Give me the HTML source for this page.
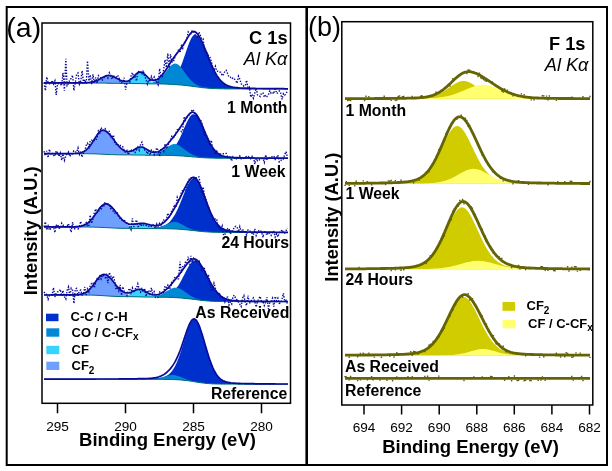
<!DOCTYPE html>
<html><head><meta charset="utf-8">
<style>
html,body{margin:0;padding:0;background:#fff;}
svg{display:block;will-change:transform;}
text{font-family:"Liberation Sans", sans-serif;fill:#000;}
.b{font-weight:bold;}
</style></head><body>
<svg width="612" height="471" viewBox="0 0 612 471">
<rect x="0" y="0" width="612" height="471" fill="#fff"/>
<!-- outer borders -->
<rect x="6.7" y="7" width="600.3" height="458" fill="none" stroke="#000" stroke-width="2"/>
<line x1="306.7" y1="6" x2="306.7" y2="466" stroke="#000" stroke-width="2.6"/>
<!-- plot frames -->
<polygon points="93,82.9 94,82.9 95,82.9 96,82.9 97,82.9 98,82.9 99,82.9 100,82.9 101,82.9 102,83 103,83 104,83 105,83 106,83 107,83 108,83 109,83.1 110,83.1 111,83.1 112,83.1 113,83.1 114,83.1 115,83.1 116,83.2 117,83.2 118,83.2 119,83.2 120,83.2 121,83.2 122,83.2 123,83.2 124,83.2 125,83.2 126,83.2 127,83.2 128,83.2 129,83.2 130,83.2 131,83.2 132,83.2 133,83.2 134,83.2 135,83.2 136,83.2 137,83.2 138,83.2 139,83.3 140,83.3 141,83.3 142,83.3 143,83.3 144,83.3 145,83.3 146,83.4 147,83.4 148,83.4 149,83.4 150,83.3 151,83.3 152,83.3 153,83.3 154,83.3 155,83.3 156,83.2 157,83.2 158,83.2 159,83.1 160,83.1 161,83 162,82.9 163,82.8 164,82.7 165,82.6 166,82.4 167,82.1 168,81.8 169,81.5 170,81 171,80.5 172,79.8 173,79 174,78 175,76.8 176,75.5 177,74 178,72.2 179,70.3 180,68.1 181,65.7 182,63.2 183,60.5 184,57.6 185,54.7 186,51.7 187,48.8 188,46 189,43.3 190,40.9 191,38.7 192,37 193,35.7 194,34.9 195,34.7 196,34.9 197,35.5 198,36.4 199,37.6 200,39.1 201,40.8 202,42.7 203,44.8 204,47.1 205,49.4 206,51.9 207,54.4 208,56.8 209,59.3 210,61.7 211,64 212,66.3 213,68.4 214,70.5 215,72.4 216,74.2 217,75.8 218,77.3 219,78.7 220,79.9 221,81 222,82 223,82.9 224,83.7 225,84.3 226,84.9 227,85.4 228,85.9 229,86.3 230,86.6 231,86.9 232,87.1 233,87.3 234,87.5 235,87.6 236,87.7 237,87.8 238,87.9 239,88 240,88.1 241,88.1 242,88.2 243,88.2 244,88.2 245,88.3 246,88.3 247,88.3 248,88.4 249,88.4 250,88.4 251,88.4 252,88.5 253,88.5 254,88.5 255,88.5 256,88.5 257,88.5 258,88.5 259,88.6 260,88.6 261,88.6 262,88.6 263,88.6 264,88.6 265,88.6 266,88.6 267,88.7 268,88.7 269,88.7 270,88.7 271,88.7 272,88.7 273,88.7 274,88.7 275,88.7 276,88.7 277,88.7 278,88.7 279,88.7 280,88.8 281,88.8 282,88.8 283,88.8 284,88.8 285,88.8 286,88.8 287,88.8 288,88.8 288,89 287,89 286,89 285,89 284,89 283,89 282,89 281,89 280,89 279,89 278,89 277,89 276,89 275,89 274,89 273,89 272,89 271,89 270,89 269,89 268,89 267,89 266,89 265,89 264,89 263,89 262,89 261,89 260,89 259,89 258,89 257,89 256,89 255,89 254,89 253,89 252,89 251,89 250,89 249,89 248,89 247,89 246,89 245,89 244,89 243,89 242,88.9 241,88.9 240,88.9 239,88.9 238,88.9 237,88.9 236,88.9 235,88.9 234,88.9 233,88.9 232,88.9 231,88.9 230,88.9 229,88.9 228,88.9 227,88.9 226,88.9 225,88.9 224,88.8 223,88.8 222,88.8 221,88.8 220,88.8 219,88.7 218,88.7 217,88.7 216,88.6 215,88.6 214,88.6 213,88.5 212,88.5 211,88.4 210,88.3 209,88.3 208,88.2 207,88.1 206,88 205,87.9 204,87.8 203,87.7 202,87.6 201,87.5 200,87.3 199,87.2 198,87.1 197,86.9 196,86.8 195,86.7 194,86.5 193,86.4 192,86.3 191,86.1 190,86 189,85.9 188,85.8 187,85.6 186,85.5 185,85.4 184,85.3 183,85.2 182,85.1 181,85 180,84.9 179,84.9 178,84.8 177,84.7 176,84.6 175,84.6 174,84.5 173,84.4 172,84.4 171,84.3 170,84.3 169,84.2 168,84.2 167,84.1 166,84.1 165,84.1 164,84 163,84 162,84 161,84 160,83.9 159,83.9 158,83.9 157,83.9 156,83.9 155,83.9 154,83.9 153,83.9 152,83.9 151,83.9 150,83.8 149,83.8 148,83.8 147,83.8 146,83.8 145,83.8 144,83.7 143,83.7 142,83.7 141,83.6 140,83.6 139,83.6 138,83.6 137,83.5 136,83.5 135,83.5 134,83.5 133,83.5 132,83.4 131,83.4 130,83.4 129,83.4 128,83.4 127,83.4 126,83.4 125,83.4 124,83.4 123,83.4 122,83.4 121,83.4 120,83.4 119,83.4 118,83.3 117,83.3 116,83.3 115,83.3 114,83.3 113,83.3 112,83.3 111,83.2 110,83.2 109,83.2 108,83.2 107,83.2 106,83.1 105,83.1 104,83.1 103,83.1 102,83.1 101,83.1 100,83.1 99,83.1 98,83 97,83 96,83 95,83 94,83 93,83" fill="#0030CC"/>
<polygon points="100,83 101,83 102,83 103,83 104,83 105,83 106,83.1 107,83.1 108,83.1 109,83.1 110,83.1 111,83.1 112,83.2 113,83.2 114,83.2 115,83.2 116,83.2 117,83.2 118,83.2 119,83.2 120,83.2 121,83.2 122,83.2 123,83.3 124,83.3 125,83.3 126,83.2 127,83.2 128,83.2 129,83.2 130,83.2 131,83.2 132,83.2 133,83.3 134,83.3 135,83.3 136,83.3 137,83.3 138,83.3 139,83.3 140,83.3 141,83.3 142,83.3 143,83.3 144,83.3 145,83.3 146,83.2 147,83.2 148,83.1 149,83 150,82.8 151,82.7 152,82.4 153,82.2 154,81.8 155,81.4 156,80.9 157,80.4 158,79.7 159,79 160,78.2 161,77.2 162,76.2 163,75.1 164,73.9 165,72.7 166,71.4 167,70.2 168,68.9 169,67.7 170,66.6 171,65.6 172,64.8 173,64.2 174,63.8 175,63.6 176,63.7 177,64 178,64.5 179,65.3 180,66.3 181,67.4 182,68.6 183,70 184,71.4 185,72.8 186,74.2 187,75.5 188,76.8 189,78.1 190,79.3 191,80.3 192,81.3 193,82.2 194,83 195,83.7 196,84.3 197,84.9 198,85.4 199,85.8 200,86.2 201,86.5 202,86.7 203,87 204,87.2 205,87.4 206,87.5 207,87.7 208,87.8 209,87.9 210,88 211,88.1 212,88.2 213,88.2 214,88.3 215,88.4 216,88.4 217,88.5 218,88.5 219,88.5 220,88.6 221,88.6 222,88.6 223,88.7 224,88.7 225,88.7 226,88.7 227,88.7 228,88.8 229,88.8 230,88.8 231,88.8 232,88.8 233,88.8 234,88.8 235,88.8 236,88.8 237,88.8 238,88.8 239,88.8 240,88.9 241,88.9 242,88.9 243,88.9 244,88.9 245,88.9 246,88.9 247,88.9 248,88.9 249,88.9 250,88.9 251,88.9 251,89 250,89 249,89 248,89 247,89 246,89 245,89 244,89 243,89 242,88.9 241,88.9 240,88.9 239,88.9 238,88.9 237,88.9 236,88.9 235,88.9 234,88.9 233,88.9 232,88.9 231,88.9 230,88.9 229,88.9 228,88.9 227,88.9 226,88.9 225,88.9 224,88.8 223,88.8 222,88.8 221,88.8 220,88.8 219,88.7 218,88.7 217,88.7 216,88.6 215,88.6 214,88.6 213,88.5 212,88.5 211,88.4 210,88.3 209,88.3 208,88.2 207,88.1 206,88 205,87.9 204,87.8 203,87.7 202,87.6 201,87.5 200,87.3 199,87.2 198,87.1 197,86.9 196,86.8 195,86.7 194,86.5 193,86.4 192,86.3 191,86.1 190,86 189,85.9 188,85.8 187,85.6 186,85.5 185,85.4 184,85.3 183,85.2 182,85.1 181,85 180,84.9 179,84.9 178,84.8 177,84.7 176,84.6 175,84.6 174,84.5 173,84.4 172,84.4 171,84.3 170,84.3 169,84.2 168,84.2 167,84.1 166,84.1 165,84.1 164,84 163,84 162,84 161,84 160,83.9 159,83.9 158,83.9 157,83.9 156,83.9 155,83.9 154,83.9 153,83.9 152,83.9 151,83.9 150,83.8 149,83.8 148,83.8 147,83.8 146,83.8 145,83.8 144,83.7 143,83.7 142,83.7 141,83.6 140,83.6 139,83.6 138,83.6 137,83.5 136,83.5 135,83.5 134,83.5 133,83.5 132,83.4 131,83.4 130,83.4 129,83.4 128,83.4 127,83.4 126,83.4 125,83.4 124,83.4 123,83.4 122,83.4 121,83.4 120,83.4 119,83.4 118,83.3 117,83.3 116,83.3 115,83.3 114,83.3 113,83.3 112,83.3 111,83.2 110,83.2 109,83.2 108,83.2 107,83.2 106,83.1 105,83.1 104,83.1 103,83.1 102,83.1 101,83.1 100,83.1" fill="#0088D4"/>
<polygon points="91,83 92,83 93,83 94,83 95,83 96,83 97,83 98,83 99,83.1 100,83.1 101,83.1 102,83.1 103,83.1 104,83.1 105,83.1 106,83.1 107,83.2 108,83.2 109,83.2 110,83.2 111,83.2 112,83.3 113,83.3 114,83.3 115,83.3 116,83.3 117,83.3 118,83.3 119,83.3 120,83.3 121,83.3 122,83.2 123,83.2 124,83 125,82.9 126,82.6 127,82.3 128,81.8 129,81.3 130,80.6 131,79.8 132,78.9 133,77.9 134,76.8 135,75.8 136,74.8 137,73.9 138,73.2 139,72.8 140,72.6 141,72.7 142,73.1 143,73.8 144,74.6 145,75.6 146,76.7 147,77.8 148,78.8 149,79.8 150,80.7 151,81.4 152,82.1 153,82.6 154,83 155,83.3 156,83.5 157,83.6 158,83.7 159,83.8 160,83.9 161,83.9 162,84 163,84 164,84 165,84.1 166,84.1 167,84.1 168,84.2 169,84.2 170,84.3 171,84.3 172,84.4 173,84.4 174,84.5 175,84.6 176,84.6 177,84.7 178,84.8 179,84.9 180,84.9 181,85 182,85.1 183,85.2 184,85.3 185,85.4 186,85.5 187,85.6 188,85.8 189,85.9 189,85.9 188,85.8 187,85.6 186,85.5 185,85.4 184,85.3 183,85.2 182,85.1 181,85 180,84.9 179,84.9 178,84.8 177,84.7 176,84.6 175,84.6 174,84.5 173,84.4 172,84.4 171,84.3 170,84.3 169,84.2 168,84.2 167,84.1 166,84.1 165,84.1 164,84 163,84 162,84 161,84 160,83.9 159,83.9 158,83.9 157,83.9 156,83.9 155,83.9 154,83.9 153,83.9 152,83.9 151,83.9 150,83.8 149,83.8 148,83.8 147,83.8 146,83.8 145,83.8 144,83.7 143,83.7 142,83.7 141,83.6 140,83.6 139,83.6 138,83.6 137,83.5 136,83.5 135,83.5 134,83.5 133,83.5 132,83.4 131,83.4 130,83.4 129,83.4 128,83.4 127,83.4 126,83.4 125,83.4 124,83.4 123,83.4 122,83.4 121,83.4 120,83.4 119,83.4 118,83.3 117,83.3 116,83.3 115,83.3 114,83.3 113,83.3 112,83.3 111,83.2 110,83.2 109,83.2 108,83.2 107,83.2 106,83.1 105,83.1 104,83.1 103,83.1 102,83.1 101,83.1 100,83.1 99,83.1 98,83 97,83 96,83 95,83 94,83 93,83 92,83 91,83" fill="#38D4FF"/>
<polygon points="46,83 47,83 48,83 49,83 50,83 51,83 52,83 53,83 54,83 55,83 56,83 57,83 58,83 59,83 60,83 61,83 62,83 63,83 64,83 65,83 66,83 67,83 68,83 69,83 70,83 71,83 72,83 73,83 74,83 75,83 76,83 77,83 78,83 79,83 80,83 81,83 82,83 83,83 84,83 85,82.9 86,82.9 87,82.8 88,82.8 89,82.7 90,82.6 91,82.4 92,82.2 93,82 94,81.7 95,81.4 96,81 97,80.6 98,80.1 99,79.6 100,79.1 101,78.5 102,78 103,77.4 104,76.9 105,76.5 106,76.2 107,75.9 108,75.7 109,75.7 110,75.8 111,76 112,76.3 113,76.7 114,77.1 115,77.6 116,78.2 117,78.8 118,79.4 119,79.9 120,80.5 121,80.9 122,81.4 123,81.8 124,82.1 125,82.4 126,82.6 127,82.8 128,83 129,83.1 130,83.2 131,83.3 132,83.3 133,83.4 134,83.4 135,83.5 136,83.5 137,83.5 138,83.5 139,83.6 140,83.6 141,83.6 142,83.7 143,83.7 144,83.7 145,83.8 146,83.8 147,83.8 148,83.8 149,83.8 150,83.8 151,83.9 152,83.9 153,83.9 154,83.9 155,83.9 156,83.9 157,83.9 158,83.9 159,83.9 160,83.9 161,84 162,84 163,84 164,84 165,84.1 166,84.1 167,84.1 168,84.2 169,84.2 170,84.3 171,84.3 172,84.4 172,84.4 171,84.3 170,84.3 169,84.2 168,84.2 167,84.1 166,84.1 165,84.1 164,84 163,84 162,84 161,84 160,83.9 159,83.9 158,83.9 157,83.9 156,83.9 155,83.9 154,83.9 153,83.9 152,83.9 151,83.9 150,83.8 149,83.8 148,83.8 147,83.8 146,83.8 145,83.8 144,83.7 143,83.7 142,83.7 141,83.6 140,83.6 139,83.6 138,83.6 137,83.5 136,83.5 135,83.5 134,83.5 133,83.5 132,83.4 131,83.4 130,83.4 129,83.4 128,83.4 127,83.4 126,83.4 125,83.4 124,83.4 123,83.4 122,83.4 121,83.4 120,83.4 119,83.4 118,83.3 117,83.3 116,83.3 115,83.3 114,83.3 113,83.3 112,83.3 111,83.2 110,83.2 109,83.2 108,83.2 107,83.2 106,83.1 105,83.1 104,83.1 103,83.1 102,83.1 101,83.1 100,83.1 99,83.1 98,83 97,83 96,83 95,83 94,83 93,83 92,83 91,83 90,83 89,83 88,83 87,83 86,83 85,83 84,83 83,83 82,83 81,83 80,83 79,83 78,83 77,83 76,83 75,83 74,83 73,83 72,83 71,83 70,83 69,83 68,83 67,83 66,83 65,83 64,83 63,83 62,83 61,83 60,83 59,83 58,83 57,83 56,83 55,83 54,83 53,83 52,83 51,83 50,83 49,83 48,83 47,83 46,83" fill="#70A0FF"/>
<polyline points="44,83 45,83 46,83 47,83 48,83 49,83 50,83 51,83 52,83 53,83 54,83 55,83 56,83 57,83 58,83 59,83 60,83 61,83 62,83 63,83 64,83 65,83 66,83 67,83 68,83 69,83 70,83 71,83 72,83 73,83 74,83 75,83 76,83 77,83 78,83 79,83 80,83 81,83 82,83 83,83 84,83 85,83 86,83 87,83 88,83 89,83 90,83 91,83 92,83 93,83 94,83 95,83 96,83 97,83 98,83 99,83.1 100,83.1 101,83.1 102,83.1 103,83.1 104,83.1 105,83.1 106,83.1 107,83.2 108,83.2 109,83.2 110,83.2 111,83.2 112,83.3 113,83.3 114,83.3 115,83.3 116,83.3 117,83.3 118,83.3 119,83.4 120,83.4 121,83.4 122,83.4 123,83.4 124,83.4 125,83.4 126,83.4 127,83.4 128,83.4 129,83.4 130,83.4 131,83.4 132,83.4 133,83.5 134,83.5 135,83.5 136,83.5 137,83.5 138,83.6 139,83.6 140,83.6 141,83.6 142,83.7 143,83.7 144,83.7 145,83.8 146,83.8 147,83.8 148,83.8 149,83.8 150,83.8 151,83.9 152,83.9 153,83.9 154,83.9 155,83.9 156,83.9 157,83.9 158,83.9 159,83.9 160,83.9 161,84 162,84 163,84 164,84 165,84.1 166,84.1 167,84.1 168,84.2 169,84.2 170,84.3 171,84.3 172,84.4 173,84.4 174,84.5 175,84.6 176,84.6 177,84.7 178,84.8 179,84.9 180,84.9 181,85 182,85.1 183,85.2 184,85.3 185,85.4 186,85.5 187,85.6 188,85.8 189,85.9 190,86 191,86.1 192,86.3 193,86.4 194,86.5 195,86.7 196,86.8 197,86.9 198,87.1 199,87.2 200,87.3 201,87.5 202,87.6 203,87.7 204,87.8 205,87.9 206,88 207,88.1 208,88.2 209,88.3 210,88.3 211,88.4 212,88.5 213,88.5 214,88.6 215,88.6 216,88.6 217,88.7 218,88.7 219,88.7 220,88.8 221,88.8 222,88.8 223,88.8 224,88.8 225,88.9 226,88.9 227,88.9 228,88.9 229,88.9 230,88.9 231,88.9 232,88.9 233,88.9 234,88.9 235,88.9 236,88.9 237,88.9 238,88.9 239,88.9 240,88.9 241,88.9 242,88.9 243,89 244,89 245,89 246,89 247,89 248,89 249,89 250,89 251,89 252,89 253,89 254,89 255,89 256,89 257,89 258,89 259,89 260,89 261,89 262,89 263,89 264,89 265,89 266,89 267,89 268,89 269,89 270,89 271,89 272,89 273,89 274,89 275,89 276,89 277,89 278,89 279,89 280,89 281,89 282,89 283,89 284,89 285,89 286,89 287,89 288,89" fill="none" stroke="#00707A" stroke-width="1.0"/>
<polyline points="44,82.4 45.4,90.6 46.7,77 48.1,82.5 49.4,83.8 50.8,83.3 52.2,80.4 53.5,84 54.9,81 56.2,94.9 57.6,83.6 59,83.8 60.3,84.1 61.7,85.5 63,72.8 64.4,90.7 65.8,58.8 67.1,85.6 68.5,83.8 69.8,79.6 71.2,78.5 72.6,75.2 73.9,90.5 75.3,82.8 76.6,74.3 78,73 79.4,84.2 80.7,81.5 82.1,70.7 83.4,81.7 84.8,79.6 86.2,83.3 87.5,60.9 88.9,81 90.2,74.9 91.6,84.2 93,74.4 94.3,82.9 95.7,77.4 97,83.2 98.4,75.6 99.8,77.5 101.1,77.9 102.5,80 103.8,78 105.2,76 106.6,75.9 107.9,78 109.3,72.8 110.6,75.8 112,79.2 113.4,75.4 114.7,77 116.1,77.3 117.4,75.3 118.8,76.8 120.2,82.6 121.5,82.8 122.9,81.5 124.2,77.8 125.6,89.7 127,82.5 128.3,81 129.7,82 131,76.2 132.4,72.6 133.8,77.1 135.1,75.7 136.5,81 137.8,71.5 139.2,71.7 140.6,71.9 141.9,74.6 143.3,70.4 144.6,76.6 146,79 147.4,84 148.7,79.9 150.1,81.6 151.4,76.6 152.8,80.7 154.2,77 155.5,79.7 156.9,82.8 158.2,84.8 159.6,68.7 161,76.5 162.3,76.7 163.7,69.2 165,59.9 166.4,67.5 167.8,53.4 169.1,68.2 170.5,54.3 171.8,61.9 173.2,62.2 174.6,58 175.9,54.1 177.3,53 178.6,49.4 180,52.7 181.4,45.9 182.7,48.4 184.1,43.3 185.4,42.3 186.8,39 188.2,32 189.5,33.3 190.9,33.7 192.2,30.7 193.6,31.6 195,34.7 196.3,35.7 197.7,38.2 199,32 200.4,35.5 201.8,39.2 203.1,38.9 204.5,50.4 205.8,51.3 207.2,53.2 208.6,55.7 209.9,57 211.3,61.4 212.6,66.8 214,70.2 215.4,66.3 216.7,71.1 218.1,71.2 219.4,72 220.8,72.4 222.2,75.8 223.5,74.3 224.9,71.2 226.2,70.3 227.6,73.6 229,77.1 230.3,77.1 231.7,78.9 233,77.9 234.4,79.1 235.8,80.9 237.1,83.3 238.5,76.2 239.8,79.1 241.2,83.8 242.6,84.5 243.9,86.2 245.3,85.7 246.6,80.3 248,88.4 249.4,87.2 250.7,97.2 252.1,94.2 253.4,98.2 254.8,93.2 256.2,88.2 257.5,94.8 258.9,95.4 260.2,96.5 261.6,93.2 263,93 264.3,97.2 265.7,94.9 267,96.4 268.4,94.8 269.8,90.7 271.1,93.2 272.5,92.5 273.8,93.8 275.2,87.5 276.6,93.5 277.9,92.8 279.3,90.9 280.6,92.5 282,99.3 283.4,93.7 284.7,95.1 286.1,93.7 287.4,90.6" fill="none" stroke="#0A0A9A" stroke-width="1.4" stroke-dasharray="1.4 1.5"/>
<polyline points="44,82.9 45,82.9 46,82.9 47,82.9 48,82.9 49,82.9 50,82.9 51,82.9 52,82.9 53,82.9 54,82.9 55,82.9 56,82.9 57,82.9 58,82.9 59,82.9 60,82.9 61,82.9 62,82.9 63,82.9 64,82.9 65,82.9 66,82.9 67,82.9 68,82.9 69,82.9 70,82.9 71,82.9 72,82.9 73,82.9 74,82.9 75,82.9 76,82.9 77,82.9 78,82.9 79,82.9 80,82.9 81,82.9 82,82.9 83,82.8 84,82.8 85,82.8 86,82.8 87,82.7 88,82.6 89,82.5 90,82.4 91,82.3 92,82.1 93,81.8 94,81.6 95,81.2 96,80.9 97,80.4 98,80 99,79.4 100,78.9 101,78.3 102,77.8 103,77.2 104,76.7 105,76.3 106,75.9 107,75.7 108,75.5 109,75.5 110,75.5 111,75.7 112,76 113,76.4 114,76.9 115,77.4 116,77.9 117,78.5 118,79.1 119,79.6 120,80.1 121,80.5 122,80.9 123,81.2 124,81.4 125,81.5 126,81.4 127,81.3 128,81 129,80.5 130,79.9 131,79.2 132,78.3 133,77.3 134,76.3 135,75.2 136,74.2 137,73.3 138,72.6 139,72.2 140,72 141,72.1 142,72.4 143,73 144,73.8 145,74.7 146,75.7 147,76.7 148,77.7 149,78.5 150,79.2 151,79.7 152,80.1 153,80.3 154,80.3 155,80.2 156,79.9 157,79.4 158,78.8 159,78.1 160,77.2 161,76.2 162,75.1 163,73.9 164,72.6 165,71.2 166,69.7 167,68.2 168,66.6 169,65 170,63.4 171,61.8 172,60.2 173,58.7 174,57.3 175,55.9 176,54.5 177,53.2 178,52 179,50.7 180,49.4 181,48.1 182,46.7 183,45.2 184,43.7 185,42 186,40.4 187,38.7 188,37.1 189,35.5 190,34.1 191,33 192,32.1 193,31.5 194,31.4 195,31.7 196,32.5 197,33.4 198,34.7 199,36.2 200,37.9 201,39.8 202,41.9 203,44.1 204,46.5 205,48.9 206,51.4 207,53.9 208,56.4 209,58.9 210,61.4 211,63.7 212,66 213,68.2 214,70.2 215,72.1 216,73.9 217,75.6 218,77.1 219,78.5 220,79.7 221,80.8 222,81.8 223,82.7 224,83.5 225,84.2 226,84.8 227,85.3 228,85.7 229,86.1 230,86.4 231,86.7 232,87 233,87.2 234,87.3 235,87.5 236,87.6 237,87.7 238,87.8 239,87.9 240,88 241,88 242,88.1 243,88.1 244,88.2 245,88.2 246,88.2 247,88.3 248,88.3 249,88.3 250,88.3 251,88.4 252,88.4 253,88.4 254,88.4 255,88.4 256,88.5 257,88.5 258,88.5 259,88.5 260,88.5 261,88.5 262,88.5 263,88.6 264,88.6 265,88.6 266,88.6 267,88.6 268,88.6 269,88.6 270,88.6 271,88.6 272,88.7 273,88.7 274,88.7 275,88.7 276,88.7 277,88.7 278,88.7 279,88.7 280,88.7 281,88.7 282,88.7 283,88.7 284,88.7 285,88.8 286,88.8 287,88.8 288,88.8" fill="none" stroke="#0A0A9A" stroke-width="1.7" stroke-linejoin="round"/>
<polygon points="106,154.2 107,154.3 108,154.3 109,154.4 110,154.4 111,154.5 112,154.5 113,154.5 114,154.6 115,154.6 116,154.6 117,154.6 118,154.6 119,154.7 120,154.7 121,154.7 122,154.7 123,154.7 124,154.7 125,154.7 126,154.7 127,154.7 128,154.7 129,154.7 130,154.7 131,154.7 132,154.7 133,154.7 134,154.7 135,154.7 136,154.7 137,154.7 138,154.7 139,154.7 140,154.7 141,154.7 142,154.7 143,154.7 144,154.8 145,154.8 146,154.7 147,154.7 148,154.7 149,154.7 150,154.7 151,154.7 152,154.7 153,154.7 154,154.6 155,154.6 156,154.6 157,154.5 158,154.5 159,154.4 160,154.3 161,154.2 162,154.1 163,153.9 164,153.7 165,153.5 166,153.2 167,152.8 168,152.4 169,151.9 170,151.3 171,150.6 172,149.7 173,148.7 174,147.6 175,146.3 176,144.9 177,143.3 178,141.6 179,139.7 180,137.7 181,135.5 182,133.3 183,131 184,128.6 185,126.3 186,124.1 187,121.9 188,119.9 189,118.2 190,116.6 191,115.5 192,114.6 193,114.2 194,114.2 195,114.5 196,115.2 197,116.3 198,117.7 199,119.3 200,121.2 201,123.3 202,125.5 203,127.8 204,130.1 205,132.5 206,134.8 207,137.1 208,139.2 209,141.3 210,143.2 211,145 212,146.7 213,148.2 214,149.5 215,150.7 216,151.8 217,152.7 218,153.5 219,154.2 220,154.8 221,155.3 222,155.8 223,156.1 224,156.4 225,156.6 226,156.9 227,157 228,157.2 229,157.3 230,157.4 231,157.4 232,157.5 233,157.6 234,157.6 235,157.7 236,157.7 237,157.7 238,157.8 239,157.8 240,157.8 241,157.8 242,157.8 243,157.9 244,157.9 245,157.9 246,157.9 247,157.9 248,157.9 249,157.9 250,158 251,158 252,158 253,158 254,158 255,158 256,158 257,158 258,158 259,158 260,158.1 261,158.1 262,158.1 263,158.1 264,158.1 265,158.1 266,158.1 267,158.1 268,158.1 269,158.1 270,158.1 271,158.1 272,158.1 273,158.1 274,158.1 275,158.1 276,158.1 277,158.1 278,158.1 279,158.2 280,158.2 281,158.2 281,158.3 280,158.3 279,158.3 278,158.3 277,158.3 276,158.3 275,158.3 274,158.3 273,158.3 272,158.3 271,158.3 270,158.3 269,158.3 268,158.3 267,158.3 266,158.3 265,158.3 264,158.3 263,158.3 262,158.3 261,158.3 260,158.3 259,158.3 258,158.3 257,158.3 256,158.3 255,158.3 254,158.3 253,158.3 252,158.3 251,158.3 250,158.3 249,158.3 248,158.3 247,158.3 246,158.3 245,158.3 244,158.3 243,158.3 242,158.3 241,158.3 240,158.3 239,158.3 238,158.3 237,158.3 236,158.3 235,158.3 234,158.3 233,158.3 232,158.3 231,158.3 230,158.3 229,158.3 228,158.3 227,158.3 226,158.2 225,158.2 224,158.2 223,158.2 222,158.2 221,158.2 220,158.2 219,158.2 218,158.2 217,158.2 216,158.2 215,158.2 214,158.1 213,158.1 212,158.1 211,158.1 210,158 209,158 208,158 207,157.9 206,157.9 205,157.8 204,157.8 203,157.7 202,157.6 201,157.6 200,157.5 199,157.4 198,157.3 197,157.2 196,157.1 195,157 194,157 193,156.9 192,156.8 191,156.7 190,156.6 189,156.5 188,156.4 187,156.3 186,156.3 185,156.2 184,156.1 183,156 182,156 181,155.9 180,155.9 179,155.8 178,155.7 177,155.7 176,155.7 175,155.6 174,155.6 173,155.5 172,155.5 171,155.5 170,155.4 169,155.4 168,155.4 167,155.4 166,155.3 165,155.3 164,155.3 163,155.3 162,155.3 161,155.3 160,155.3 159,155.3 158,155.2 157,155.2 156,155.2 155,155.2 154,155.2 153,155.2 152,155.2 151,155.2 150,155.2 149,155.2 148,155.2 147,155.2 146,155.2 145,155.1 144,155.1 143,155.1 142,155.1 141,155.1 140,155.1 139,155 138,155 137,155 136,155 135,155 134,155 133,155 132,155 131,154.9 130,154.9 129,154.9 128,154.9 127,154.9 126,154.9 125,154.9 124,154.9 123,154.9 122,154.9 121,154.9 120,154.8 119,154.8 118,154.8 117,154.8 116,154.8 115,154.7 114,154.7 113,154.7 112,154.6 111,154.6 110,154.6 109,154.5 108,154.5 107,154.4 106,154.4" fill="#0030CC"/>
<polygon points="99,154 100,154 101,154.1 102,154.1 103,154.2 104,154.2 105,154.3 106,154.3 107,154.4 108,154.4 109,154.5 110,154.5 111,154.5 112,154.6 113,154.6 114,154.6 115,154.7 116,154.7 117,154.7 118,154.7 119,154.8 120,154.8 121,154.8 122,154.8 123,154.8 124,154.8 125,154.8 126,154.8 127,154.8 128,154.8 129,154.8 130,154.8 131,154.8 132,154.8 133,154.8 134,154.9 135,154.9 136,154.9 137,154.9 138,154.9 139,154.9 140,154.9 141,154.9 142,154.9 143,154.9 144,154.9 145,154.9 146,154.8 147,154.8 148,154.7 149,154.7 150,154.6 151,154.5 152,154.3 153,154.2 154,153.9 155,153.7 156,153.4 157,153.1 158,152.7 159,152.2 160,151.7 161,151.2 162,150.6 163,150 164,149.3 165,148.6 166,147.9 167,147.2 168,146.6 169,145.9 170,145.4 171,144.9 172,144.5 173,144.3 174,144.1 175,144.1 176,144.3 177,144.5 178,144.9 179,145.4 180,146 181,146.7 182,147.4 183,148.2 184,149 185,149.7 186,150.5 187,151.3 188,152 189,152.6 190,153.3 191,153.8 192,154.4 193,154.8 194,155.3 195,155.6 196,156 197,156.2 198,156.5 199,156.7 200,156.9 201,157.1 202,157.2 203,157.3 204,157.5 205,157.5 206,157.6 207,157.7 208,157.8 209,157.8 210,157.9 211,157.9 212,157.9 213,158 214,158 215,158 216,158.1 217,158.1 218,158.1 219,158.1 220,158.1 221,158.1 222,158.1 223,158.1 224,158.2 225,158.2 226,158.2 227,158.2 228,158.2 229,158.2 230,158.2 231,158.2 232,158.2 233,158.2 234,158.2 235,158.2 236,158.2 237,158.2 238,158.2 239,158.2 240,158.2 241,158.2 242,158.2 243,158.2 244,158.2 245,158.2 246,158.2 247,158.2 248,158.2 249,158.2 250,158.2 250,158.3 249,158.3 248,158.3 247,158.3 246,158.3 245,158.3 244,158.3 243,158.3 242,158.3 241,158.3 240,158.3 239,158.3 238,158.3 237,158.3 236,158.3 235,158.3 234,158.3 233,158.3 232,158.3 231,158.3 230,158.3 229,158.3 228,158.3 227,158.3 226,158.2 225,158.2 224,158.2 223,158.2 222,158.2 221,158.2 220,158.2 219,158.2 218,158.2 217,158.2 216,158.2 215,158.2 214,158.1 213,158.1 212,158.1 211,158.1 210,158 209,158 208,158 207,157.9 206,157.9 205,157.8 204,157.8 203,157.7 202,157.6 201,157.6 200,157.5 199,157.4 198,157.3 197,157.2 196,157.1 195,157 194,157 193,156.9 192,156.8 191,156.7 190,156.6 189,156.5 188,156.4 187,156.3 186,156.3 185,156.2 184,156.1 183,156 182,156 181,155.9 180,155.9 179,155.8 178,155.7 177,155.7 176,155.7 175,155.6 174,155.6 173,155.5 172,155.5 171,155.5 170,155.4 169,155.4 168,155.4 167,155.4 166,155.3 165,155.3 164,155.3 163,155.3 162,155.3 161,155.3 160,155.3 159,155.3 158,155.2 157,155.2 156,155.2 155,155.2 154,155.2 153,155.2 152,155.2 151,155.2 150,155.2 149,155.2 148,155.2 147,155.2 146,155.2 145,155.1 144,155.1 143,155.1 142,155.1 141,155.1 140,155.1 139,155 138,155 137,155 136,155 135,155 134,155 133,155 132,155 131,154.9 130,154.9 129,154.9 128,154.9 127,154.9 126,154.9 125,154.9 124,154.9 123,154.9 122,154.9 121,154.9 120,154.8 119,154.8 118,154.8 117,154.8 116,154.8 115,154.7 114,154.7 113,154.7 112,154.6 111,154.6 110,154.6 109,154.5 108,154.5 107,154.4 106,154.4 105,154.3 104,154.3 103,154.2 102,154.2 101,154.1 100,154.1 99,154" fill="#0088D4"/>
<polygon points="89,153.8 90,153.8 91,153.8 92,153.8 93,153.8 94,153.9 95,153.9 96,153.9 97,154 98,154 99,154 100,154.1 101,154.1 102,154.2 103,154.2 104,154.3 105,154.3 106,154.4 107,154.4 108,154.5 109,154.5 110,154.6 111,154.6 112,154.6 113,154.7 114,154.7 115,154.7 116,154.8 117,154.8 118,154.8 119,154.8 120,154.8 121,154.8 122,154.8 123,154.7 124,154.6 125,154.5 126,154.4 127,154.1 128,153.9 129,153.5 130,153.1 131,152.5 132,152 133,151.3 134,150.6 135,149.9 136,149.3 137,148.7 138,148.2 139,147.8 140,147.6 141,147.6 142,147.7 143,148 144,148.5 145,149.1 146,149.7 147,150.4 148,151.1 149,151.8 150,152.4 151,153 152,153.5 153,153.9 154,154.3 155,154.5 156,154.7 157,154.9 158,155 159,155.1 160,155.2 161,155.2 162,155.2 163,155.3 164,155.3 165,155.3 166,155.3 167,155.4 168,155.4 169,155.4 170,155.4 171,155.5 172,155.5 173,155.5 174,155.6 175,155.6 176,155.7 177,155.7 178,155.7 179,155.8 180,155.9 181,155.9 182,156 183,156 184,156.1 185,156.2 186,156.3 187,156.3 188,156.4 189,156.5 190,156.6 191,156.7 192,156.8 192,156.8 191,156.7 190,156.6 189,156.5 188,156.4 187,156.3 186,156.3 185,156.2 184,156.1 183,156 182,156 181,155.9 180,155.9 179,155.8 178,155.7 177,155.7 176,155.7 175,155.6 174,155.6 173,155.5 172,155.5 171,155.5 170,155.4 169,155.4 168,155.4 167,155.4 166,155.3 165,155.3 164,155.3 163,155.3 162,155.3 161,155.3 160,155.3 159,155.3 158,155.2 157,155.2 156,155.2 155,155.2 154,155.2 153,155.2 152,155.2 151,155.2 150,155.2 149,155.2 148,155.2 147,155.2 146,155.2 145,155.1 144,155.1 143,155.1 142,155.1 141,155.1 140,155.1 139,155 138,155 137,155 136,155 135,155 134,155 133,155 132,155 131,154.9 130,154.9 129,154.9 128,154.9 127,154.9 126,154.9 125,154.9 124,154.9 123,154.9 122,154.9 121,154.9 120,154.8 119,154.8 118,154.8 117,154.8 116,154.8 115,154.7 114,154.7 113,154.7 112,154.6 111,154.6 110,154.6 109,154.5 108,154.5 107,154.4 106,154.4 105,154.3 104,154.3 103,154.2 102,154.2 101,154.1 100,154.1 99,154 98,154 97,154 96,153.9 95,153.9 94,153.9 93,153.8 92,153.8 91,153.8 90,153.8 89,153.8" fill="#38D4FF"/>
<polygon points="44,153.7 45,153.7 46,153.7 47,153.7 48,153.7 49,153.7 50,153.7 51,153.7 52,153.7 53,153.7 54,153.7 55,153.7 56,153.7 57,153.7 58,153.7 59,153.7 60,153.7 61,153.7 62,153.7 63,153.7 64,153.7 65,153.7 66,153.7 67,153.7 68,153.7 69,153.7 70,153.7 71,153.7 72,153.7 73,153.6 74,153.6 75,153.6 76,153.5 77,153.4 78,153.3 79,153.2 80,153 81,152.7 82,152.4 83,152 84,151.5 85,150.9 86,150.2 87,149.4 88,148.4 89,147.2 90,146 91,144.6 92,143.1 93,141.5 94,139.9 95,138.3 96,136.7 97,135.2 98,133.8 99,132.6 100,131.7 101,130.9 102,130.5 103,130.4 104,130.6 105,130.9 106,131.4 107,132.1 108,133 109,134 110,135.1 111,136.3 112,137.6 113,138.9 114,140.3 115,141.6 116,142.9 117,144.2 118,145.4 119,146.6 120,147.6 121,148.6 122,149.5 123,150.3 124,151.1 125,151.7 126,152.2 127,152.7 128,153.1 129,153.5 130,153.8 131,154 132,154.2 133,154.4 134,154.5 135,154.6 136,154.7 137,154.8 138,154.9 139,154.9 140,155 141,155 142,155 143,155.1 144,155.1 145,155.1 146,155.1 147,155.2 148,155.2 149,155.2 150,155.2 151,155.2 152,155.2 153,155.2 154,155.2 155,155.2 156,155.2 157,155.2 158,155.2 159,155.3 160,155.3 161,155.3 162,155.3 163,155.3 164,155.3 165,155.3 166,155.3 167,155.4 168,155.4 169,155.4 170,155.4 171,155.5 172,155.5 173,155.5 174,155.6 175,155.6 176,155.7 177,155.7 178,155.7 179,155.8 180,155.9 181,155.9 182,156 183,156 184,156.1 185,156.2 186,156.3 187,156.3 188,156.4 189,156.5 190,156.6 190,156.6 189,156.5 188,156.4 187,156.3 186,156.3 185,156.2 184,156.1 183,156 182,156 181,155.9 180,155.9 179,155.8 178,155.7 177,155.7 176,155.7 175,155.6 174,155.6 173,155.5 172,155.5 171,155.5 170,155.4 169,155.4 168,155.4 167,155.4 166,155.3 165,155.3 164,155.3 163,155.3 162,155.3 161,155.3 160,155.3 159,155.3 158,155.2 157,155.2 156,155.2 155,155.2 154,155.2 153,155.2 152,155.2 151,155.2 150,155.2 149,155.2 148,155.2 147,155.2 146,155.2 145,155.1 144,155.1 143,155.1 142,155.1 141,155.1 140,155.1 139,155 138,155 137,155 136,155 135,155 134,155 133,155 132,155 131,154.9 130,154.9 129,154.9 128,154.9 127,154.9 126,154.9 125,154.9 124,154.9 123,154.9 122,154.9 121,154.9 120,154.8 119,154.8 118,154.8 117,154.8 116,154.8 115,154.7 114,154.7 113,154.7 112,154.6 111,154.6 110,154.6 109,154.5 108,154.5 107,154.4 106,154.4 105,154.3 104,154.3 103,154.2 102,154.2 101,154.1 100,154.1 99,154 98,154 97,154 96,153.9 95,153.9 94,153.9 93,153.8 92,153.8 91,153.8 90,153.8 89,153.8 88,153.7 87,153.7 86,153.7 85,153.7 84,153.7 83,153.7 82,153.7 81,153.7 80,153.7 79,153.7 78,153.7 77,153.7 76,153.7 75,153.7 74,153.7 73,153.7 72,153.7 71,153.7 70,153.7 69,153.7 68,153.7 67,153.7 66,153.7 65,153.7 64,153.7 63,153.7 62,153.7 61,153.7 60,153.7 59,153.7 58,153.7 57,153.7 56,153.7 55,153.7 54,153.7 53,153.7 52,153.7 51,153.7 50,153.7 49,153.7 48,153.7 47,153.7 46,153.7 45,153.7 44,153.7" fill="#70A0FF"/>
<polyline points="44,153.7 45,153.7 46,153.7 47,153.7 48,153.7 49,153.7 50,153.7 51,153.7 52,153.7 53,153.7 54,153.7 55,153.7 56,153.7 57,153.7 58,153.7 59,153.7 60,153.7 61,153.7 62,153.7 63,153.7 64,153.7 65,153.7 66,153.7 67,153.7 68,153.7 69,153.7 70,153.7 71,153.7 72,153.7 73,153.7 74,153.7 75,153.7 76,153.7 77,153.7 78,153.7 79,153.7 80,153.7 81,153.7 82,153.7 83,153.7 84,153.7 85,153.7 86,153.7 87,153.7 88,153.7 89,153.8 90,153.8 91,153.8 92,153.8 93,153.8 94,153.9 95,153.9 96,153.9 97,154 98,154 99,154 100,154.1 101,154.1 102,154.2 103,154.2 104,154.3 105,154.3 106,154.4 107,154.4 108,154.5 109,154.5 110,154.6 111,154.6 112,154.6 113,154.7 114,154.7 115,154.7 116,154.8 117,154.8 118,154.8 119,154.8 120,154.8 121,154.9 122,154.9 123,154.9 124,154.9 125,154.9 126,154.9 127,154.9 128,154.9 129,154.9 130,154.9 131,154.9 132,155 133,155 134,155 135,155 136,155 137,155 138,155 139,155 140,155.1 141,155.1 142,155.1 143,155.1 144,155.1 145,155.1 146,155.2 147,155.2 148,155.2 149,155.2 150,155.2 151,155.2 152,155.2 153,155.2 154,155.2 155,155.2 156,155.2 157,155.2 158,155.2 159,155.3 160,155.3 161,155.3 162,155.3 163,155.3 164,155.3 165,155.3 166,155.3 167,155.4 168,155.4 169,155.4 170,155.4 171,155.5 172,155.5 173,155.5 174,155.6 175,155.6 176,155.7 177,155.7 178,155.7 179,155.8 180,155.9 181,155.9 182,156 183,156 184,156.1 185,156.2 186,156.3 187,156.3 188,156.4 189,156.5 190,156.6 191,156.7 192,156.8 193,156.9 194,157 195,157 196,157.1 197,157.2 198,157.3 199,157.4 200,157.5 201,157.6 202,157.6 203,157.7 204,157.8 205,157.8 206,157.9 207,157.9 208,158 209,158 210,158 211,158.1 212,158.1 213,158.1 214,158.1 215,158.2 216,158.2 217,158.2 218,158.2 219,158.2 220,158.2 221,158.2 222,158.2 223,158.2 224,158.2 225,158.2 226,158.2 227,158.3 228,158.3 229,158.3 230,158.3 231,158.3 232,158.3 233,158.3 234,158.3 235,158.3 236,158.3 237,158.3 238,158.3 239,158.3 240,158.3 241,158.3 242,158.3 243,158.3 244,158.3 245,158.3 246,158.3 247,158.3 248,158.3 249,158.3 250,158.3 251,158.3 252,158.3 253,158.3 254,158.3 255,158.3 256,158.3 257,158.3 258,158.3 259,158.3 260,158.3 261,158.3 262,158.3 263,158.3 264,158.3 265,158.3 266,158.3 267,158.3 268,158.3 269,158.3 270,158.3 271,158.3 272,158.3 273,158.3 274,158.3 275,158.3 276,158.3 277,158.3 278,158.3 279,158.3 280,158.3 281,158.3 282,158.3 283,158.3 284,158.3 285,158.3 286,158.3 287,158.3 288,158.3" fill="none" stroke="#00707A" stroke-width="1.0"/>
<polyline points="44,151.2 45.4,155.6 46.7,150.9 48.1,157.7 49.4,149.2 50.8,155 52.2,153.6 53.5,155.2 54.9,156.3 56.2,150.8 57.6,152.9 59,156.4 60.3,153.1 61.7,160.2 63,153.9 64.4,160.4 65.8,156.2 67.1,153.6 68.5,152 69.8,156.5 71.2,154.1 72.6,153.7 73.9,150.8 75.3,151.8 76.6,152.2 78,148 79.4,154.6 80.7,152.5 82.1,157.1 83.4,153.3 84.8,150.3 86.2,145.4 87.5,143.3 88.9,147 90.2,141.1 91.6,140.2 93,141.5 94.3,140.4 95.7,140.5 97,138.1 98.4,130.9 99.8,132.9 101.1,127.6 102.5,130.3 103.8,130.2 105.2,128.8 106.6,131.7 107.9,131.1 109.3,131.3 110.6,136.2 112,137.8 113.4,135.1 114.7,142.6 116.1,144.3 117.4,143.6 118.8,146.1 120.2,145.5 121.5,145.6 122.9,147 124.2,150.2 125.6,152.7 127,150.6 128.3,154.6 129.7,151.9 131,149.3 132.4,151.5 133.8,150.6 135.1,152.5 136.5,149.9 137.8,147.2 139.2,150.3 140.6,144.4 141.9,142.2 143.3,147.5 144.6,149.9 146,150.8 147.4,153.9 148.7,150.9 150.1,155 151.4,149.9 152.8,150.5 154.2,154.3 155.5,150.5 156.9,147.9 158.2,150.3 159.6,156.6 161,148.4 162.3,149.2 163.7,151.2 165,143.6 166.4,148.8 167.8,145.8 169.1,142.5 170.5,139.9 171.8,136.4 173.2,137.9 174.6,136.8 175.9,133.2 177.3,129.7 178.6,128.4 180,129.3 181.4,131.7 182.7,130.4 184.1,116.6 185.4,120.3 186.8,117.9 188.2,115.6 189.5,115.3 190.9,112.6 192.2,109.5 193.6,110.8 195,114.7 196.3,115.4 197.7,116.6 199,119.8 200.4,119.3 201.8,122.8 203.1,129.1 204.5,134.8 205.8,134.2 207.2,136.8 208.6,141.1 209.9,145.4 211.3,140.3 212.6,149.2 214,150.4 215.4,154.5 216.7,151.1 218.1,153 219.4,155 220.8,153.9 222.2,153.9 223.5,153.7 224.9,153.5 226.2,153.4 227.6,156.6 229,156.9 230.3,157.1 231.7,161.1 233,156.6 234.4,157.7 235.8,159.6 237.1,157.5 238.5,158.2 239.8,156 241.2,158.7 242.6,157.9 243.9,158.5 245.3,157.1 246.6,156.3 248,156.1 249.4,157.9 250.7,158.7 252.1,156.2 253.4,156.2 254.8,164.1 256.2,158.4 257.5,160.7 258.9,159.6 260.2,160.1 261.6,158.6 263,158.7 264.3,162.4 265.7,154.8 267,160.2 268.4,157.1 269.8,158.1 271.1,157.4 272.5,156.5 273.8,156 275.2,159.4 276.6,157.8 277.9,155.1 279.3,161.9 280.6,160.9 282,159 283.4,159 284.7,154.4 286.1,151.6 287.4,157.4" fill="none" stroke="#0A0A9A" stroke-width="1.4" stroke-dasharray="1.4 1.5"/>
<polyline points="44,153.6 45,153.6 46,153.6 47,153.6 48,153.6 49,153.6 50,153.6 51,153.6 52,153.6 53,153.6 54,153.6 55,153.6 56,153.6 57,153.6 58,153.6 59,153.6 60,153.6 61,153.6 62,153.6 63,153.6 64,153.6 65,153.6 66,153.6 67,153.6 68,153.6 69,153.6 70,153.6 71,153.6 72,153.6 73,153.6 74,153.5 75,153.5 76,153.4 77,153.3 78,153.2 79,153.1 80,152.9 81,152.6 82,152.3 83,151.9 84,151.4 85,150.8 86,150.1 87,149.2 88,148.2 89,147.1 90,145.9 91,144.5 92,143 93,141.4 94,139.8 95,138.2 96,136.6 97,135.1 98,133.7 99,132.5 100,131.5 101,130.8 102,130.4 103,130.3 104,130.4 105,130.7 106,131.3 107,132 108,132.8 109,133.8 110,134.9 111,136.1 112,137.4 113,138.7 114,140.1 115,141.4 116,142.7 117,144 118,145.2 119,146.3 120,147.3 121,148.3 122,149.1 123,149.9 124,150.5 125,151 126,151.4 127,151.6 128,151.7 129,151.7 130,151.6 131,151.3 132,150.9 133,150.4 134,149.8 135,149.2 136,148.6 137,148.1 138,147.6 139,147.2 140,147 141,147 142,147.1 143,147.4 144,147.8 145,148.4 146,149 147,149.6 148,150.2 149,150.8 150,151.3 151,151.8 152,152.1 153,152.3 154,152.4 155,152.4 156,152.2 157,152 158,151.7 159,151.2 160,150.7 161,150.1 162,149.3 163,148.6 164,147.7 165,146.8 166,145.8 167,144.7 168,143.6 169,142.4 170,141.2 171,140 172,138.7 173,137.5 174,136.2 175,134.9 176,133.5 177,132.2 178,130.8 179,129.3 180,127.8 181,126.3 182,124.7 183,123.1 184,121.5 185,119.9 186,118.3 187,116.8 188,115.5 189,114.3 190,113.3 191,112.6 192,112.2 193,112.2 194,112.5 195,113.1 196,114.1 197,115.3 198,116.9 199,118.7 200,120.6 201,122.8 202,125.1 203,127.4 204,129.8 205,132.2 206,134.6 207,136.8 208,139 209,141.1 210,143.1 211,144.9 212,146.5 213,148 214,149.4 215,150.6 216,151.7 217,152.6 218,153.4 219,154.1 220,154.7 221,155.2 222,155.7 223,156 224,156.3 225,156.6 226,156.8 227,156.9 228,157.1 229,157.2 230,157.3 231,157.4 232,157.4 233,157.5 234,157.6 235,157.6 236,157.6 237,157.7 238,157.7 239,157.7 240,157.8 241,157.8 242,157.8 243,157.8 244,157.8 245,157.8 246,157.9 247,157.9 248,157.9 249,157.9 250,157.9 251,157.9 252,157.9 253,158 254,158 255,158 256,158 257,158 258,158 259,158 260,158 261,158 262,158 263,158 264,158.1 265,158.1 266,158.1 267,158.1 268,158.1 269,158.1 270,158.1 271,158.1 272,158.1 273,158.1 274,158.1 275,158.1 276,158.1 277,158.1 278,158.1 279,158.1 280,158.1 281,158.1 282,158.1 283,158.1 284,158.2 285,158.2 286,158.2 287,158.2 288,158.2" fill="none" stroke="#0A0A9A" stroke-width="1.7" stroke-linejoin="round"/>
<polygon points="100,227.2 101,227.2 102,227.2 103,227.3 104,227.3 105,227.4 106,227.4 107,227.5 108,227.5 109,227.6 110,227.6 111,227.7 112,227.7 113,227.7 114,227.8 115,227.8 116,227.8 117,227.9 118,227.9 119,227.9 120,227.9 121,228 122,228 123,228 124,228 125,228 126,228 127,228 128,228 129,228 130,228 131,228 132,228 133,228 134,228 135,228 136,228 137,228 138,228 139,228 140,228 141,228 142,228 143,228 144,227.9 145,227.9 146,227.9 147,227.9 148,227.9 149,227.9 150,227.8 151,227.8 152,227.7 153,227.7 154,227.6 155,227.6 156,227.5 157,227.3 158,227.2 159,227.1 160,226.9 161,226.6 162,226.3 163,226 164,225.6 165,225.2 166,224.6 167,224 168,223.2 169,222.4 170,221.4 171,220.3 172,219 173,217.6 174,216.1 175,214.4 176,212.5 177,210.5 178,208.4 179,206.1 180,203.8 181,201.3 182,198.8 183,196.3 184,193.7 185,191.3 186,188.9 187,186.6 188,184.5 189,182.7 190,181.1 191,179.8 192,178.9 193,178.3 194,178.1 195,178.4 196,179 197,180.1 198,181.5 199,183.2 200,185.3 201,187.5 202,190 203,192.6 204,195.3 205,198 206,200.7 207,203.4 208,206.1 209,208.6 210,211.1 211,213.4 212,215.5 213,217.5 214,219.3 215,221 216,222.4 217,223.8 218,224.9 219,226 220,226.9 221,227.7 222,228.3 223,228.9 224,229.4 225,229.8 226,230.2 227,230.4 228,230.7 229,230.9 230,231.1 231,231.2 232,231.3 233,231.4 234,231.5 235,231.6 236,231.6 237,231.7 238,231.7 239,231.8 240,231.8 241,231.8 242,231.9 243,231.9 244,231.9 245,231.9 246,232 247,232 248,232 249,232 250,232 251,232 252,232.1 253,232.1 254,232.1 255,232.1 256,232.1 257,232.1 258,232.1 259,232.1 260,232.2 261,232.2 262,232.2 263,232.2 264,232.2 265,232.2 266,232.2 267,232.2 268,232.2 269,232.2 270,232.2 271,232.3 272,232.3 273,232.3 274,232.3 275,232.3 276,232.3 277,232.3 278,232.3 279,232.3 280,232.3 281,232.3 282,232.3 283,232.3 284,232.3 285,232.3 286,232.3 287,232.3 288,232.3 288,232.5 287,232.5 286,232.5 285,232.5 284,232.5 283,232.5 282,232.5 281,232.5 280,232.5 279,232.5 278,232.5 277,232.5 276,232.5 275,232.5 274,232.5 273,232.5 272,232.5 271,232.5 270,232.5 269,232.5 268,232.5 267,232.5 266,232.5 265,232.5 264,232.5 263,232.5 262,232.5 261,232.5 260,232.5 259,232.5 258,232.5 257,232.5 256,232.5 255,232.5 254,232.5 253,232.5 252,232.5 251,232.5 250,232.5 249,232.5 248,232.5 247,232.5 246,232.5 245,232.5 244,232.5 243,232.5 242,232.5 241,232.5 240,232.5 239,232.5 238,232.5 237,232.5 236,232.5 235,232.5 234,232.5 233,232.4 232,232.4 231,232.4 230,232.4 229,232.4 228,232.4 227,232.4 226,232.4 225,232.4 224,232.4 223,232.4 222,232.4 221,232.4 220,232.4 219,232.4 218,232.3 217,232.3 216,232.3 215,232.3 214,232.2 213,232.2 212,232.2 211,232.1 210,232.1 209,232 208,232 207,231.9 206,231.8 205,231.8 204,231.7 203,231.6 202,231.5 201,231.4 200,231.3 199,231.2 198,231.1 197,231 196,230.9 195,230.7 194,230.6 193,230.5 192,230.4 191,230.3 190,230.2 189,230.1 188,230 187,229.8 186,229.8 185,229.7 184,229.6 183,229.5 182,229.4 181,229.3 180,229.3 179,229.2 178,229.1 177,229.1 176,229 175,229 174,228.9 173,228.9 172,228.9 171,228.8 170,228.8 169,228.8 168,228.8 167,228.7 166,228.7 165,228.7 164,228.7 163,228.7 162,228.7 161,228.7 160,228.6 159,228.6 158,228.6 157,228.6 156,228.6 155,228.6 154,228.6 153,228.6 152,228.6 151,228.6 150,228.6 149,228.6 148,228.6 147,228.5 146,228.5 145,228.5 144,228.5 143,228.5 142,228.5 141,228.5 140,228.5 139,228.5 138,228.4 137,228.4 136,228.4 135,228.4 134,228.4 133,228.4 132,228.4 131,228.4 130,228.4 129,228.4 128,228.4 127,228.3 126,228.3 125,228.3 124,228.3 123,228.3 122,228.3 121,228.2 120,228.2 119,228.2 118,228.2 117,228.1 116,228.1 115,228.1 114,228 113,228 112,227.9 111,227.9 110,227.8 109,227.8 108,227.7 107,227.7 106,227.6 105,227.6 104,227.5 103,227.5 102,227.4 101,227.4 100,227.3" fill="#0030CC"/>
<polygon points="108,227.7 109,227.8 110,227.8 111,227.9 112,227.9 113,227.9 114,228 115,228 116,228.1 117,228.1 118,228.1 119,228.2 120,228.2 121,228.2 122,228.2 123,228.2 124,228.3 125,228.3 126,228.3 127,228.3 128,228.3 129,228.3 130,228.3 131,228.3 132,228.3 133,228.3 134,228.3 135,228.4 136,228.4 137,228.4 138,228.4 139,228.4 140,228.4 141,228.4 142,228.4 143,228.4 144,228.4 145,228.4 146,228.4 147,228.4 148,228.4 149,228.4 150,228.3 151,228.3 152,228.3 153,228.2 154,228.1 155,228 156,227.9 157,227.7 158,227.6 159,227.3 160,227.1 161,226.8 162,226.4 163,226 164,225.6 165,225.2 166,224.7 167,224.3 168,223.8 169,223.4 170,223 171,222.6 172,222.3 173,222.1 174,222 175,222 176,222.1 177,222.3 178,222.6 179,223 180,223.4 181,223.9 182,224.5 183,225 184,225.6 185,226.2 186,226.7 187,227.2 188,227.7 189,228.2 190,228.6 191,229 192,229.3 193,229.6 194,229.9 195,230.2 196,230.4 197,230.6 198,230.8 199,230.9 200,231.1 201,231.2 202,231.3 203,231.5 204,231.6 205,231.7 206,231.7 207,231.8 208,231.9 209,231.9 210,232 211,232.1 212,232.1 213,232.1 214,232.2 215,232.2 216,232.2 217,232.3 218,232.3 219,232.3 220,232.3 221,232.3 222,232.3 223,232.4 224,232.4 225,232.4 226,232.4 227,232.4 228,232.4 229,232.4 230,232.4 231,232.4 232,232.4 233,232.4 234,232.4 235,232.4 236,232.4 237,232.4 238,232.4 239,232.4 240,232.4 241,232.4 242,232.4 242,232.5 241,232.5 240,232.5 239,232.5 238,232.5 237,232.5 236,232.5 235,232.5 234,232.5 233,232.4 232,232.4 231,232.4 230,232.4 229,232.4 228,232.4 227,232.4 226,232.4 225,232.4 224,232.4 223,232.4 222,232.4 221,232.4 220,232.4 219,232.4 218,232.3 217,232.3 216,232.3 215,232.3 214,232.2 213,232.2 212,232.2 211,232.1 210,232.1 209,232 208,232 207,231.9 206,231.8 205,231.8 204,231.7 203,231.6 202,231.5 201,231.4 200,231.3 199,231.2 198,231.1 197,231 196,230.9 195,230.7 194,230.6 193,230.5 192,230.4 191,230.3 190,230.2 189,230.1 188,230 187,229.8 186,229.8 185,229.7 184,229.6 183,229.5 182,229.4 181,229.3 180,229.3 179,229.2 178,229.1 177,229.1 176,229 175,229 174,228.9 173,228.9 172,228.9 171,228.8 170,228.8 169,228.8 168,228.8 167,228.7 166,228.7 165,228.7 164,228.7 163,228.7 162,228.7 161,228.7 160,228.6 159,228.6 158,228.6 157,228.6 156,228.6 155,228.6 154,228.6 153,228.6 152,228.6 151,228.6 150,228.6 149,228.6 148,228.6 147,228.5 146,228.5 145,228.5 144,228.5 143,228.5 142,228.5 141,228.5 140,228.5 139,228.5 138,228.4 137,228.4 136,228.4 135,228.4 134,228.4 133,228.4 132,228.4 131,228.4 130,228.4 129,228.4 128,228.4 127,228.3 126,228.3 125,228.3 124,228.3 123,228.3 122,228.3 121,228.2 120,228.2 119,228.2 118,228.2 117,228.1 116,228.1 115,228.1 114,228 113,228 112,227.9 111,227.9 110,227.8 109,227.8 108,227.7" fill="#0088D4"/>
<polygon points="79,227 80,227 81,227 82,227 83,227 84,227 85,227 86,227 87,227 88,227 89,227 90,227 91,227.1 92,227.1 93,227.1 94,227.1 95,227.1 96,227.2 97,227.2 98,227.2 99,227.3 100,227.3 101,227.3 102,227.4 103,227.4 104,227.5 105,227.5 106,227.6 107,227.6 108,227.7 109,227.7 110,227.8 111,227.8 112,227.9 113,227.9 114,227.9 115,228 116,228 117,228 118,228 119,228 120,228 121,228 122,228 123,227.9 124,227.8 125,227.8 126,227.6 127,227.5 128,227.3 129,227.1 130,226.9 131,226.6 132,226.3 133,226 134,225.7 135,225.4 136,225.1 137,224.8 138,224.5 139,224.3 140,224.1 141,224 142,224 143,224 144,224.2 145,224.3 146,224.6 147,224.9 148,225.2 149,225.5 150,225.9 151,226.2 152,226.5 153,226.8 154,227.1 155,227.4 156,227.6 157,227.8 158,227.9 159,228.1 160,228.2 161,228.3 162,228.4 163,228.4 164,228.5 165,228.5 166,228.6 167,228.6 168,228.7 169,228.7 170,228.7 171,228.8 172,228.8 173,228.8 174,228.9 175,228.9 176,229 177,229 178,229.1 179,229.2 180,229.2 181,229.3 182,229.4 183,229.5 184,229.5 185,229.6 186,229.7 187,229.8 188,229.9 189,230 190,230.1 191,230.3 192,230.4 193,230.5 194,230.6 195,230.7 196,230.8 197,231 198,231.1 199,231.2 200,231.3 201,231.4 202,231.5 203,231.6 204,231.7 205,231.8 205,231.8 204,231.7 203,231.6 202,231.5 201,231.4 200,231.3 199,231.2 198,231.1 197,231 196,230.9 195,230.7 194,230.6 193,230.5 192,230.4 191,230.3 190,230.2 189,230.1 188,230 187,229.8 186,229.8 185,229.7 184,229.6 183,229.5 182,229.4 181,229.3 180,229.3 179,229.2 178,229.1 177,229.1 176,229 175,229 174,228.9 173,228.9 172,228.9 171,228.8 170,228.8 169,228.8 168,228.8 167,228.7 166,228.7 165,228.7 164,228.7 163,228.7 162,228.7 161,228.7 160,228.6 159,228.6 158,228.6 157,228.6 156,228.6 155,228.6 154,228.6 153,228.6 152,228.6 151,228.6 150,228.6 149,228.6 148,228.6 147,228.5 146,228.5 145,228.5 144,228.5 143,228.5 142,228.5 141,228.5 140,228.5 139,228.5 138,228.4 137,228.4 136,228.4 135,228.4 134,228.4 133,228.4 132,228.4 131,228.4 130,228.4 129,228.4 128,228.4 127,228.3 126,228.3 125,228.3 124,228.3 123,228.3 122,228.3 121,228.2 120,228.2 119,228.2 118,228.2 117,228.1 116,228.1 115,228.1 114,228 113,228 112,227.9 111,227.9 110,227.8 109,227.8 108,227.7 107,227.7 106,227.6 105,227.6 104,227.5 103,227.5 102,227.4 101,227.4 100,227.3 99,227.3 98,227.3 97,227.2 96,227.2 95,227.2 94,227.1 93,227.1 92,227.1 91,227.1 90,227.1 89,227.1 88,227 87,227 86,227 85,227 84,227 83,227 82,227 81,227 80,227 79,227" fill="#38D4FF"/>
<polygon points="44,227 45,227 46,227 47,227 48,227 49,227 50,227 51,227 52,227 53,227 54,227 55,227 56,227 57,227 58,227 59,227 60,227 61,227 62,227 63,227 64,227 65,227 66,227 67,227 68,227 69,227 70,227 71,227 72,227 73,226.9 74,226.9 75,226.9 76,226.8 77,226.8 78,226.7 79,226.6 80,226.4 81,226.2 82,226 83,225.7 84,225.3 85,224.9 86,224.3 87,223.7 88,223 89,222.2 90,221.2 91,220.1 92,219 93,217.7 94,216.4 95,215 96,213.5 97,212.1 98,210.6 99,209.3 100,208 101,206.9 102,205.9 103,205.1 104,204.5 105,204.2 106,204.1 107,204.3 108,204.6 109,205.1 110,205.8 111,206.7 112,207.7 113,208.8 114,210 115,211.2 116,212.5 117,213.9 118,215.2 119,216.5 120,217.8 121,219 122,220.1 123,221.2 124,222.1 125,223 126,223.8 127,224.5 128,225.2 129,225.7 130,226.2 131,226.6 132,226.9 133,227.2 134,227.5 135,227.7 136,227.9 137,228 138,228.1 139,228.2 140,228.3 141,228.3 142,228.4 143,228.4 144,228.5 145,228.5 146,228.5 147,228.5 148,228.5 149,228.6 150,228.6 151,228.6 152,228.6 153,228.6 154,228.6 155,228.6 156,228.6 157,228.6 158,228.6 159,228.6 160,228.6 161,228.7 162,228.7 163,228.7 164,228.7 165,228.7 166,228.7 167,228.7 168,228.8 169,228.8 170,228.8 171,228.8 172,228.9 173,228.9 174,228.9 175,229 176,229 177,229.1 178,229.1 179,229.2 180,229.3 181,229.3 182,229.4 183,229.5 184,229.6 185,229.7 186,229.8 187,229.8 188,230 189,230.1 190,230.2 191,230.3 192,230.4 193,230.5 193,230.5 192,230.4 191,230.3 190,230.2 189,230.1 188,230 187,229.8 186,229.8 185,229.7 184,229.6 183,229.5 182,229.4 181,229.3 180,229.3 179,229.2 178,229.1 177,229.1 176,229 175,229 174,228.9 173,228.9 172,228.9 171,228.8 170,228.8 169,228.8 168,228.8 167,228.7 166,228.7 165,228.7 164,228.7 163,228.7 162,228.7 161,228.7 160,228.6 159,228.6 158,228.6 157,228.6 156,228.6 155,228.6 154,228.6 153,228.6 152,228.6 151,228.6 150,228.6 149,228.6 148,228.6 147,228.5 146,228.5 145,228.5 144,228.5 143,228.5 142,228.5 141,228.5 140,228.5 139,228.5 138,228.4 137,228.4 136,228.4 135,228.4 134,228.4 133,228.4 132,228.4 131,228.4 130,228.4 129,228.4 128,228.4 127,228.3 126,228.3 125,228.3 124,228.3 123,228.3 122,228.3 121,228.2 120,228.2 119,228.2 118,228.2 117,228.1 116,228.1 115,228.1 114,228 113,228 112,227.9 111,227.9 110,227.8 109,227.8 108,227.7 107,227.7 106,227.6 105,227.6 104,227.5 103,227.5 102,227.4 101,227.4 100,227.3 99,227.3 98,227.3 97,227.2 96,227.2 95,227.2 94,227.1 93,227.1 92,227.1 91,227.1 90,227.1 89,227.1 88,227 87,227 86,227 85,227 84,227 83,227 82,227 81,227 80,227 79,227 78,227 77,227 76,227 75,227 74,227 73,227 72,227 71,227 70,227 69,227 68,227 67,227 66,227 65,227 64,227 63,227 62,227 61,227 60,227 59,227 58,227 57,227 56,227 55,227 54,227 53,227 52,227 51,227 50,227 49,227 48,227 47,227 46,227 45,227 44,227" fill="#70A0FF"/>
<polyline points="44,227 45,227 46,227 47,227 48,227 49,227 50,227 51,227 52,227 53,227 54,227 55,227 56,227 57,227 58,227 59,227 60,227 61,227 62,227 63,227 64,227 65,227 66,227 67,227 68,227 69,227 70,227 71,227 72,227 73,227 74,227 75,227 76,227 77,227 78,227 79,227 80,227 81,227 82,227 83,227 84,227 85,227 86,227 87,227 88,227 89,227.1 90,227.1 91,227.1 92,227.1 93,227.1 94,227.1 95,227.2 96,227.2 97,227.2 98,227.3 99,227.3 100,227.3 101,227.4 102,227.4 103,227.5 104,227.5 105,227.6 106,227.6 107,227.7 108,227.7 109,227.8 110,227.8 111,227.9 112,227.9 113,228 114,228 115,228.1 116,228.1 117,228.1 118,228.2 119,228.2 120,228.2 121,228.2 122,228.3 123,228.3 124,228.3 125,228.3 126,228.3 127,228.3 128,228.4 129,228.4 130,228.4 131,228.4 132,228.4 133,228.4 134,228.4 135,228.4 136,228.4 137,228.4 138,228.4 139,228.5 140,228.5 141,228.5 142,228.5 143,228.5 144,228.5 145,228.5 146,228.5 147,228.5 148,228.6 149,228.6 150,228.6 151,228.6 152,228.6 153,228.6 154,228.6 155,228.6 156,228.6 157,228.6 158,228.6 159,228.6 160,228.6 161,228.7 162,228.7 163,228.7 164,228.7 165,228.7 166,228.7 167,228.7 168,228.8 169,228.8 170,228.8 171,228.8 172,228.9 173,228.9 174,228.9 175,229 176,229 177,229.1 178,229.1 179,229.2 180,229.3 181,229.3 182,229.4 183,229.5 184,229.6 185,229.7 186,229.8 187,229.8 188,230 189,230.1 190,230.2 191,230.3 192,230.4 193,230.5 194,230.6 195,230.7 196,230.9 197,231 198,231.1 199,231.2 200,231.3 201,231.4 202,231.5 203,231.6 204,231.7 205,231.8 206,231.8 207,231.9 208,232 209,232 210,232.1 211,232.1 212,232.2 213,232.2 214,232.2 215,232.3 216,232.3 217,232.3 218,232.3 219,232.4 220,232.4 221,232.4 222,232.4 223,232.4 224,232.4 225,232.4 226,232.4 227,232.4 228,232.4 229,232.4 230,232.4 231,232.4 232,232.4 233,232.4 234,232.5 235,232.5 236,232.5 237,232.5 238,232.5 239,232.5 240,232.5 241,232.5 242,232.5 243,232.5 244,232.5 245,232.5 246,232.5 247,232.5 248,232.5 249,232.5 250,232.5 251,232.5 252,232.5 253,232.5 254,232.5 255,232.5 256,232.5 257,232.5 258,232.5 259,232.5 260,232.5 261,232.5 262,232.5 263,232.5 264,232.5 265,232.5 266,232.5 267,232.5 268,232.5 269,232.5 270,232.5 271,232.5 272,232.5 273,232.5 274,232.5 275,232.5 276,232.5 277,232.5 278,232.5 279,232.5 280,232.5 281,232.5 282,232.5 283,232.5 284,232.5 285,232.5 286,232.5 287,232.5 288,232.5" fill="none" stroke="#00707A" stroke-width="1.0"/>
<polyline points="44,226.8 45.4,221.8 46.7,230.1 48.1,226 49.4,230.1 50.8,228.7 52.2,227.4 53.5,226.7 54.9,232.6 56.2,225.3 57.6,224.4 59,228.1 60.3,228.2 61.7,223.2 63,225.2 64.4,225.6 65.8,227.1 67.1,225.9 68.5,223.7 69.8,227.7 71.2,232.2 72.6,222.1 73.9,229.1 75.3,228.4 76.6,226.9 78,229 79.4,226.4 80.7,221.4 82.1,226.9 83.4,223.9 84.8,224.6 86.2,222.6 87.5,225.7 88.9,226.1 90.2,215.1 91.6,223.4 93,218.8 94.3,212.9 95.7,208.9 97,212.6 98.4,212.4 99.8,208.3 101.1,209.8 102.5,205.1 103.8,206 105.2,202 106.6,205.1 107.9,204 109.3,205.3 110.6,208.6 112,207.3 113.4,211.7 114.7,213 116.1,212.3 117.4,212.9 118.8,217.5 120.2,218.3 121.5,219.9 122.9,219.8 124.2,220.5 125.6,221.1 127,224.4 128.3,222.6 129.7,227.2 131,229.7 132.4,218.4 133.8,226.9 135.1,222.6 136.5,219.9 137.8,226.4 139.2,226.5 140.6,223.6 141.9,226.1 143.3,225.1 144.6,224.8 146,225.4 147.4,226.2 148.7,226.4 150.1,225.3 151.4,226.3 152.8,224.7 154.2,225.7 155.5,228.5 156.9,223.7 158.2,225.8 159.6,223.2 161,225.1 162.3,222.5 163.7,220 165,221.2 166.4,219.7 167.8,213.1 169.1,216.9 170.5,214.8 171.8,210 173.2,209 174.6,204.6 175.9,207.1 177.3,197.4 178.6,200.7 180,198.3 181.4,191.7 182.7,190.7 184.1,189.9 185.4,189.9 186.8,185.4 188.2,181.6 189.5,178.7 190.9,177.7 192.2,177.7 193.6,178.6 195,177.4 196.3,178 197.7,176.8 199,176.9 200.4,185.3 201.8,191.1 203.1,187 204.5,195.2 205.8,199.2 207.2,203.9 208.6,207.3 209.9,211.5 211.3,215.1 212.6,218.9 214,219.6 215.4,218.7 216.7,219.1 218.1,227.1 219.4,227.9 220.8,229.7 222.2,226.1 223.5,235.3 224.9,234.4 226.2,230.7 227.6,228.8 229,228.2 230.3,234.2 231.7,231.2 233,230.6 234.4,227 235.8,226.3 237.1,227.2 238.5,231.8 239.8,226.7 241.2,231.4 242.6,229.3 243.9,231.5 245.3,232.4 246.6,235.1 248,230 249.4,230.1 250.7,232.1 252.1,233.4 253.4,234.9 254.8,229 256.2,235.5 257.5,232.4 258.9,230.5 260.2,230.1 261.6,232.2 263,237.4 264.3,230.7 265.7,233.2 267,235.2 268.4,232.4 269.8,233.3 271.1,235.4 272.5,232.8 273.8,230.9 275.2,237.1 276.6,233.8 277.9,236.9 279.3,232.5 280.6,232.2 282,229.7 283.4,232.4 284.7,233 286.1,230.7 287.4,228" fill="none" stroke="#0A0A9A" stroke-width="1.4" stroke-dasharray="1.4 1.5"/>
<polyline points="44,226.9 45,226.9 46,226.9 47,226.9 48,226.9 49,226.9 50,226.9 51,226.9 52,226.9 53,226.9 54,226.9 55,226.9 56,226.9 57,226.9 58,226.9 59,226.9 60,226.9 61,226.9 62,226.9 63,226.9 64,226.9 65,226.9 66,226.9 67,226.9 68,226.9 69,226.9 70,226.9 71,226.9 72,226.8 73,226.8 74,226.8 75,226.8 76,226.7 77,226.6 78,226.5 79,226.4 80,226.3 81,226.1 82,225.8 83,225.5 84,225.2 85,224.7 86,224.2 87,223.6 88,222.8 89,222 90,221 91,220 92,218.8 93,217.5 94,216.2 95,214.8 96,213.3 97,211.9 98,210.4 99,209.1 100,207.8 101,206.6 102,205.6 103,204.8 104,204.3 105,203.9 106,203.9 107,204 108,204.3 109,204.9 110,205.5 111,206.4 112,207.4 113,208.5 114,209.6 115,210.9 116,212.2 117,213.5 118,214.8 119,216 120,217.3 121,218.4 122,219.5 123,220.5 124,221.4 125,222.1 126,222.8 127,223.3 128,223.8 129,224.1 130,224.3 131,224.4 132,224.5 133,224.4 134,224.3 135,224.2 136,224 137,223.8 138,223.6 139,223.5 140,223.3 141,223.3 142,223.3 143,223.3 144,223.4 145,223.6 146,223.8 147,224.1 148,224.3 149,224.6 150,224.9 151,225.1 152,225.4 153,225.5 154,225.7 155,225.7 156,225.7 157,225.6 158,225.4 159,225.2 160,224.8 161,224.4 162,223.8 163,223.2 164,222.4 165,221.5 166,220.5 167,219.4 168,218.2 169,216.9 170,215.5 171,214 172,212.4 173,210.8 174,209.1 175,207.3 176,205.6 177,203.7 178,201.8 179,199.9 180,197.9 181,195.9 182,193.8 183,191.8 184,189.7 185,187.7 186,185.8 187,183.9 188,182.2 189,180.7 190,179.5 191,178.5 192,177.8 193,177.4 194,177.4 195,177.8 196,178.5 197,179.7 198,181.2 199,182.9 200,185 201,187.3 202,189.8 203,192.4 204,195.1 205,197.9 206,200.6 207,203.3 208,206 209,208.5 210,211 211,213.3 212,215.4 213,217.4 214,219.2 215,220.9 216,222.4 217,223.7 218,224.9 219,225.9 220,226.8 221,227.6 222,228.3 223,228.9 224,229.3 225,229.8 226,230.1 227,230.4 228,230.6 229,230.8 230,231 231,231.2 232,231.3 233,231.4 234,231.5 235,231.5 236,231.6 237,231.6 238,231.7 239,231.7 240,231.8 241,231.8 242,231.8 243,231.9 244,231.9 245,231.9 246,231.9 247,232 248,232 249,232 250,232 251,232 252,232 253,232.1 254,232.1 255,232.1 256,232.1 257,232.1 258,232.1 259,232.1 260,232.1 261,232.2 262,232.2 263,232.2 264,232.2 265,232.2 266,232.2 267,232.2 268,232.2 269,232.2 270,232.2 271,232.2 272,232.2 273,232.2 274,232.3 275,232.3 276,232.3 277,232.3 278,232.3 279,232.3 280,232.3 281,232.3 282,232.3 283,232.3 284,232.3 285,232.3 286,232.3 287,232.3 288,232.3" fill="none" stroke="#0A0A9A" stroke-width="1.7" stroke-linejoin="round"/>
<polygon points="96,295.2 97,295.2 98,295.3 99,295.3 100,295.4 101,295.4 102,295.5 103,295.6 104,295.6 105,295.7 106,295.7 107,295.8 108,295.9 109,295.9 110,296 111,296 112,296.1 113,296.1 114,296.2 115,296.2 116,296.3 117,296.3 118,296.3 119,296.4 120,296.4 121,296.4 122,296.4 123,296.4 124,296.4 125,296.4 126,296.5 127,296.5 128,296.5 129,296.5 130,296.5 131,296.5 132,296.5 133,296.5 134,296.5 135,296.5 136,296.5 137,296.5 138,296.6 139,296.6 140,296.6 141,296.6 142,296.6 143,296.6 144,296.6 145,296.6 146,296.6 147,296.6 148,296.6 149,296.6 150,296.6 151,296.6 152,296.6 153,296.6 154,296.6 155,296.5 156,296.5 157,296.5 158,296.4 159,296.3 160,296.3 161,296.2 162,296.1 163,295.9 164,295.8 165,295.6 166,295.3 167,295 168,294.7 169,294.2 170,293.7 171,293.2 172,292.5 173,291.7 174,290.8 175,289.7 176,288.6 177,287.3 178,285.9 179,284.4 180,282.7 181,280.9 182,279.1 183,277.1 184,275.2 185,273.2 186,271.2 187,269.3 188,267.4 189,265.7 190,264.2 191,262.9 192,261.9 193,261.1 194,260.7 195,260.5 196,260.8 197,261.2 198,261.9 199,262.9 200,264.1 201,265.5 202,267 203,268.7 204,270.4 205,272.3 206,274.2 207,276.1 208,278 209,279.9 210,281.7 211,283.5 212,285.2 213,286.9 214,288.4 215,289.8 216,291.1 217,292.4 218,293.5 219,294.5 220,295.3 221,296.1 222,296.9 223,297.5 224,298 225,298.5 226,298.9 227,299.3 228,299.6 229,299.8 230,300 231,300.2 232,300.4 233,300.5 234,300.6 235,300.7 236,300.8 237,300.9 238,300.9 239,301 240,301 241,301.1 242,301.1 243,301.1 244,301.2 245,301.2 246,301.2 247,301.2 248,301.2 249,301.3 250,301.3 251,301.3 252,301.3 253,301.3 254,301.3 255,301.3 256,301.4 257,301.4 258,301.4 259,301.4 260,301.4 261,301.4 262,301.4 263,301.4 264,301.4 265,301.4 266,301.4 267,301.5 268,301.5 269,301.5 270,301.5 271,301.5 272,301.5 273,301.5 274,301.5 275,301.5 276,301.5 277,301.5 278,301.5 279,301.5 280,301.5 281,301.5 282,301.5 283,301.5 284,301.5 285,301.5 286,301.5 287,301.6 288,301.6 288,301.7 287,301.7 286,301.7 285,301.7 284,301.7 283,301.7 282,301.7 281,301.7 280,301.7 279,301.7 278,301.7 277,301.7 276,301.7 275,301.7 274,301.7 273,301.7 272,301.7 271,301.7 270,301.7 269,301.7 268,301.7 267,301.7 266,301.7 265,301.7 264,301.7 263,301.7 262,301.7 261,301.7 260,301.7 259,301.7 258,301.7 257,301.7 256,301.7 255,301.7 254,301.7 253,301.7 252,301.7 251,301.7 250,301.7 249,301.7 248,301.7 247,301.7 246,301.7 245,301.7 244,301.7 243,301.7 242,301.7 241,301.7 240,301.7 239,301.7 238,301.6 237,301.6 236,301.6 235,301.6 234,301.6 233,301.6 232,301.6 231,301.6 230,301.6 229,301.6 228,301.6 227,301.6 226,301.6 225,301.6 224,301.6 223,301.6 222,301.5 221,301.5 220,301.5 219,301.5 218,301.5 217,301.4 216,301.4 215,301.4 214,301.3 213,301.3 212,301.2 211,301.2 210,301.1 209,301 208,301 207,300.9 206,300.8 205,300.7 204,300.6 203,300.5 202,300.4 201,300.3 200,300.2 199,300 198,299.9 197,299.8 196,299.7 195,299.5 194,299.4 193,299.3 192,299.2 191,299 190,298.9 189,298.8 188,298.7 187,298.6 186,298.5 185,298.4 184,298.3 183,298.2 182,298.1 181,298 180,297.9 179,297.8 178,297.8 177,297.7 176,297.7 175,297.6 174,297.5 173,297.5 172,297.4 171,297.4 170,297.4 169,297.3 168,297.3 167,297.3 166,297.3 165,297.2 164,297.2 163,297.2 162,297.2 161,297.2 160,297.2 159,297.2 158,297.1 157,297.1 156,297.1 155,297.1 154,297.1 153,297.1 152,297.1 151,297.1 150,297.1 149,297.1 148,297.1 147,297 146,297 145,297 144,297 143,297 142,296.9 141,296.9 140,296.9 139,296.9 138,296.8 137,296.8 136,296.8 135,296.8 134,296.8 133,296.7 132,296.7 131,296.7 130,296.7 129,296.7 128,296.7 127,296.7 126,296.7 125,296.6 124,296.6 123,296.6 122,296.6 121,296.6 120,296.5 119,296.5 118,296.5 117,296.5 116,296.4 115,296.4 114,296.3 113,296.3 112,296.2 111,296.2 110,296.1 109,296.1 108,296 107,295.9 106,295.9 105,295.8 104,295.7 103,295.7 102,295.6 101,295.5 100,295.5 99,295.4 98,295.4 97,295.3 96,295.3" fill="#0030CC"/>
<polygon points="101,295.5 102,295.6 103,295.7 104,295.7 105,295.8 106,295.9 107,295.9 108,296 109,296.1 110,296.1 111,296.2 112,296.2 113,296.3 114,296.3 115,296.4 116,296.4 117,296.4 118,296.5 119,296.5 120,296.5 121,296.6 122,296.6 123,296.6 124,296.6 125,296.6 126,296.6 127,296.6 128,296.7 129,296.7 130,296.7 131,296.7 132,296.7 133,296.7 134,296.7 135,296.7 136,296.8 137,296.8 138,296.8 139,296.8 140,296.8 141,296.9 142,296.9 143,296.9 144,296.9 145,296.9 146,296.9 147,296.9 148,296.9 149,296.8 150,296.8 151,296.7 152,296.6 153,296.5 154,296.4 155,296.2 156,296 157,295.8 158,295.5 159,295.2 160,294.8 161,294.4 162,293.9 163,293.4 164,292.8 165,292.2 166,291.6 167,291 168,290.4 169,289.9 170,289.3 171,288.8 172,288.4 173,288.1 174,287.8 175,287.7 176,287.7 177,287.7 178,288 179,288.3 180,288.7 181,289.2 182,289.8 183,290.4 184,291.1 185,291.9 186,292.6 187,293.3 188,294 189,294.7 190,295.4 191,296 192,296.6 193,297.1 194,297.6 195,298.1 196,298.5 197,298.8 198,299.1 199,299.4 200,299.7 201,299.9 202,300.1 203,300.3 204,300.4 205,300.5 206,300.7 207,300.8 208,300.9 209,301 210,301 211,301.1 212,301.2 213,301.2 214,301.3 215,301.3 216,301.4 217,301.4 218,301.4 219,301.4 220,301.5 221,301.5 222,301.5 223,301.5 224,301.5 225,301.6 226,301.6 227,301.6 228,301.6 229,301.6 230,301.6 231,301.6 232,301.6 233,301.6 234,301.6 235,301.6 236,301.6 237,301.6 238,301.6 239,301.6 240,301.6 241,301.6 242,301.6 243,301.6 244,301.6 245,301.6 246,301.7 247,301.7 248,301.7 249,301.7 250,301.7 251,301.7 252,301.7 252,301.7 251,301.7 250,301.7 249,301.7 248,301.7 247,301.7 246,301.7 245,301.7 244,301.7 243,301.7 242,301.7 241,301.7 240,301.7 239,301.7 238,301.6 237,301.6 236,301.6 235,301.6 234,301.6 233,301.6 232,301.6 231,301.6 230,301.6 229,301.6 228,301.6 227,301.6 226,301.6 225,301.6 224,301.6 223,301.6 222,301.5 221,301.5 220,301.5 219,301.5 218,301.5 217,301.4 216,301.4 215,301.4 214,301.3 213,301.3 212,301.2 211,301.2 210,301.1 209,301 208,301 207,300.9 206,300.8 205,300.7 204,300.6 203,300.5 202,300.4 201,300.3 200,300.2 199,300 198,299.9 197,299.8 196,299.7 195,299.5 194,299.4 193,299.3 192,299.2 191,299 190,298.9 189,298.8 188,298.7 187,298.6 186,298.5 185,298.4 184,298.3 183,298.2 182,298.1 181,298 180,297.9 179,297.8 178,297.8 177,297.7 176,297.7 175,297.6 174,297.5 173,297.5 172,297.4 171,297.4 170,297.4 169,297.3 168,297.3 167,297.3 166,297.3 165,297.2 164,297.2 163,297.2 162,297.2 161,297.2 160,297.2 159,297.2 158,297.1 157,297.1 156,297.1 155,297.1 154,297.1 153,297.1 152,297.1 151,297.1 150,297.1 149,297.1 148,297.1 147,297 146,297 145,297 144,297 143,297 142,296.9 141,296.9 140,296.9 139,296.9 138,296.8 137,296.8 136,296.8 135,296.8 134,296.8 133,296.7 132,296.7 131,296.7 130,296.7 129,296.7 128,296.7 127,296.7 126,296.7 125,296.6 124,296.6 123,296.6 122,296.6 121,296.6 120,296.5 119,296.5 118,296.5 117,296.5 116,296.4 115,296.4 114,296.3 113,296.3 112,296.2 111,296.2 110,296.1 109,296.1 108,296 107,295.9 106,295.9 105,295.8 104,295.7 103,295.7 102,295.6 101,295.5" fill="#0088D4"/>
<polygon points="84,295 85,295 86,295 87,295 88,295.1 89,295.1 90,295.1 91,295.1 92,295.1 93,295.2 94,295.2 95,295.2 96,295.3 97,295.3 98,295.4 99,295.4 100,295.5 101,295.5 102,295.6 103,295.7 104,295.7 105,295.8 106,295.9 107,295.9 108,296 109,296.1 110,296.1 111,296.2 112,296.2 113,296.3 114,296.3 115,296.4 116,296.4 117,296.4 118,296.4 119,296.4 120,296.4 121,296.4 122,296.3 123,296.2 124,296 125,295.8 126,295.6 127,295.2 128,294.9 129,294.4 130,293.9 131,293.3 132,292.7 133,292.1 134,291.5 135,291 136,290.5 137,290.1 138,289.8 139,289.7 140,289.7 141,289.9 142,290.2 143,290.6 144,291.1 145,291.7 146,292.3 147,292.9 148,293.6 149,294.1 150,294.7 151,295.2 152,295.6 153,296 154,296.2 155,296.5 156,296.7 157,296.8 158,296.9 159,297 160,297.1 161,297.1 162,297.1 163,297.2 164,297.2 165,297.2 166,297.2 167,297.3 168,297.3 169,297.3 170,297.4 171,297.4 172,297.4 173,297.5 174,297.5 175,297.6 176,297.7 177,297.7 178,297.8 179,297.8 180,297.9 181,298 182,298.1 183,298.2 184,298.3 185,298.4 186,298.5 187,298.6 188,298.7 189,298.8 190,298.9 191,299 192,299.2 193,299.3 194,299.4 195,299.5 195,299.5 194,299.4 193,299.3 192,299.2 191,299 190,298.9 189,298.8 188,298.7 187,298.6 186,298.5 185,298.4 184,298.3 183,298.2 182,298.1 181,298 180,297.9 179,297.8 178,297.8 177,297.7 176,297.7 175,297.6 174,297.5 173,297.5 172,297.4 171,297.4 170,297.4 169,297.3 168,297.3 167,297.3 166,297.3 165,297.2 164,297.2 163,297.2 162,297.2 161,297.2 160,297.2 159,297.2 158,297.1 157,297.1 156,297.1 155,297.1 154,297.1 153,297.1 152,297.1 151,297.1 150,297.1 149,297.1 148,297.1 147,297 146,297 145,297 144,297 143,297 142,296.9 141,296.9 140,296.9 139,296.9 138,296.8 137,296.8 136,296.8 135,296.8 134,296.8 133,296.7 132,296.7 131,296.7 130,296.7 129,296.7 128,296.7 127,296.7 126,296.7 125,296.6 124,296.6 123,296.6 122,296.6 121,296.6 120,296.5 119,296.5 118,296.5 117,296.5 116,296.4 115,296.4 114,296.3 113,296.3 112,296.2 111,296.2 110,296.1 109,296.1 108,296 107,295.9 106,295.9 105,295.8 104,295.7 103,295.7 102,295.6 101,295.5 100,295.5 99,295.4 98,295.4 97,295.3 96,295.3 95,295.2 94,295.2 93,295.2 92,295.1 91,295.1 90,295.1 89,295.1 88,295.1 87,295 86,295 85,295 84,295" fill="#38D4FF"/>
<polygon points="44,295 45,295 46,295 47,295 48,295 49,295 50,295 51,295 52,295 53,295 54,295 55,295 56,295 57,295 58,295 59,295 60,295 61,295 62,295 63,295 64,295 65,295 66,295 67,295 68,295 69,295 70,295 71,295 72,295 73,295 74,294.9 75,294.9 76,294.9 77,294.8 78,294.7 79,294.6 80,294.4 81,294.2 82,294 83,293.7 84,293.3 85,292.9 86,292.3 87,291.6 88,290.9 89,290 90,289 91,287.9 92,286.7 93,285.4 94,284 95,282.7 96,281.3 97,279.9 98,278.6 99,277.5 100,276.5 101,275.6 102,275 103,274.7 104,274.5 105,274.7 106,275 107,275.5 108,276.1 109,277 110,277.9 111,279 112,280.2 113,281.4 114,282.6 115,283.9 116,285.1 117,286.4 118,287.6 119,288.7 120,289.7 121,290.7 122,291.6 123,292.3 124,293 125,293.7 126,294.2 127,294.7 128,295.1 129,295.4 130,295.7 131,295.9 132,296.1 133,296.2 134,296.4 135,296.5 136,296.6 137,296.7 138,296.7 139,296.8 140,296.8 141,296.9 142,296.9 143,296.9 144,297 145,297 146,297 147,297 148,297.1 149,297.1 150,297.1 151,297.1 152,297.1 153,297.1 154,297.1 155,297.1 156,297.1 157,297.1 158,297.1 159,297.2 160,297.2 161,297.2 162,297.2 163,297.2 164,297.2 165,297.2 166,297.3 167,297.3 168,297.3 169,297.3 170,297.4 171,297.4 172,297.4 173,297.5 174,297.5 175,297.6 176,297.7 177,297.7 178,297.8 179,297.8 180,297.9 181,298 182,298.1 183,298.2 184,298.3 185,298.4 186,298.5 187,298.6 188,298.7 188,298.7 187,298.6 186,298.5 185,298.4 184,298.3 183,298.2 182,298.1 181,298 180,297.9 179,297.8 178,297.8 177,297.7 176,297.7 175,297.6 174,297.5 173,297.5 172,297.4 171,297.4 170,297.4 169,297.3 168,297.3 167,297.3 166,297.3 165,297.2 164,297.2 163,297.2 162,297.2 161,297.2 160,297.2 159,297.2 158,297.1 157,297.1 156,297.1 155,297.1 154,297.1 153,297.1 152,297.1 151,297.1 150,297.1 149,297.1 148,297.1 147,297 146,297 145,297 144,297 143,297 142,296.9 141,296.9 140,296.9 139,296.9 138,296.8 137,296.8 136,296.8 135,296.8 134,296.8 133,296.7 132,296.7 131,296.7 130,296.7 129,296.7 128,296.7 127,296.7 126,296.7 125,296.6 124,296.6 123,296.6 122,296.6 121,296.6 120,296.5 119,296.5 118,296.5 117,296.5 116,296.4 115,296.4 114,296.3 113,296.3 112,296.2 111,296.2 110,296.1 109,296.1 108,296 107,295.9 106,295.9 105,295.8 104,295.7 103,295.7 102,295.6 101,295.5 100,295.5 99,295.4 98,295.4 97,295.3 96,295.3 95,295.2 94,295.2 93,295.2 92,295.1 91,295.1 90,295.1 89,295.1 88,295.1 87,295 86,295 85,295 84,295 83,295 82,295 81,295 80,295 79,295 78,295 77,295 76,295 75,295 74,295 73,295 72,295 71,295 70,295 69,295 68,295 67,295 66,295 65,295 64,295 63,295 62,295 61,295 60,295 59,295 58,295 57,295 56,295 55,295 54,295 53,295 52,295 51,295 50,295 49,295 48,295 47,295 46,295 45,295 44,295" fill="#70A0FF"/>
<polyline points="44,295 45,295 46,295 47,295 48,295 49,295 50,295 51,295 52,295 53,295 54,295 55,295 56,295 57,295 58,295 59,295 60,295 61,295 62,295 63,295 64,295 65,295 66,295 67,295 68,295 69,295 70,295 71,295 72,295 73,295 74,295 75,295 76,295 77,295 78,295 79,295 80,295 81,295 82,295 83,295 84,295 85,295 86,295 87,295 88,295.1 89,295.1 90,295.1 91,295.1 92,295.1 93,295.2 94,295.2 95,295.2 96,295.3 97,295.3 98,295.4 99,295.4 100,295.5 101,295.5 102,295.6 103,295.7 104,295.7 105,295.8 106,295.9 107,295.9 108,296 109,296.1 110,296.1 111,296.2 112,296.2 113,296.3 114,296.3 115,296.4 116,296.4 117,296.5 118,296.5 119,296.5 120,296.5 121,296.6 122,296.6 123,296.6 124,296.6 125,296.6 126,296.7 127,296.7 128,296.7 129,296.7 130,296.7 131,296.7 132,296.7 133,296.7 134,296.8 135,296.8 136,296.8 137,296.8 138,296.8 139,296.9 140,296.9 141,296.9 142,296.9 143,297 144,297 145,297 146,297 147,297 148,297.1 149,297.1 150,297.1 151,297.1 152,297.1 153,297.1 154,297.1 155,297.1 156,297.1 157,297.1 158,297.1 159,297.2 160,297.2 161,297.2 162,297.2 163,297.2 164,297.2 165,297.2 166,297.3 167,297.3 168,297.3 169,297.3 170,297.4 171,297.4 172,297.4 173,297.5 174,297.5 175,297.6 176,297.7 177,297.7 178,297.8 179,297.8 180,297.9 181,298 182,298.1 183,298.2 184,298.3 185,298.4 186,298.5 187,298.6 188,298.7 189,298.8 190,298.9 191,299 192,299.2 193,299.3 194,299.4 195,299.5 196,299.7 197,299.8 198,299.9 199,300 200,300.2 201,300.3 202,300.4 203,300.5 204,300.6 205,300.7 206,300.8 207,300.9 208,301 209,301 210,301.1 211,301.2 212,301.2 213,301.3 214,301.3 215,301.4 216,301.4 217,301.4 218,301.5 219,301.5 220,301.5 221,301.5 222,301.5 223,301.6 224,301.6 225,301.6 226,301.6 227,301.6 228,301.6 229,301.6 230,301.6 231,301.6 232,301.6 233,301.6 234,301.6 235,301.6 236,301.6 237,301.6 238,301.6 239,301.7 240,301.7 241,301.7 242,301.7 243,301.7 244,301.7 245,301.7 246,301.7 247,301.7 248,301.7 249,301.7 250,301.7 251,301.7 252,301.7 253,301.7 254,301.7 255,301.7 256,301.7 257,301.7 258,301.7 259,301.7 260,301.7 261,301.7 262,301.7 263,301.7 264,301.7 265,301.7 266,301.7 267,301.7 268,301.7 269,301.7 270,301.7 271,301.7 272,301.7 273,301.7 274,301.7 275,301.7 276,301.7 277,301.7 278,301.7 279,301.7 280,301.7 281,301.7 282,301.7 283,301.7 284,301.7 285,301.7 286,301.7 287,301.7 288,301.7" fill="none" stroke="#00707A" stroke-width="1.0"/>
<polyline points="44,291.9 45.4,293.9 46.7,294.5 48.1,299.2 49.4,295.3 50.8,294.6 52.2,294.7 53.5,287.7 54.9,296.9 56.2,293.1 57.6,291.8 59,291.6 60.3,289.3 61.7,296 63,290.5 64.4,296.8 65.8,299.1 67.1,290.5 68.5,286.9 69.8,296.3 71.2,288.3 72.6,290.3 73.9,303.5 75.3,289.1 76.6,288.3 78,295.9 79.4,290.8 80.7,290 82.1,295 83.4,294.4 84.8,287 86.2,295.1 87.5,289 88.9,291.8 90.2,285.9 91.6,283.2 93,282.6 94.3,287.8 95.7,282 97,278.8 98.4,280.5 99.8,276.4 101.1,279 102.5,275 103.8,275.8 105.2,277.7 106.6,274.9 107.9,283.2 109.3,272.5 110.6,275.5 112,278.3 113.4,276.2 114.7,281.3 116.1,289.5 117.4,286.8 118.8,290.7 120.2,284.9 121.5,295.3 122.9,286.8 124.2,291.2 125.6,291.3 127,295.2 128.3,290.4 129.7,288.4 131,292.8 132.4,287.9 133.8,292.5 135.1,288.9 136.5,288.3 137.8,283.9 139.2,289.3 140.6,292.1 141.9,288.8 143.3,291.8 144.6,288.4 146,296.4 147.4,292 148.7,290.3 150.1,295.5 151.4,287.9 152.8,293.6 154.2,291.7 155.5,297.5 156.9,297.9 158.2,297.2 159.6,292 161,291.4 162.3,293.7 163.7,292.1 165,286 166.4,287.6 167.8,285.2 169.1,289.3 170.5,287.5 171.8,281.9 173.2,280.6 174.6,277.6 175.9,276.5 177.3,279.1 178.6,278.8 180,261.7 181.4,272.7 182.7,266.7 184.1,266.7 185.4,262.4 186.8,263.7 188.2,256.6 189.5,264.6 190.9,255.9 192.2,262.5 193.6,258.2 195,259.9 196.3,262.7 197.7,261.4 199,260.9 200.4,265.5 201.8,270.1 203.1,267 204.5,268.6 205.8,275.3 207.2,277.5 208.6,275.9 209.9,282.8 211.3,291.1 212.6,289.1 214,283.3 215.4,288.3 216.7,291.9 218.1,294.8 219.4,292.5 220.8,298.1 222.2,297.7 223.5,296.9 224.9,301.7 226.2,297.4 227.6,297.1 229,305.1 230.3,302 231.7,304 233,296.2 234.4,295.2 235.8,298.9 237.1,299.9 238.5,302.3 239.8,304.1 241.2,306.5 242.6,298 243.9,295.6 245.3,302.7 246.6,305.6 248,295.5 249.4,303.6 250.7,301.4 252.1,299.3 253.4,297.8 254.8,301.5 256.2,307.1 257.5,301.6 258.9,298.5 260.2,296.4 261.6,302.6 263,301.1 264.3,305.5 265.7,302.2 267,297.3 268.4,308.9 269.8,302.1 271.1,301 272.5,298.3 273.8,306.6 275.2,296.4 276.6,300.7 277.9,298.1 279.3,303.3 280.6,303 282,298.8 283.4,293.4 284.7,301.2 286.1,300.3 287.4,303.8" fill="none" stroke="#0A0A9A" stroke-width="1.4" stroke-dasharray="1.4 1.5"/>
<polyline points="44,295 45,295 46,295 47,295 48,295 49,295 50,295 51,295 52,294.9 53,294.9 54,294.9 55,294.9 56,294.9 57,294.9 58,294.9 59,294.9 60,294.9 61,294.9 62,294.9 63,294.9 64,294.9 65,294.9 66,294.9 67,294.9 68,294.9 69,294.9 70,294.9 71,294.9 72,294.9 73,294.9 74,294.9 75,294.8 76,294.8 77,294.7 78,294.6 79,294.5 80,294.4 81,294.2 82,293.9 83,293.6 84,293.2 85,292.8 86,292.2 87,291.5 88,290.8 89,289.9 90,288.9 91,287.8 92,286.6 93,285.3 94,283.9 95,282.5 96,281.2 97,279.8 98,278.5 99,277.4 100,276.3 101,275.5 102,274.9 103,274.5 104,274.4 105,274.5 106,274.8 107,275.3 108,276 109,276.8 110,277.8 111,278.8 112,280 113,281.2 114,282.5 115,283.7 116,285 117,286.2 118,287.3 119,288.4 120,289.4 121,290.3 122,291 123,291.7 124,292.2 125,292.6 126,292.9 127,293 128,293 129,292.9 130,292.6 131,292.3 132,291.8 133,291.4 134,290.9 135,290.4 136,290 137,289.6 138,289.4 139,289.3 140,289.3 141,289.4 142,289.7 143,290.1 144,290.6 145,291.2 146,291.8 147,292.4 148,293 149,293.5 150,294 151,294.3 152,294.6 153,294.9 154,295 155,295 156,294.9 157,294.8 158,294.5 159,294.2 160,293.8 161,293.3 162,292.7 163,292.1 164,291.4 165,290.6 166,289.7 167,288.8 168,287.8 169,286.8 170,285.7 171,284.6 172,283.4 173,282.2 174,281 175,279.8 176,278.6 177,277.3 178,276.1 179,274.8 180,273.5 181,272.1 182,270.8 183,269.4 184,268.1 185,266.7 186,265.3 187,264 188,262.8 189,261.7 190,260.7 191,259.9 192,259.3 193,259 194,258.9 195,259.1 196,259.5 197,260.2 198,261.2 199,262.3 200,263.6 201,265.1 202,266.7 203,268.4 204,270.2 205,272.1 206,274 207,276 208,277.9 209,279.8 210,281.7 211,283.5 212,285.2 213,286.8 214,288.4 215,289.8 216,291.1 217,292.3 218,293.4 219,294.4 220,295.3 221,296.1 222,296.8 223,297.5 224,298 225,298.5 226,298.9 227,299.2 228,299.5 229,299.8 230,300 231,300.2 232,300.4 233,300.5 234,300.6 235,300.7 236,300.8 237,300.9 238,300.9 239,301 240,301 241,301.1 242,301.1 243,301.1 244,301.1 245,301.2 246,301.2 247,301.2 248,301.2 249,301.2 250,301.3 251,301.3 252,301.3 253,301.3 254,301.3 255,301.3 256,301.3 257,301.4 258,301.4 259,301.4 260,301.4 261,301.4 262,301.4 263,301.4 264,301.4 265,301.4 266,301.4 267,301.4 268,301.5 269,301.5 270,301.5 271,301.5 272,301.5 273,301.5 274,301.5 275,301.5 276,301.5 277,301.5 278,301.5 279,301.5 280,301.5 281,301.5 282,301.5 283,301.5 284,301.5 285,301.5 286,301.5 287,301.5 288,301.6" fill="none" stroke="#0A0A9A" stroke-width="1.7" stroke-linejoin="round"/>
<polygon points="107,379 108,379 109,379 110,379 111,379 112,379 113,379 114,379 115,379 116,379 117,379 118,379 119,379 120,379 121,379 122,378.9 123,378.9 124,378.9 125,378.9 126,378.9 127,378.9 128,378.9 129,378.9 130,378.9 131,378.9 132,378.9 133,378.9 134,378.8 135,378.8 136,378.8 137,378.8 138,378.8 139,378.8 140,378.8 141,378.7 142,378.7 143,378.7 144,378.7 145,378.7 146,378.7 147,378.6 148,378.6 149,378.6 150,378.5 151,378.5 152,378.5 153,378.4 154,378.4 155,378.3 156,378.3 157,378.2 158,378.1 159,378 160,377.8 161,377.7 162,377.5 163,377.2 164,376.9 165,376.6 166,376.1 167,375.6 168,375 169,374.2 170,373.3 171,372.3 172,371 173,369.6 174,368 175,366.2 176,364.2 177,362 178,359.5 179,356.8 180,354 181,350.9 182,347.8 183,344.5 184,341.2 185,337.9 186,334.7 187,331.6 188,328.7 189,326.1 190,323.8 191,321.9 192,320.5 193,319.6 194,319.2 195,319.4 196,320.2 197,321.5 198,323.3 199,325.5 200,328.1 201,330.9 202,334.1 203,337.4 204,340.8 205,344.3 206,347.7 207,351.1 208,354.3 209,357.5 210,360.4 211,363.2 212,365.7 213,368.1 214,370.2 215,372.1 216,373.8 217,375.2 218,376.5 219,377.6 220,378.6 221,379.4 222,380.1 223,380.7 224,381.2 225,381.6 226,381.9 227,382.2 228,382.4 229,382.6 230,382.7 231,382.9 232,383 233,383.1 234,383.2 235,383.2 236,383.3 237,383.3 238,383.4 239,383.4 240,383.4 241,383.5 242,383.5 243,383.5 244,383.6 245,383.6 246,383.6 247,383.6 248,383.6 249,383.7 250,383.7 251,383.7 252,383.7 253,383.7 254,383.8 255,383.8 256,383.8 257,383.8 258,383.8 259,383.8 260,383.8 261,383.8 262,383.9 263,383.9 264,383.9 265,383.9 266,383.9 267,383.9 268,383.9 269,383.9 270,383.9 271,383.9 272,383.9 273,383.9 274,383.9 275,384 276,384 277,384 278,384 279,384 280,384 281,384 282,384 282,384.2 281,384.2 280,384.2 279,384.2 278,384.2 277,384.2 276,384.2 275,384.2 274,384.2 273,384.2 272,384.2 271,384.2 270,384.2 269,384.2 268,384.2 267,384.2 266,384.2 265,384.2 264,384.2 263,384.2 262,384.2 261,384.2 260,384.2 259,384.2 258,384.2 257,384.2 256,384.2 255,384.2 254,384.2 253,384.2 252,384.2 251,384.2 250,384.2 249,384.2 248,384.2 247,384.2 246,384.2 245,384.2 244,384.2 243,384.2 242,384.2 241,384.2 240,384.2 239,384.2 238,384.1 237,384.1 236,384.1 235,384.1 234,384.1 233,384.1 232,384.1 231,384.1 230,384.1 229,384.1 228,384.1 227,384.1 226,384.1 225,384.1 224,384.1 223,384.1 222,384.1 221,384.1 220,384 219,384 218,384 217,384 216,384 215,383.9 214,383.9 213,383.9 212,383.8 211,383.7 210,383.7 209,383.6 208,383.5 207,383.5 206,383.4 205,383.3 204,383.1 203,383 202,382.9 201,382.8 200,382.6 199,382.5 198,382.3 197,382.2 196,382 195,381.8 194,381.7 193,381.5 192,381.3 191,381.2 190,381 189,380.9 188,380.7 187,380.6 186,380.5 185,380.4 184,380.3 183,380.2 182,380.1 181,380 180,379.9 179,379.8 178,379.8 177,379.7 176,379.7 175,379.6 174,379.6 173,379.5 172,379.5 171,379.5 170,379.5 169,379.4 168,379.4 167,379.4 166,379.4 165,379.4 164,379.3 163,379.3 162,379.3 161,379.3 160,379.3 159,379.3 158,379.3 157,379.3 156,379.3 155,379.3 154,379.3 153,379.3 152,379.3 151,379.3 150,379.3 149,379.3 148,379.3 147,379.3 146,379.3 145,379.3 144,379.3 143,379.3 142,379.3 141,379.3 140,379.2 139,379.2 138,379.2 137,379.2 136,379.2 135,379.2 134,379.2 133,379.2 132,379.2 131,379.2 130,379.2 129,379.2 128,379.2 127,379.2 126,379.2 125,379.2 124,379.2 123,379.2 122,379.2 121,379.2 120,379.2 119,379.2 118,379.2 117,379.2 116,379.2 115,379.2 114,379.2 113,379.2 112,379.2 111,379.2 110,379.2 109,379.2 108,379.2 107,379.2" fill="#0030CC"/>
<polygon points="106,379.2 107,379.2 108,379.2 109,379.2 110,379.2 111,379.2 112,379.2 113,379.2 114,379.2 115,379.2 116,379.2 117,379.2 118,379.2 119,379.2 120,379.2 121,379.2 122,379.2 123,379.2 124,379.2 125,379.2 126,379.2 127,379.2 128,379.2 129,379.2 130,379.2 131,379.2 132,379.2 133,379.2 134,379.2 135,379.2 136,379.2 137,379.2 138,379.2 139,379.2 140,379.2 141,379.2 142,379.2 143,379.2 144,379.2 145,379.2 146,379.2 147,379.1 148,379.1 149,379.1 150,379.1 151,379 152,379 153,378.9 154,378.8 155,378.7 156,378.6 157,378.4 158,378.3 159,378.1 160,377.9 161,377.6 162,377.4 163,377.1 164,376.8 165,376.5 166,376.2 167,375.9 168,375.7 169,375.4 170,375.2 171,375.1 172,375 173,375 174,375.1 175,375.3 176,375.5 177,375.7 178,376 179,376.4 180,376.7 181,377.1 182,377.5 183,377.9 184,378.3 185,378.7 186,379 187,379.4 188,379.7 189,380 190,380.3 191,380.6 192,380.9 193,381.1 194,381.4 195,381.6 196,381.8 197,382 198,382.2 199,382.3 200,382.5 201,382.7 202,382.8 203,383 204,383.1 205,383.2 206,383.3 207,383.4 208,383.5 209,383.6 210,383.6 211,383.7 212,383.8 213,383.8 214,383.9 215,383.9 216,383.9 217,384 218,384 219,384 220,384 221,384 222,384 223,384.1 224,384.1 225,384.1 226,384.1 227,384.1 228,384.1 229,384.1 230,384.1 231,384.1 232,384.1 233,384.1 234,384.1 235,384.1 236,384.1 237,384.1 238,384.1 239,384.1 240,384.1 240,384.2 239,384.2 238,384.1 237,384.1 236,384.1 235,384.1 234,384.1 233,384.1 232,384.1 231,384.1 230,384.1 229,384.1 228,384.1 227,384.1 226,384.1 225,384.1 224,384.1 223,384.1 222,384.1 221,384.1 220,384 219,384 218,384 217,384 216,384 215,383.9 214,383.9 213,383.9 212,383.8 211,383.7 210,383.7 209,383.6 208,383.5 207,383.5 206,383.4 205,383.3 204,383.1 203,383 202,382.9 201,382.8 200,382.6 199,382.5 198,382.3 197,382.2 196,382 195,381.8 194,381.7 193,381.5 192,381.3 191,381.2 190,381 189,380.9 188,380.7 187,380.6 186,380.5 185,380.4 184,380.3 183,380.2 182,380.1 181,380 180,379.9 179,379.8 178,379.8 177,379.7 176,379.7 175,379.6 174,379.6 173,379.5 172,379.5 171,379.5 170,379.5 169,379.4 168,379.4 167,379.4 166,379.4 165,379.4 164,379.3 163,379.3 162,379.3 161,379.3 160,379.3 159,379.3 158,379.3 157,379.3 156,379.3 155,379.3 154,379.3 153,379.3 152,379.3 151,379.3 150,379.3 149,379.3 148,379.3 147,379.3 146,379.3 145,379.3 144,379.3 143,379.3 142,379.3 141,379.3 140,379.2 139,379.2 138,379.2 137,379.2 136,379.2 135,379.2 134,379.2 133,379.2 132,379.2 131,379.2 130,379.2 129,379.2 128,379.2 127,379.2 126,379.2 125,379.2 124,379.2 123,379.2 122,379.2 121,379.2 120,379.2 119,379.2 118,379.2 117,379.2 116,379.2 115,379.2 114,379.2 113,379.2 112,379.2 111,379.2 110,379.2 109,379.2 108,379.2 107,379.2 106,379.2" fill="#0088D4"/>
<polyline points="44,379.2 45,379.2 46,379.2 47,379.2 48,379.2 49,379.2 50,379.2 51,379.2 52,379.2 53,379.2 54,379.2 55,379.2 56,379.2 57,379.2 58,379.2 59,379.2 60,379.2 61,379.2 62,379.2 63,379.2 64,379.2 65,379.2 66,379.2 67,379.2 68,379.2 69,379.2 70,379.2 71,379.2 72,379.2 73,379.2 74,379.2 75,379.2 76,379.2 77,379.2 78,379.2 79,379.2 80,379.2 81,379.2 82,379.2 83,379.2 84,379.2 85,379.2 86,379.2 87,379.2 88,379.2 89,379.2 90,379.2 91,379.2 92,379.2 93,379.2 94,379.2 95,379.2 96,379.2 97,379.2 98,379.2 99,379.2 100,379.2 101,379.2 102,379.2 103,379.2 104,379.2 105,379.2 106,379.2 107,379.2 108,379.2 109,379.2 110,379.2 111,379.2 112,379.2 113,379.2 114,379.2 115,379.2 116,379.2 117,379.2 118,379.2 119,379.2 120,379.2 121,379.2 122,379.2 123,379.2 124,379.2 125,379.2 126,379.2 127,379.2 128,379.2 129,379.2 130,379.2 131,379.2 132,379.2 133,379.2 134,379.2 135,379.2 136,379.2 137,379.2 138,379.2 139,379.2 140,379.2 141,379.3 142,379.3 143,379.3 144,379.3 145,379.3 146,379.3 147,379.3 148,379.3 149,379.3 150,379.3 151,379.3 152,379.3 153,379.3 154,379.3 155,379.3 156,379.3 157,379.3 158,379.3 159,379.3 160,379.3 161,379.3 162,379.3 163,379.3 164,379.3 165,379.4 166,379.4 167,379.4 168,379.4 169,379.4 170,379.5 171,379.5 172,379.5 173,379.5 174,379.6 175,379.6 176,379.7 177,379.7 178,379.8 179,379.8 180,379.9 181,380 182,380.1 183,380.2 184,380.3 185,380.4 186,380.5 187,380.6 188,380.7 189,380.9 190,381 191,381.2 192,381.3 193,381.5 194,381.7 195,381.8 196,382 197,382.2 198,382.3 199,382.5 200,382.6 201,382.8 202,382.9 203,383 204,383.1 205,383.3 206,383.4 207,383.5 208,383.5 209,383.6 210,383.7 211,383.7 212,383.8 213,383.9 214,383.9 215,383.9 216,384 217,384 218,384 219,384 220,384 221,384.1 222,384.1 223,384.1 224,384.1 225,384.1 226,384.1 227,384.1 228,384.1 229,384.1 230,384.1 231,384.1 232,384.1 233,384.1 234,384.1 235,384.1 236,384.1 237,384.1 238,384.1 239,384.2 240,384.2 241,384.2 242,384.2 243,384.2 244,384.2 245,384.2 246,384.2 247,384.2 248,384.2 249,384.2 250,384.2 251,384.2 252,384.2 253,384.2 254,384.2 255,384.2 256,384.2 257,384.2 258,384.2 259,384.2 260,384.2 261,384.2 262,384.2 263,384.2 264,384.2 265,384.2 266,384.2 267,384.2 268,384.2 269,384.2 270,384.2 271,384.2 272,384.2 273,384.2 274,384.2 275,384.2 276,384.2 277,384.2 278,384.2 279,384.2 280,384.2 281,384.2 282,384.2 283,384.2 284,384.2 285,384.2 286,384.2 287,384.2 288,384.2" fill="none" stroke="#00707A" stroke-width="1.0"/>
<polyline points="44,379.1 45,379.1 46,379.1 47,379.1 48,379.1 49,379.1 50,379.1 51,379.1 52,379.1 53,379.1 54,379.1 55,379.1 56,379.1 57,379.1 58,379.1 59,379.1 60,379.1 61,379.1 62,379.1 63,379.1 64,379.1 65,379.1 66,379.1 67,379.1 68,379.1 69,379.1 70,379.1 71,379.1 72,379.1 73,379.1 74,379.1 75,379.1 76,379.1 77,379.1 78,379.1 79,379.1 80,379.1 81,379.1 82,379.1 83,379.1 84,379.1 85,379.1 86,379.1 87,379.1 88,379.1 89,379.1 90,379.1 91,379.1 92,379.1 93,379.1 94,379.1 95,379.1 96,379 97,379 98,379 99,379 100,379 101,379 102,379 103,379 104,379 105,379 106,379 107,379 108,379 109,379 110,379 111,379 112,379 113,379 114,379 115,379 116,379 117,379 118,379 119,378.9 120,378.9 121,378.9 122,378.9 123,378.9 124,378.9 125,378.9 126,378.9 127,378.9 128,378.9 129,378.9 130,378.9 131,378.8 132,378.8 133,378.8 134,378.8 135,378.8 136,378.8 137,378.8 138,378.7 139,378.7 140,378.7 141,378.7 142,378.7 143,378.6 144,378.6 145,378.6 146,378.5 147,378.5 148,378.5 149,378.4 150,378.3 151,378.3 152,378.2 153,378.1 154,377.9 155,377.8 156,377.6 157,377.3 158,377.1 159,376.8 160,376.4 161,376 162,375.5 163,375 164,374.4 165,373.7 166,373 167,372.1 168,371.2 169,370.2 170,369.1 171,367.9 172,366.6 173,365.1 174,363.6 175,361.9 176,360 177,357.9 178,355.7 179,353.3 180,350.8 181,348.1 182,345.2 183,342.3 184,339.3 185,336.2 186,333.3 187,330.4 188,327.7 189,325.2 190,323.1 191,321.3 192,320 193,319.2 194,318.9 195,319.2 196,320 197,321.3 198,323.1 199,325.3 200,327.9 201,330.9 202,334 203,337.3 204,340.7 205,344.2 206,347.6 207,351 208,354.3 209,357.4 210,360.4 211,363.1 212,365.7 213,368 214,370.1 215,372 216,373.7 217,375.2 218,376.5 219,377.6 220,378.6 221,379.4 222,380.1 223,380.7 224,381.1 225,381.5 226,381.9 227,382.2 228,382.4 229,382.6 230,382.7 231,382.9 232,383 233,383.1 234,383.1 235,383.2 236,383.3 237,383.3 238,383.4 239,383.4 240,383.4 241,383.5 242,383.5 243,383.5 244,383.5 245,383.6 246,383.6 247,383.6 248,383.6 249,383.7 250,383.7 251,383.7 252,383.7 253,383.7 254,383.7 255,383.8 256,383.8 257,383.8 258,383.8 259,383.8 260,383.8 261,383.8 262,383.8 263,383.9 264,383.9 265,383.9 266,383.9 267,383.9 268,383.9 269,383.9 270,383.9 271,383.9 272,383.9 273,383.9 274,383.9 275,383.9 276,384 277,384 278,384 279,384 280,384 281,384 282,384 283,384 284,384 285,384 286,384 287,384 288,384" fill="none" stroke="#0A0A9A" stroke-width="1.7" stroke-linejoin="round"/>
<polygon points="345,98.7 346,98.7 347,98.7 348,98.7 349,98.7 350,98.7 351,98.7 352,98.7 353,98.7 354,98.7 355,98.7 356,98.7 357,98.7 358,98.7 359,98.7 360,98.7 361,98.7 362,98.7 363,98.7 364,98.7 365,98.7 366,98.7 367,98.7 368,98.7 369,98.7 370,98.7 371,98.7 372,98.7 373,98.7 374,98.7 375,98.7 376,98.7 377,98.7 378,98.7 379,98.7 380,98.6 381,98.6 382,98.6 383,98.6 384,98.6 385,98.6 386,98.6 387,98.6 388,98.6 389,98.6 390,98.6 391,98.6 392,98.6 393,98.6 394,98.6 395,98.6 396,98.6 397,98.6 398,98.6 399,98.6 400,98.5 401,98.5 402,98.5 403,98.5 404,98.5 405,98.5 406,98.5 407,98.5 408,98.5 409,98.4 410,98.4 411,98.4 412,98.4 413,98.4 414,98.3 415,98.3 416,98.3 417,98.2 418,98.2 419,98.1 420,98.1 421,98 422,97.9 423,97.9 424,97.8 425,97.7 426,97.5 427,97.4 428,97.2 429,97 430,96.8 431,96.6 432,96.4 433,96.1 434,95.8 435,95.5 436,95.1 437,94.7 438,94.3 439,93.8 440,93.3 441,92.8 442,92.3 443,91.7 444,91.1 445,90.4 446,89.8 447,89.1 448,88.4 449,87.7 450,87.1 451,86.4 452,85.7 453,85 454,84.4 455,83.8 456,83.2 457,82.7 458,82.2 459,81.8 460,81.5 461,81.3 462,81.1 463,81 464,81 465,81.1 466,81.3 467,81.5 468,81.8 469,82.2 470,82.7 471,83.2 472,83.8 473,84.4 474,85 475,85.7 476,86.4 477,87.1 478,87.7 479,88.4 480,89.1 481,89.8 482,90.4 483,91.1 484,91.7 485,92.3 486,92.8 487,93.3 488,93.8 489,94.3 490,94.7 491,95.1 492,95.5 493,95.8 494,96.1 495,96.4 496,96.6 497,96.8 498,97 499,97.2 500,97.4 501,97.5 502,97.7 503,97.8 504,97.9 505,97.9 506,98 507,98.1 508,98.1 509,98.2 510,98.2 511,98.3 512,98.3 513,98.3 514,98.4 515,98.4 516,98.4 517,98.4 518,98.4 519,98.5 520,98.5 521,98.5 522,98.5 523,98.5 524,98.5 525,98.5 526,98.5 527,98.5 528,98.6 529,98.6 530,98.6 531,98.6 532,98.6 533,98.6 534,98.6 535,98.6 536,98.6 537,98.6 538,98.6 539,98.6 540,98.6 541,98.6 542,98.6 543,98.6 544,98.6 545,98.6 546,98.6 547,98.6 548,98.7 549,98.7 550,98.7 551,98.7 552,98.7 553,98.7 554,98.7 555,98.7 556,98.7 557,98.7 558,98.7 559,98.7 560,98.7 561,98.7 562,98.7 563,98.7 564,98.7 565,98.7 566,98.7 567,98.7 568,98.7 569,98.7 570,98.7 571,98.7 572,98.7 573,98.7 574,98.7 575,98.7 576,98.7 577,98.7 578,98.7 579,98.7 580,98.7 581,98.7 582,98.7 583,98.7 583,98.8 582,98.8 581,98.8 580,98.8 579,98.8 578,98.8 577,98.8 576,98.8 575,98.8 574,98.8 573,98.8 572,98.8 571,98.8 570,98.8 569,98.8 568,98.8 567,98.8 566,98.8 565,98.8 564,98.8 563,98.8 562,98.8 561,98.8 560,98.8 559,98.8 558,98.8 557,98.8 556,98.8 555,98.8 554,98.8 553,98.8 552,98.8 551,98.8 550,98.8 549,98.8 548,98.8 547,98.8 546,98.8 545,98.8 544,98.8 543,98.8 542,98.8 541,98.8 540,98.8 539,98.8 538,98.8 537,98.8 536,98.8 535,98.8 534,98.8 533,98.8 532,98.8 531,98.8 530,98.8 529,98.8 528,98.8 527,98.8 526,98.8 525,98.8 524,98.8 523,98.8 522,98.8 521,98.8 520,98.8 519,98.8 518,98.8 517,98.8 516,98.8 515,98.8 514,98.8 513,98.8 512,98.8 511,98.8 510,98.8 509,98.8 508,98.8 507,98.8 506,98.8 505,98.8 504,98.8 503,98.8 502,98.8 501,98.8 500,98.8 499,98.8 498,98.8 497,98.8 496,98.8 495,98.8 494,98.8 493,98.8 492,98.8 491,98.8 490,98.8 489,98.8 488,98.8 487,98.8 486,98.8 485,98.8 484,98.8 483,98.8 482,98.8 481,98.8 480,98.8 479,98.8 478,98.8 477,98.8 476,98.8 475,98.8 474,98.8 473,98.8 472,98.8 471,98.8 470,98.8 469,98.8 468,98.8 467,98.8 466,98.8 465,98.8 464,98.8 463,98.8 462,98.8 461,98.8 460,98.8 459,98.8 458,98.8 457,98.8 456,98.8 455,98.8 454,98.8 453,98.8 452,98.8 451,98.8 450,98.8 449,98.8 448,98.8 447,98.8 446,98.8 445,98.8 444,98.8 443,98.8 442,98.8 441,98.8 440,98.8 439,98.8 438,98.8 437,98.8 436,98.8 435,98.8 434,98.8 433,98.8 432,98.8 431,98.8 430,98.8 429,98.8 428,98.8 427,98.8 426,98.8 425,98.8 424,98.8 423,98.8 422,98.8 421,98.8 420,98.8 419,98.8 418,98.8 417,98.8 416,98.8 415,98.8 414,98.8 413,98.8 412,98.8 411,98.8 410,98.8 409,98.8 408,98.8 407,98.8 406,98.8 405,98.8 404,98.8 403,98.8 402,98.8 401,98.8 400,98.8 399,98.8 398,98.8 397,98.8 396,98.8 395,98.8 394,98.8 393,98.8 392,98.8 391,98.8 390,98.8 389,98.8 388,98.8 387,98.8 386,98.8 385,98.8 384,98.8 383,98.8 382,98.8 381,98.8 380,98.8 379,98.8 378,98.8 377,98.8 376,98.8 375,98.8 374,98.8 373,98.8 372,98.8 371,98.8 370,98.8 369,98.8 368,98.8 367,98.8 366,98.8 365,98.8 364,98.8 363,98.8 362,98.8 361,98.8 360,98.8 359,98.8 358,98.8 357,98.8 356,98.8 355,98.8 354,98.8 353,98.8 352,98.8 351,98.8 350,98.8 349,98.8 348,98.8 347,98.8 346,98.8 345,98.8" fill="#D0CC00"/>
<polygon points="345,98.7 346,98.7 347,98.7 348,98.7 349,98.7 350,98.7 351,98.7 352,98.7 353,98.7 354,98.7 355,98.7 356,98.7 357,98.7 358,98.7 359,98.7 360,98.7 361,98.7 362,98.7 363,98.7 364,98.7 365,98.7 366,98.7 367,98.7 368,98.7 369,98.7 370,98.7 371,98.7 372,98.7 373,98.7 374,98.7 375,98.7 376,98.7 377,98.7 378,98.7 379,98.7 380,98.7 381,98.7 382,98.7 383,98.7 384,98.7 385,98.7 386,98.7 387,98.7 388,98.7 389,98.6 390,98.6 391,98.6 392,98.6 393,98.6 394,98.6 395,98.6 396,98.6 397,98.6 398,98.6 399,98.6 400,98.6 401,98.6 402,98.6 403,98.6 404,98.6 405,98.6 406,98.6 407,98.6 408,98.6 409,98.6 410,98.6 411,98.5 412,98.5 413,98.5 414,98.5 415,98.5 416,98.5 417,98.5 418,98.5 419,98.5 420,98.4 421,98.4 422,98.4 423,98.4 424,98.4 425,98.3 426,98.3 427,98.3 428,98.2 429,98.2 430,98.1 431,98.1 432,98 433,98 434,97.9 435,97.8 436,97.8 437,97.7 438,97.6 439,97.5 440,97.3 441,97.2 442,97.1 443,96.9 444,96.7 445,96.6 446,96.4 447,96.2 448,95.9 449,95.7 450,95.4 451,95.2 452,94.9 453,94.6 454,94.3 455,93.9 456,93.6 457,93.2 458,92.8 459,92.5 460,92.1 461,91.6 462,91.2 463,90.8 464,90.4 465,89.9 466,89.5 467,89.1 468,88.7 469,88.3 470,87.8 471,87.5 472,87.1 473,86.7 474,86.4 475,86.1 476,85.8 477,85.5 478,85.3 479,85.1 480,85 481,84.9 482,84.8 483,84.8 484,84.8 485,84.9 486,85 487,85.1 488,85.3 489,85.5 490,85.8 491,86.1 492,86.4 493,86.7 494,87.1 495,87.5 496,87.8 497,88.3 498,88.7 499,89.1 500,89.5 501,89.9 502,90.4 503,90.8 504,91.2 505,91.6 506,92.1 507,92.5 508,92.8 509,93.2 510,93.6 511,93.9 512,94.3 513,94.6 514,94.9 515,95.2 516,95.4 517,95.7 518,95.9 519,96.2 520,96.4 521,96.6 522,96.7 523,96.9 524,97.1 525,97.2 526,97.3 527,97.5 528,97.6 529,97.7 530,97.8 531,97.8 532,97.9 533,98 534,98 535,98.1 536,98.1 537,98.2 538,98.2 539,98.3 540,98.3 541,98.3 542,98.4 543,98.4 544,98.4 545,98.4 546,98.4 547,98.5 548,98.5 549,98.5 550,98.5 551,98.5 552,98.5 553,98.5 554,98.5 555,98.5 556,98.6 557,98.6 558,98.6 559,98.6 560,98.6 561,98.6 562,98.6 563,98.6 564,98.6 565,98.6 566,98.6 567,98.6 568,98.6 569,98.6 570,98.6 571,98.6 572,98.6 573,98.6 574,98.6 575,98.6 576,98.6 577,98.6 578,98.7 579,98.7 580,98.7 581,98.7 582,98.7 583,98.7 584,98.7 585,98.7 586,98.7 587,98.7 588,98.7 589,98.7 590,98.7 590,98.8 589,98.8 588,98.8 587,98.8 586,98.8 585,98.8 584,98.8 583,98.8 582,98.8 581,98.8 580,98.8 579,98.8 578,98.8 577,98.8 576,98.8 575,98.8 574,98.8 573,98.8 572,98.8 571,98.8 570,98.8 569,98.8 568,98.8 567,98.8 566,98.8 565,98.8 564,98.8 563,98.8 562,98.8 561,98.8 560,98.8 559,98.8 558,98.8 557,98.8 556,98.8 555,98.8 554,98.8 553,98.8 552,98.8 551,98.8 550,98.8 549,98.8 548,98.8 547,98.8 546,98.8 545,98.8 544,98.8 543,98.8 542,98.8 541,98.8 540,98.8 539,98.8 538,98.8 537,98.8 536,98.8 535,98.8 534,98.8 533,98.8 532,98.8 531,98.8 530,98.8 529,98.8 528,98.8 527,98.8 526,98.8 525,98.8 524,98.8 523,98.8 522,98.8 521,98.8 520,98.8 519,98.8 518,98.8 517,98.8 516,98.8 515,98.8 514,98.8 513,98.8 512,98.8 511,98.8 510,98.8 509,98.8 508,98.8 507,98.8 506,98.8 505,98.8 504,98.8 503,98.8 502,98.8 501,98.8 500,98.8 499,98.8 498,98.8 497,98.8 496,98.8 495,98.8 494,98.8 493,98.8 492,98.8 491,98.8 490,98.8 489,98.8 488,98.8 487,98.8 486,98.8 485,98.8 484,98.8 483,98.8 482,98.8 481,98.8 480,98.8 479,98.8 478,98.8 477,98.8 476,98.8 475,98.8 474,98.8 473,98.8 472,98.8 471,98.8 470,98.8 469,98.8 468,98.8 467,98.8 466,98.8 465,98.8 464,98.8 463,98.8 462,98.8 461,98.8 460,98.8 459,98.8 458,98.8 457,98.8 456,98.8 455,98.8 454,98.8 453,98.8 452,98.8 451,98.8 450,98.8 449,98.8 448,98.8 447,98.8 446,98.8 445,98.8 444,98.8 443,98.8 442,98.8 441,98.8 440,98.8 439,98.8 438,98.8 437,98.8 436,98.8 435,98.8 434,98.8 433,98.8 432,98.8 431,98.8 430,98.8 429,98.8 428,98.8 427,98.8 426,98.8 425,98.8 424,98.8 423,98.8 422,98.8 421,98.8 420,98.8 419,98.8 418,98.8 417,98.8 416,98.8 415,98.8 414,98.8 413,98.8 412,98.8 411,98.8 410,98.8 409,98.8 408,98.8 407,98.8 406,98.8 405,98.8 404,98.8 403,98.8 402,98.8 401,98.8 400,98.8 399,98.8 398,98.8 397,98.8 396,98.8 395,98.8 394,98.8 393,98.8 392,98.8 391,98.8 390,98.8 389,98.8 388,98.8 387,98.8 386,98.8 385,98.8 384,98.8 383,98.8 382,98.8 381,98.8 380,98.8 379,98.8 378,98.8 377,98.8 376,98.8 375,98.8 374,98.8 373,98.8 372,98.8 371,98.8 370,98.8 369,98.8 368,98.8 367,98.8 366,98.8 365,98.8 364,98.8 363,98.8 362,98.8 361,98.8 360,98.8 359,98.8 358,98.8 357,98.8 356,98.8 355,98.8 354,98.8 353,98.8 352,98.8 351,98.8 350,98.8 349,98.8 348,98.8 347,98.8 346,98.8 345,98.8" fill="#FFFF70"/>
<polyline points="345,98.7 346,98.6 347,98.6 348,98.6 349,98.6 350,98.6 351,98.6 352,98.6 353,98.6 354,98.6 355,98.6 356,98.6 357,98.6 358,98.6 359,98.6 360,98.6 361,98.6 362,98.6 363,98.6 364,98.6 365,98.6 366,98.6 367,98.6 368,98.6 369,98.6 370,98.6 371,98.6 372,98.6 373,98.6 374,98.6 375,98.5 376,98.5 377,98.5 378,98.5 379,98.5 380,98.5 381,98.5 382,98.5 383,98.5 384,98.5 385,98.5 386,98.5 387,98.5 388,98.5 389,98.5 390,98.5 391,98.4 392,98.4 393,98.4 394,98.4 395,98.4 396,98.4 397,98.4 398,98.4 399,98.4 400,98.4 401,98.3 402,98.3 403,98.3 404,98.3 405,98.3 406,98.3 407,98.2 408,98.2 409,98.2 410,98.2 411,98.2 412,98.1 413,98.1 414,98.1 415,98 416,98 417,97.9 418,97.9 419,97.8 420,97.7 421,97.6 422,97.5 423,97.4 424,97.3 425,97.2 426,97 427,96.9 428,96.7 429,96.4 430,96.2 431,95.9 432,95.6 433,95.3 434,94.9 435,94.5 436,94.1 437,93.6 438,93.1 439,92.5 440,91.9 441,91.2 442,90.5 443,89.8 444,89 445,88.2 446,87.4 447,86.5 448,85.6 449,84.6 450,83.7 451,82.7 452,81.8 453,80.8 454,79.8 455,78.9 456,78 457,77.1 458,76.3 459,75.5 460,74.8 461,74.1 462,73.5 463,73 464,72.6 465,72.2 466,72 467,71.8 468,71.7 469,71.7 470,71.7 471,71.9 472,72.1 473,72.3 474,72.6 475,73 476,73.3 477,73.8 478,74.3 479,74.8 480,75.3 481,75.9 482,76.5 483,77.1 484,77.7 485,78.4 486,79 487,79.7 488,80.3 489,81 490,81.7 491,82.4 492,83 493,83.7 494,84.4 495,85 496,85.7 497,86.3 498,86.9 499,87.5 500,88.1 501,88.7 502,89.2 503,89.8 504,90.3 505,90.8 506,91.3 507,91.7 508,92.2 509,92.6 510,93 511,93.4 512,93.8 513,94.1 514,94.4 515,94.8 516,95 517,95.3 518,95.6 519,95.8 520,96 521,96.2 522,96.4 523,96.6 524,96.8 525,96.9 526,97.1 527,97.2 528,97.3 529,97.4 530,97.5 531,97.6 532,97.7 533,97.8 534,97.8 535,97.9 536,97.9 537,98 538,98 539,98.1 540,98.1 541,98.2 542,98.2 543,98.2 544,98.2 545,98.3 546,98.3 547,98.3 548,98.3 549,98.3 550,98.4 551,98.4 552,98.4 553,98.4 554,98.4 555,98.4 556,98.4 557,98.4 558,98.4 559,98.5 560,98.5 561,98.5 562,98.5 563,98.5 564,98.5 565,98.5 566,98.5 567,98.5 568,98.5 569,98.5 570,98.5 571,98.5 572,98.5 573,98.5 574,98.6 575,98.6 576,98.6 577,98.6 578,98.6 579,98.6 580,98.6 581,98.6 582,98.6 583,98.6 584,98.6 585,98.6 586,98.6 587,98.6 588,98.6 589,98.6 590,98.6" fill="none" stroke="#646404" stroke-width="2.8" stroke-linejoin="round"/>
<path d="M347.1 100.6h1.4M348.5 100.1h1.4M349.9 100.6h1.4M363.9 100.6h1.4M365.3 96.3h1.4M368.1 96.8h1.4M383.5 96.3h1.4M390.5 100.4h1.4M394.7 100.4h1.4M396.1 100h1.4M397.5 96.5h1.4M398.9 96h1.4M401.7 96.8h1.4M403.1 96.4h1.4M411.5 96.4h1.4M419.9 96.2h1.4M421.3 95.8h1.4M435.3 92.3h1.4M449.3 86h1.4M452.1 78.8h1.4M466.1 73.5h1.4M467.5 70h1.4M468.9 70.1h1.4M477.3 76.5h1.4M478.7 73.1h1.4M480.1 77.7h1.4M481.5 78.5h1.4M482.9 79.6h1.4M484.3 80.5h1.4M485.7 81.3h1.4M491.3 81.6h1.4M501.1 91h1.4M502.5 92h1.4M503.9 89h1.4M506.7 90.1h1.4M512.3 95.9h1.4M520.7 93.9h1.4M523.5 94.8h1.4M530.5 99.9h1.4M533.3 99.8h1.4M541.7 95.8h1.4M543.1 95.9h1.4M545.9 96.1h1.4M547.3 99.8h1.4M548.7 96h1.4M555.7 100.2h1.4M571.1 97.1h1.4M582.3 96.7h1.4M589.3 96.5h1.4" fill="none" stroke="#5E5E10" stroke-width="1.4"/>
<polygon points="345,183.5 346,183.5 347,183.5 348,183.5 349,183.5 350,183.5 351,183.4 352,183.4 353,183.4 354,183.4 355,183.4 356,183.4 357,183.4 358,183.4 359,183.4 360,183.4 361,183.4 362,183.4 363,183.4 364,183.3 365,183.3 366,183.3 367,183.3 368,183.3 369,183.3 370,183.3 371,183.3 372,183.3 373,183.2 374,183.2 375,183.2 376,183.2 377,183.2 378,183.2 379,183.2 380,183.1 381,183.1 382,183.1 383,183.1 384,183.1 385,183.1 386,183 387,183 388,183 389,183 390,183 391,182.9 392,182.9 393,182.9 394,182.8 395,182.8 396,182.8 397,182.7 398,182.7 399,182.6 400,182.6 401,182.5 402,182.5 403,182.4 404,182.3 405,182.2 406,182.1 407,182 408,181.9 409,181.8 410,181.6 411,181.4 412,181.2 413,181 414,180.7 415,180.5 416,180.1 417,179.7 418,179.3 419,178.9 420,178.3 421,177.8 422,177.1 423,176.4 424,175.6 425,174.7 426,173.8 427,172.8 428,171.7 429,170.4 430,169.2 431,167.8 432,166.3 433,164.7 434,163 435,161.3 436,159.5 437,157.6 438,155.6 439,153.6 440,151.5 441,149.5 442,147.4 443,145.2 444,143.1 445,141.1 446,139.1 447,137.1 448,135.3 449,133.5 450,131.9 451,130.5 452,129.2 453,128.1 454,127.2 455,126.6 456,126.2 457,126 458,126.1 459,126.4 460,127 461,127.7 462,128.7 463,129.9 464,131.3 465,132.9 466,134.6 467,136.4 468,138.3 469,140.3 470,142.3 471,144.4 472,146.5 473,148.6 474,150.7 475,152.8 476,154.8 477,156.8 478,158.7 479,160.6 480,162.4 481,164.1 482,165.7 483,167.2 484,168.6 485,169.9 486,171.2 487,172.3 488,173.4 489,174.4 490,175.3 491,176.1 492,176.8 493,177.5 494,178.1 495,178.7 496,179.2 497,179.6 498,180 499,180.3 500,180.6 501,180.9 502,181.1 503,181.4 504,181.5 505,181.7 506,181.9 507,182 508,182.1 509,182.2 510,182.3 511,182.4 512,182.4 513,182.5 514,182.6 515,182.6 516,182.7 517,182.7 518,182.8 519,182.8 520,182.8 521,182.9 522,182.9 523,182.9 524,182.9 525,183 526,183 527,183 528,183 529,183.1 530,183.1 531,183.1 532,183.1 533,183.1 534,183.1 535,183.2 536,183.2 537,183.2 538,183.2 539,183.2 540,183.2 541,183.2 542,183.3 543,183.3 544,183.3 545,183.3 546,183.3 547,183.3 548,183.3 549,183.3 550,183.3 551,183.4 552,183.4 553,183.4 554,183.4 555,183.4 556,183.4 557,183.4 558,183.4 559,183.4 560,183.4 561,183.4 562,183.4 563,183.4 564,183.5 565,183.5 566,183.5 567,183.5 568,183.5 569,183.5 570,183.5 571,183.5 572,183.5 573,183.5 574,183.5 575,183.5 576,183.5 577,183.5 578,183.5 579,183.5 580,183.5 581,183.5 582,183.5 583,183.5 584,183.6 585,183.6 585,183.8 584,183.8 583,183.8 582,183.8 581,183.8 580,183.8 579,183.8 578,183.8 577,183.8 576,183.8 575,183.8 574,183.8 573,183.8 572,183.8 571,183.8 570,183.8 569,183.8 568,183.8 567,183.8 566,183.8 565,183.8 564,183.8 563,183.8 562,183.8 561,183.8 560,183.8 559,183.8 558,183.8 557,183.8 556,183.8 555,183.8 554,183.8 553,183.8 552,183.8 551,183.8 550,183.8 549,183.8 548,183.8 547,183.8 546,183.8 545,183.8 544,183.8 543,183.8 542,183.8 541,183.8 540,183.8 539,183.8 538,183.8 537,183.8 536,183.8 535,183.8 534,183.8 533,183.8 532,183.8 531,183.8 530,183.8 529,183.8 528,183.8 527,183.8 526,183.8 525,183.8 524,183.8 523,183.8 522,183.8 521,183.8 520,183.8 519,183.8 518,183.8 517,183.8 516,183.8 515,183.8 514,183.8 513,183.8 512,183.8 511,183.8 510,183.8 509,183.8 508,183.8 507,183.8 506,183.8 505,183.8 504,183.8 503,183.8 502,183.8 501,183.8 500,183.8 499,183.8 498,183.8 497,183.8 496,183.8 495,183.8 494,183.8 493,183.8 492,183.8 491,183.8 490,183.8 489,183.8 488,183.8 487,183.8 486,183.8 485,183.8 484,183.8 483,183.8 482,183.8 481,183.8 480,183.8 479,183.8 478,183.8 477,183.8 476,183.8 475,183.8 474,183.8 473,183.8 472,183.8 471,183.8 470,183.8 469,183.8 468,183.8 467,183.8 466,183.8 465,183.8 464,183.8 463,183.8 462,183.8 461,183.8 460,183.8 459,183.8 458,183.8 457,183.8 456,183.8 455,183.8 454,183.8 453,183.8 452,183.8 451,183.8 450,183.8 449,183.8 448,183.8 447,183.8 446,183.8 445,183.8 444,183.8 443,183.8 442,183.8 441,183.8 440,183.8 439,183.8 438,183.8 437,183.8 436,183.8 435,183.8 434,183.8 433,183.8 432,183.8 431,183.8 430,183.8 429,183.8 428,183.8 427,183.8 426,183.8 425,183.8 424,183.8 423,183.8 422,183.8 421,183.8 420,183.8 419,183.8 418,183.8 417,183.8 416,183.8 415,183.8 414,183.8 413,183.8 412,183.8 411,183.8 410,183.8 409,183.8 408,183.8 407,183.8 406,183.8 405,183.8 404,183.8 403,183.8 402,183.8 401,183.8 400,183.8 399,183.8 398,183.8 397,183.8 396,183.8 395,183.8 394,183.8 393,183.8 392,183.8 391,183.8 390,183.8 389,183.8 388,183.8 387,183.8 386,183.8 385,183.8 384,183.8 383,183.8 382,183.8 381,183.8 380,183.8 379,183.8 378,183.8 377,183.8 376,183.8 375,183.8 374,183.8 373,183.8 372,183.8 371,183.8 370,183.8 369,183.8 368,183.8 367,183.8 366,183.8 365,183.8 364,183.8 363,183.8 362,183.8 361,183.8 360,183.8 359,183.8 358,183.8 357,183.8 356,183.8 355,183.8 354,183.8 353,183.8 352,183.8 351,183.8 350,183.8 349,183.8 348,183.8 347,183.8 346,183.8 345,183.8" fill="#D0CC00"/>
<polygon points="350,183.7 351,183.7 352,183.7 353,183.7 354,183.7 355,183.7 356,183.7 357,183.7 358,183.7 359,183.7 360,183.7 361,183.7 362,183.7 363,183.7 364,183.7 365,183.7 366,183.7 367,183.7 368,183.7 369,183.7 370,183.7 371,183.7 372,183.7 373,183.7 374,183.7 375,183.7 376,183.7 377,183.7 378,183.7 379,183.7 380,183.7 381,183.7 382,183.7 383,183.7 384,183.7 385,183.7 386,183.7 387,183.7 388,183.7 389,183.7 390,183.7 391,183.7 392,183.7 393,183.7 394,183.6 395,183.6 396,183.6 397,183.6 398,183.6 399,183.6 400,183.6 401,183.6 402,183.6 403,183.6 404,183.6 405,183.6 406,183.6 407,183.6 408,183.6 409,183.6 410,183.6 411,183.6 412,183.6 413,183.5 414,183.5 415,183.5 416,183.5 417,183.5 418,183.5 419,183.5 420,183.5 421,183.4 422,183.4 423,183.4 424,183.4 425,183.3 426,183.3 427,183.3 428,183.2 429,183.2 430,183.1 431,183.1 432,183 433,182.9 434,182.8 435,182.7 436,182.6 437,182.4 438,182.3 439,182.1 440,182 441,181.7 442,181.5 443,181.3 444,181 445,180.7 446,180.4 447,180.1 448,179.7 449,179.3 450,178.9 451,178.4 452,178 453,177.5 454,177 455,176.4 456,175.9 457,175.3 458,174.8 459,174.2 460,173.6 461,173.1 462,172.5 463,172 464,171.5 465,171 466,170.6 467,170.1 468,169.8 469,169.5 470,169.2 471,169 472,168.9 473,168.8 474,168.8 475,168.9 476,169 477,169.2 478,169.5 479,169.8 480,170.1 481,170.6 482,171 483,171.5 484,172 485,172.5 486,173.1 487,173.6 488,174.2 489,174.8 490,175.3 491,175.9 492,176.4 493,177 494,177.5 495,178 496,178.4 497,178.9 498,179.3 499,179.7 500,180.1 501,180.4 502,180.7 503,181 504,181.3 505,181.5 506,181.7 507,182 508,182.1 509,182.3 510,182.4 511,182.6 512,182.7 513,182.8 514,182.9 515,183 516,183.1 517,183.1 518,183.2 519,183.2 520,183.3 521,183.3 522,183.3 523,183.4 524,183.4 525,183.4 526,183.4 527,183.5 528,183.5 529,183.5 530,183.5 531,183.5 532,183.5 533,183.5 534,183.5 535,183.6 536,183.6 537,183.6 538,183.6 539,183.6 540,183.6 541,183.6 542,183.6 543,183.6 544,183.6 545,183.6 546,183.6 547,183.6 548,183.6 549,183.6 550,183.6 551,183.6 552,183.6 553,183.6 554,183.7 555,183.7 556,183.7 557,183.7 558,183.7 559,183.7 560,183.7 561,183.7 562,183.7 563,183.7 564,183.7 565,183.7 566,183.7 567,183.7 568,183.7 569,183.7 570,183.7 571,183.7 572,183.7 573,183.7 574,183.7 575,183.7 576,183.7 577,183.7 578,183.7 579,183.7 580,183.7 581,183.7 582,183.7 583,183.7 584,183.7 585,183.7 586,183.7 587,183.7 588,183.7 589,183.7 590,183.7 590,183.8 589,183.8 588,183.8 587,183.8 586,183.8 585,183.8 584,183.8 583,183.8 582,183.8 581,183.8 580,183.8 579,183.8 578,183.8 577,183.8 576,183.8 575,183.8 574,183.8 573,183.8 572,183.8 571,183.8 570,183.8 569,183.8 568,183.8 567,183.8 566,183.8 565,183.8 564,183.8 563,183.8 562,183.8 561,183.8 560,183.8 559,183.8 558,183.8 557,183.8 556,183.8 555,183.8 554,183.8 553,183.8 552,183.8 551,183.8 550,183.8 549,183.8 548,183.8 547,183.8 546,183.8 545,183.8 544,183.8 543,183.8 542,183.8 541,183.8 540,183.8 539,183.8 538,183.8 537,183.8 536,183.8 535,183.8 534,183.8 533,183.8 532,183.8 531,183.8 530,183.8 529,183.8 528,183.8 527,183.8 526,183.8 525,183.8 524,183.8 523,183.8 522,183.8 521,183.8 520,183.8 519,183.8 518,183.8 517,183.8 516,183.8 515,183.8 514,183.8 513,183.8 512,183.8 511,183.8 510,183.8 509,183.8 508,183.8 507,183.8 506,183.8 505,183.8 504,183.8 503,183.8 502,183.8 501,183.8 500,183.8 499,183.8 498,183.8 497,183.8 496,183.8 495,183.8 494,183.8 493,183.8 492,183.8 491,183.8 490,183.8 489,183.8 488,183.8 487,183.8 486,183.8 485,183.8 484,183.8 483,183.8 482,183.8 481,183.8 480,183.8 479,183.8 478,183.8 477,183.8 476,183.8 475,183.8 474,183.8 473,183.8 472,183.8 471,183.8 470,183.8 469,183.8 468,183.8 467,183.8 466,183.8 465,183.8 464,183.8 463,183.8 462,183.8 461,183.8 460,183.8 459,183.8 458,183.8 457,183.8 456,183.8 455,183.8 454,183.8 453,183.8 452,183.8 451,183.8 450,183.8 449,183.8 448,183.8 447,183.8 446,183.8 445,183.8 444,183.8 443,183.8 442,183.8 441,183.8 440,183.8 439,183.8 438,183.8 437,183.8 436,183.8 435,183.8 434,183.8 433,183.8 432,183.8 431,183.8 430,183.8 429,183.8 428,183.8 427,183.8 426,183.8 425,183.8 424,183.8 423,183.8 422,183.8 421,183.8 420,183.8 419,183.8 418,183.8 417,183.8 416,183.8 415,183.8 414,183.8 413,183.8 412,183.8 411,183.8 410,183.8 409,183.8 408,183.8 407,183.8 406,183.8 405,183.8 404,183.8 403,183.8 402,183.8 401,183.8 400,183.8 399,183.8 398,183.8 397,183.8 396,183.8 395,183.8 394,183.8 393,183.8 392,183.8 391,183.8 390,183.8 389,183.8 388,183.8 387,183.8 386,183.8 385,183.8 384,183.8 383,183.8 382,183.8 381,183.8 380,183.8 379,183.8 378,183.8 377,183.8 376,183.8 375,183.8 374,183.8 373,183.8 372,183.8 371,183.8 370,183.8 369,183.8 368,183.8 367,183.8 366,183.8 365,183.8 364,183.8 363,183.8 362,183.8 361,183.8 360,183.8 359,183.8 358,183.8 357,183.8 356,183.8 355,183.8 354,183.8 353,183.8 352,183.8 351,183.8 350,183.8" fill="#FFFF70"/>
<polyline points="345,183.4 346,183.4 347,183.4 348,183.4 349,183.4 350,183.4 351,183.4 352,183.4 353,183.4 354,183.4 355,183.4 356,183.3 357,183.3 358,183.3 359,183.3 360,183.3 361,183.3 362,183.3 363,183.3 364,183.3 365,183.3 366,183.2 367,183.2 368,183.2 369,183.2 370,183.2 371,183.2 372,183.2 373,183.2 374,183.1 375,183.1 376,183.1 377,183.1 378,183.1 379,183.1 380,183 381,183 382,183 383,183 384,183 385,182.9 386,182.9 387,182.9 388,182.9 389,182.8 390,182.8 391,182.8 392,182.8 393,182.7 394,182.7 395,182.7 396,182.6 397,182.6 398,182.5 399,182.5 400,182.4 401,182.4 402,182.3 403,182.2 404,182.1 405,182 406,181.9 407,181.8 408,181.7 409,181.5 410,181.4 411,181.2 412,181 413,180.7 414,180.5 415,180.2 416,179.8 417,179.5 418,179 419,178.5 420,178 421,177.4 422,176.7 423,176 424,175.2 425,174.3 426,173.3 427,172.2 428,171.1 429,169.8 430,168.5 431,167 432,165.5 433,163.8 434,162.1 435,160.2 436,158.3 437,156.2 438,154.1 439,151.9 440,149.7 441,147.4 442,145.1 443,142.7 444,140.4 445,138 446,135.7 447,133.4 448,131.2 449,129 450,127 451,125.1 452,123.4 453,121.8 454,120.4 455,119.2 456,118.3 457,117.5 458,117.1 459,116.8 460,116.8 461,117 462,117.5 463,118.1 464,119 465,120.1 466,121.3 467,122.7 468,124.3 469,125.9 470,127.7 471,129.6 472,131.6 473,133.6 474,135.7 475,137.9 476,140 477,142.2 478,144.4 479,146.6 480,148.7 481,150.8 482,152.9 483,154.9 484,156.8 485,158.7 486,160.5 487,162.2 488,163.8 489,165.4 490,166.8 491,168.2 492,169.5 493,170.7 494,171.8 495,172.8 496,173.8 497,174.7 498,175.5 499,176.2 500,176.9 501,177.5 502,178.1 503,178.6 504,179 505,179.4 506,179.8 507,180.1 508,180.4 509,180.7 510,180.9 511,181.2 512,181.3 513,181.5 514,181.7 515,181.8 516,181.9 517,182 518,182.1 519,182.2 520,182.3 521,182.4 522,182.4 523,182.5 524,182.5 525,182.6 526,182.6 527,182.7 528,182.7 529,182.7 530,182.8 531,182.8 532,182.8 533,182.9 534,182.9 535,182.9 536,182.9 537,183 538,183 539,183 540,183 541,183 542,183.1 543,183.1 544,183.1 545,183.1 546,183.1 547,183.1 548,183.2 549,183.2 550,183.2 551,183.2 552,183.2 553,183.2 554,183.2 555,183.2 556,183.3 557,183.3 558,183.3 559,183.3 560,183.3 561,183.3 562,183.3 563,183.3 564,183.3 565,183.3 566,183.4 567,183.4 568,183.4 569,183.4 570,183.4 571,183.4 572,183.4 573,183.4 574,183.4 575,183.4 576,183.4 577,183.4 578,183.4 579,183.4 580,183.4 581,183.5 582,183.5 583,183.5 584,183.5 585,183.5 586,183.5 587,183.5 588,183.5 589,183.5 590,183.5" fill="none" stroke="#646404" stroke-width="2.8" stroke-linejoin="round"/>
<path d="M344.3 185.4h1.4M345.7 181.8h1.4M348.5 185.4h1.4M354.1 185.7h1.4M355.5 181.3h1.4M362.5 180.9h1.4M366.7 181.7h1.4M370.9 184.7h1.4M384.9 184.5h1.4M387.7 180.9h1.4M389.1 181.2h1.4M390.5 180.5h1.4M394.7 180.6h1.4M400.3 180.3h1.4M412.9 182.8h1.4M418.5 180h1.4M428.3 171.9h1.4M438.1 149.6h1.4M445.1 134h1.4M446.5 131.7h1.4M450.7 123.4h1.4M456.3 119h1.4M460.5 115.2h1.4M464.7 118.3h1.4M466.1 120.5h1.4M467.5 126.4h1.4M468.9 125.4h1.4M481.5 155h1.4M492.7 172.3h1.4M499.7 178.5h1.4M502.5 180.9h1.4M512.3 183.8h1.4M517.9 180.6h1.4M527.7 184.2h1.4M547.3 184.8h1.4M557.1 181.7h1.4M564.1 181.6h1.4M569.7 181.2h1.4M571.1 181.4h1.4M589.3 181.5h1.4" fill="none" stroke="#5E5E10" stroke-width="1.4"/>
<polygon points="345,269 346,269 347,269 348,269 349,268.9 350,268.9 351,268.9 352,268.9 353,268.9 354,268.9 355,268.9 356,268.9 357,268.9 358,268.9 359,268.9 360,268.9 361,268.9 362,268.8 363,268.8 364,268.8 365,268.8 366,268.8 367,268.8 368,268.8 369,268.8 370,268.8 371,268.8 372,268.7 373,268.7 374,268.7 375,268.7 376,268.7 377,268.7 378,268.7 379,268.7 380,268.6 381,268.6 382,268.6 383,268.6 384,268.6 385,268.6 386,268.5 387,268.5 388,268.5 389,268.5 390,268.5 391,268.4 392,268.4 393,268.4 394,268.4 395,268.3 396,268.3 397,268.3 398,268.2 399,268.2 400,268.1 401,268.1 402,268.1 403,268 404,267.9 405,267.9 406,267.8 407,267.7 408,267.6 409,267.5 410,267.4 411,267.3 412,267.2 413,267 414,266.8 415,266.6 416,266.4 417,266.1 418,265.9 419,265.5 420,265.2 421,264.8 422,264.3 423,263.8 424,263.2 425,262.6 426,261.9 427,261.1 428,260.3 429,259.4 430,258.4 431,257.3 432,256.1 433,254.9 434,253.5 435,252.1 436,250.5 437,248.9 438,247.2 439,245.4 440,243.5 441,241.5 442,239.5 443,237.4 444,235.3 445,233.1 446,230.9 447,228.7 448,226.5 449,224.4 450,222.3 451,220.2 452,218.2 453,216.3 454,214.6 455,213 456,211.6 457,210.3 458,209.2 459,208.4 460,207.8 461,207.4 462,207.3 463,207.4 464,207.8 465,208.4 466,209.2 467,210.3 468,211.6 469,213 470,214.6 471,216.3 472,218.2 473,220.2 474,222.3 475,224.4 476,226.5 477,228.7 478,230.9 479,233.1 480,235.3 481,237.4 482,239.5 483,241.5 484,243.5 485,245.4 486,247.2 487,248.9 488,250.5 489,252.1 490,253.5 491,254.9 492,256.1 493,257.3 494,258.4 495,259.4 496,260.3 497,261.1 498,261.9 499,262.6 500,263.2 501,263.8 502,264.3 503,264.8 504,265.2 505,265.5 506,265.9 507,266.1 508,266.4 509,266.6 510,266.8 511,267 512,267.2 513,267.3 514,267.4 515,267.5 516,267.6 517,267.7 518,267.8 519,267.9 520,267.9 521,268 522,268.1 523,268.1 524,268.1 525,268.2 526,268.2 527,268.3 528,268.3 529,268.3 530,268.4 531,268.4 532,268.4 533,268.4 534,268.5 535,268.5 536,268.5 537,268.5 538,268.5 539,268.6 540,268.6 541,268.6 542,268.6 543,268.6 544,268.6 545,268.7 546,268.7 547,268.7 548,268.7 549,268.7 550,268.7 551,268.7 552,268.7 553,268.8 554,268.8 555,268.8 556,268.8 557,268.8 558,268.8 559,268.8 560,268.8 561,268.8 562,268.8 563,268.9 564,268.9 565,268.9 566,268.9 567,268.9 568,268.9 569,268.9 570,268.9 571,268.9 572,268.9 573,268.9 574,268.9 575,268.9 576,269 577,269 578,269 579,269 580,269 581,269 582,269 583,269 584,269 585,269 586,269 587,269 588,269 589,269 590,269 590,269.3 589,269.3 588,269.3 587,269.3 586,269.3 585,269.3 584,269.3 583,269.3 582,269.3 581,269.3 580,269.3 579,269.3 578,269.3 577,269.3 576,269.3 575,269.3 574,269.3 573,269.3 572,269.3 571,269.3 570,269.3 569,269.3 568,269.3 567,269.3 566,269.3 565,269.3 564,269.3 563,269.3 562,269.3 561,269.3 560,269.3 559,269.3 558,269.3 557,269.3 556,269.3 555,269.3 554,269.3 553,269.3 552,269.3 551,269.3 550,269.3 549,269.3 548,269.3 547,269.3 546,269.3 545,269.3 544,269.3 543,269.3 542,269.3 541,269.3 540,269.3 539,269.3 538,269.3 537,269.3 536,269.3 535,269.3 534,269.3 533,269.3 532,269.3 531,269.3 530,269.3 529,269.3 528,269.3 527,269.3 526,269.3 525,269.3 524,269.3 523,269.3 522,269.3 521,269.3 520,269.3 519,269.3 518,269.3 517,269.3 516,269.3 515,269.3 514,269.3 513,269.3 512,269.3 511,269.3 510,269.3 509,269.3 508,269.3 507,269.3 506,269.3 505,269.3 504,269.3 503,269.3 502,269.3 501,269.3 500,269.3 499,269.3 498,269.3 497,269.3 496,269.3 495,269.3 494,269.3 493,269.3 492,269.3 491,269.3 490,269.3 489,269.3 488,269.3 487,269.3 486,269.3 485,269.3 484,269.3 483,269.3 482,269.3 481,269.3 480,269.3 479,269.3 478,269.3 477,269.3 476,269.3 475,269.3 474,269.3 473,269.3 472,269.3 471,269.3 470,269.3 469,269.3 468,269.3 467,269.3 466,269.3 465,269.3 464,269.3 463,269.3 462,269.3 461,269.3 460,269.3 459,269.3 458,269.3 457,269.3 456,269.3 455,269.3 454,269.3 453,269.3 452,269.3 451,269.3 450,269.3 449,269.3 448,269.3 447,269.3 446,269.3 445,269.3 444,269.3 443,269.3 442,269.3 441,269.3 440,269.3 439,269.3 438,269.3 437,269.3 436,269.3 435,269.3 434,269.3 433,269.3 432,269.3 431,269.3 430,269.3 429,269.3 428,269.3 427,269.3 426,269.3 425,269.3 424,269.3 423,269.3 422,269.3 421,269.3 420,269.3 419,269.3 418,269.3 417,269.3 416,269.3 415,269.3 414,269.3 413,269.3 412,269.3 411,269.3 410,269.3 409,269.3 408,269.3 407,269.3 406,269.3 405,269.3 404,269.3 403,269.3 402,269.3 401,269.3 400,269.3 399,269.3 398,269.3 397,269.3 396,269.3 395,269.3 394,269.3 393,269.3 392,269.3 391,269.3 390,269.3 389,269.3 388,269.3 387,269.3 386,269.3 385,269.3 384,269.3 383,269.3 382,269.3 381,269.3 380,269.3 379,269.3 378,269.3 377,269.3 376,269.3 375,269.3 374,269.3 373,269.3 372,269.3 371,269.3 370,269.3 369,269.3 368,269.3 367,269.3 366,269.3 365,269.3 364,269.3 363,269.3 362,269.3 361,269.3 360,269.3 359,269.3 358,269.3 357,269.3 356,269.3 355,269.3 354,269.3 353,269.3 352,269.3 351,269.3 350,269.3 349,269.3 348,269.3 347,269.3 346,269.3 345,269.3" fill="#D0CC00"/>
<polygon points="345,269.3 346,269.3 347,269.3 348,269.3 349,269.3 350,269.3 351,269.3 352,269.3 353,269.3 354,269.3 355,269.3 356,269.3 357,269.2 358,269.2 359,269.2 360,269.2 361,269.2 362,269.2 363,269.2 364,269.2 365,269.2 366,269.2 367,269.2 368,269.2 369,269.2 370,269.2 371,269.2 372,269.2 373,269.2 374,269.2 375,269.2 376,269.2 377,269.2 378,269.2 379,269.2 380,269.2 381,269.2 382,269.2 383,269.2 384,269.2 385,269.2 386,269.2 387,269.2 388,269.2 389,269.2 390,269.2 391,269.2 392,269.2 393,269.2 394,269.2 395,269.2 396,269.2 397,269.2 398,269.2 399,269.2 400,269.2 401,269.2 402,269.2 403,269.2 404,269.2 405,269.2 406,269.2 407,269.2 408,269.2 409,269.1 410,269.1 411,269.1 412,269.1 413,269.1 414,269.1 415,269.1 416,269.1 417,269.1 418,269.1 419,269.1 420,269.1 421,269 422,269 423,269 424,269 425,269 426,269 427,268.9 428,268.9 429,268.9 430,268.8 431,268.8 432,268.7 433,268.7 434,268.6 435,268.6 436,268.5 437,268.4 438,268.4 439,268.3 440,268.2 441,268.1 442,267.9 443,267.8 444,267.7 445,267.5 446,267.4 447,267.2 448,267 449,266.9 450,266.7 451,266.4 452,266.2 453,266 454,265.8 455,265.5 456,265.3 457,265 458,264.7 459,264.5 460,264.2 461,263.9 462,263.6 463,263.4 464,263.1 465,262.8 466,262.6 467,262.3 468,262.1 469,261.9 470,261.7 471,261.5 472,261.3 473,261.1 474,261 475,260.9 476,260.9 477,260.8 478,260.8 479,260.8 480,260.9 481,260.9 482,261 483,261.1 484,261.3 485,261.5 486,261.7 487,261.9 488,262.1 489,262.3 490,262.6 491,262.8 492,263.1 493,263.4 494,263.6 495,263.9 496,264.2 497,264.5 498,264.7 499,265 500,265.3 501,265.5 502,265.8 503,266 504,266.2 505,266.4 506,266.7 507,266.9 508,267 509,267.2 510,267.4 511,267.5 512,267.7 513,267.8 514,267.9 515,268.1 516,268.2 517,268.3 518,268.4 519,268.4 520,268.5 521,268.6 522,268.6 523,268.7 524,268.7 525,268.8 526,268.8 527,268.9 528,268.9 529,268.9 530,269 531,269 532,269 533,269 534,269 535,269 536,269.1 537,269.1 538,269.1 539,269.1 540,269.1 541,269.1 542,269.1 543,269.1 544,269.1 545,269.1 546,269.1 547,269.1 548,269.2 549,269.2 550,269.2 551,269.2 552,269.2 553,269.2 554,269.2 555,269.2 556,269.2 557,269.2 558,269.2 559,269.2 560,269.2 561,269.2 562,269.2 563,269.2 564,269.2 565,269.2 566,269.2 567,269.2 568,269.2 569,269.2 570,269.2 571,269.2 572,269.2 573,269.2 574,269.2 575,269.2 576,269.2 577,269.2 578,269.2 579,269.2 580,269.2 581,269.2 582,269.2 583,269.2 584,269.2 585,269.2 586,269.2 587,269.2 588,269.2 589,269.2 590,269.2 590,269.3 589,269.3 588,269.3 587,269.3 586,269.3 585,269.3 584,269.3 583,269.3 582,269.3 581,269.3 580,269.3 579,269.3 578,269.3 577,269.3 576,269.3 575,269.3 574,269.3 573,269.3 572,269.3 571,269.3 570,269.3 569,269.3 568,269.3 567,269.3 566,269.3 565,269.3 564,269.3 563,269.3 562,269.3 561,269.3 560,269.3 559,269.3 558,269.3 557,269.3 556,269.3 555,269.3 554,269.3 553,269.3 552,269.3 551,269.3 550,269.3 549,269.3 548,269.3 547,269.3 546,269.3 545,269.3 544,269.3 543,269.3 542,269.3 541,269.3 540,269.3 539,269.3 538,269.3 537,269.3 536,269.3 535,269.3 534,269.3 533,269.3 532,269.3 531,269.3 530,269.3 529,269.3 528,269.3 527,269.3 526,269.3 525,269.3 524,269.3 523,269.3 522,269.3 521,269.3 520,269.3 519,269.3 518,269.3 517,269.3 516,269.3 515,269.3 514,269.3 513,269.3 512,269.3 511,269.3 510,269.3 509,269.3 508,269.3 507,269.3 506,269.3 505,269.3 504,269.3 503,269.3 502,269.3 501,269.3 500,269.3 499,269.3 498,269.3 497,269.3 496,269.3 495,269.3 494,269.3 493,269.3 492,269.3 491,269.3 490,269.3 489,269.3 488,269.3 487,269.3 486,269.3 485,269.3 484,269.3 483,269.3 482,269.3 481,269.3 480,269.3 479,269.3 478,269.3 477,269.3 476,269.3 475,269.3 474,269.3 473,269.3 472,269.3 471,269.3 470,269.3 469,269.3 468,269.3 467,269.3 466,269.3 465,269.3 464,269.3 463,269.3 462,269.3 461,269.3 460,269.3 459,269.3 458,269.3 457,269.3 456,269.3 455,269.3 454,269.3 453,269.3 452,269.3 451,269.3 450,269.3 449,269.3 448,269.3 447,269.3 446,269.3 445,269.3 444,269.3 443,269.3 442,269.3 441,269.3 440,269.3 439,269.3 438,269.3 437,269.3 436,269.3 435,269.3 434,269.3 433,269.3 432,269.3 431,269.3 430,269.3 429,269.3 428,269.3 427,269.3 426,269.3 425,269.3 424,269.3 423,269.3 422,269.3 421,269.3 420,269.3 419,269.3 418,269.3 417,269.3 416,269.3 415,269.3 414,269.3 413,269.3 412,269.3 411,269.3 410,269.3 409,269.3 408,269.3 407,269.3 406,269.3 405,269.3 404,269.3 403,269.3 402,269.3 401,269.3 400,269.3 399,269.3 398,269.3 397,269.3 396,269.3 395,269.3 394,269.3 393,269.3 392,269.3 391,269.3 390,269.3 389,269.3 388,269.3 387,269.3 386,269.3 385,269.3 384,269.3 383,269.3 382,269.3 381,269.3 380,269.3 379,269.3 378,269.3 377,269.3 376,269.3 375,269.3 374,269.3 373,269.3 372,269.3 371,269.3 370,269.3 369,269.3 368,269.3 367,269.3 366,269.3 365,269.3 364,269.3 363,269.3 362,269.3 361,269.3 360,269.3 359,269.3 358,269.3 357,269.3 356,269.3 355,269.3 354,269.3 353,269.3 352,269.3 351,269.3 350,269.3 349,269.3 348,269.3 347,269.3 346,269.3 345,269.3" fill="#FFFF70"/>
<polyline points="345,268.9 346,268.9 347,268.9 348,268.9 349,268.9 350,268.9 351,268.9 352,268.9 353,268.9 354,268.9 355,268.9 356,268.8 357,268.8 358,268.8 359,268.8 360,268.8 361,268.8 362,268.8 363,268.8 364,268.8 365,268.8 366,268.8 367,268.7 368,268.7 369,268.7 370,268.7 371,268.7 372,268.7 373,268.7 374,268.7 375,268.6 376,268.6 377,268.6 378,268.6 379,268.6 380,268.6 381,268.5 382,268.5 383,268.5 384,268.5 385,268.5 386,268.5 387,268.4 388,268.4 389,268.4 390,268.4 391,268.3 392,268.3 393,268.3 394,268.3 395,268.2 396,268.2 397,268.2 398,268.1 399,268.1 400,268 401,268 402,267.9 403,267.9 404,267.8 405,267.7 406,267.7 407,267.6 408,267.5 409,267.4 410,267.3 411,267.1 412,267 413,266.8 414,266.7 415,266.4 416,266.2 417,265.9 418,265.6 419,265.3 420,264.9 421,264.5 422,264 423,263.5 424,262.9 425,262.3 426,261.6 427,260.8 428,259.9 429,259 430,257.9 431,256.8 432,255.6 433,254.3 434,252.9 435,251.3 436,249.7 437,248 438,246.2 439,244.3 440,242.3 441,240.3 442,238.1 443,235.9 444,233.7 445,231.3 446,229 447,226.6 448,224.3 449,221.9 450,219.6 451,217.3 452,215.1 453,213 454,211.1 455,209.2 456,207.5 457,206 458,204.7 459,203.6 460,202.7 461,202 462,201.6 463,201.5 464,201.6 465,201.9 466,202.5 467,203.3 468,204.3 469,205.6 470,206.9 471,208.5 472,210.2 473,212 474,214 475,216 476,218.1 477,220.2 478,222.4 479,224.6 480,226.8 481,229 482,231.2 483,233.4 484,235.5 485,237.5 486,239.5 487,241.5 488,243.3 489,245.1 490,246.8 491,248.4 492,249.9 493,251.4 494,252.7 495,254 496,255.2 497,256.3 498,257.3 499,258.3 500,259.2 501,260 502,260.8 503,261.5 504,262.1 505,262.7 506,263.2 507,263.7 508,264.1 509,264.5 510,264.9 511,265.2 512,265.6 513,265.8 514,266.1 515,266.3 516,266.5 517,266.7 518,266.9 519,267 520,267.2 521,267.3 522,267.4 523,267.5 524,267.6 525,267.7 526,267.8 527,267.8 528,267.9 529,268 530,268 531,268.1 532,268.1 533,268.1 534,268.2 535,268.2 536,268.3 537,268.3 538,268.3 539,268.4 540,268.4 541,268.4 542,268.4 543,268.5 544,268.5 545,268.5 546,268.5 547,268.5 548,268.6 549,268.6 550,268.6 551,268.6 552,268.6 553,268.6 554,268.6 555,268.7 556,268.7 557,268.7 558,268.7 559,268.7 560,268.7 561,268.7 562,268.7 563,268.8 564,268.8 565,268.8 566,268.8 567,268.8 568,268.8 569,268.8 570,268.8 571,268.8 572,268.8 573,268.9 574,268.9 575,268.9 576,268.9 577,268.9 578,268.9 579,268.9 580,268.9 581,268.9 582,268.9 583,268.9 584,268.9 585,268.9 586,268.9 587,268.9 588,269 589,269 590,269" fill="none" stroke="#646404" stroke-width="2.8" stroke-linejoin="round"/>
<path d="M358.3 267.4h1.4M390.5 270.5h1.4M394.7 269.9h1.4M400.3 270.3h1.4M403.1 269.8h1.4M425.5 263.5h1.4M429.7 255.6h1.4M440.9 239.9h1.4M442.3 237.8h1.4M443.7 235.7h1.4M450.7 219.6h1.4M452.1 211.2h1.4M453.5 209.3h1.4M457.7 206.1h1.4M459.1 200.4h1.4M461.9 199.4h1.4M463.3 203.8h1.4M470.3 206.7h1.4M471.7 208.3h1.4M474.5 214.4h1.4M481.5 229.1h1.4M484.3 235.8h1.4M485.7 241.5h1.4M489.9 246.5h1.4M492.7 253.4h1.4M498.3 256.7h1.4M501.1 258.5h1.4M510.9 267.6h1.4M517.9 265.5h1.4M519.3 268.7h1.4M524.9 269.5h1.4M540.3 266.8h1.4M541.7 266.8h1.4M544.5 270.4h1.4M547.3 270.3h1.4M552.9 270.6h1.4M554.3 270.7h1.4M566.9 266.7h1.4M568.3 271h1.4M571.1 267.1h1.4M573.9 266.7h1.4M575.3 266.8h1.4M576.7 271.1h1.4M579.5 270.4h1.4" fill="none" stroke="#5E5E10" stroke-width="1.4"/>
<polygon points="345,355.2 346,355.2 347,355.2 348,355.2 349,355.2 350,355.2 351,355.2 352,355.2 353,355.1 354,355.1 355,355.1 356,355.1 357,355.1 358,355.1 359,355.1 360,355.1 361,355.1 362,355.1 363,355.1 364,355.1 365,355.1 366,355.1 367,355 368,355 369,355 370,355 371,355 372,355 373,355 374,355 375,355 376,355 377,354.9 378,354.9 379,354.9 380,354.9 381,354.9 382,354.9 383,354.9 384,354.8 385,354.8 386,354.8 387,354.8 388,354.8 389,354.8 390,354.7 391,354.7 392,354.7 393,354.7 394,354.6 395,354.6 396,354.6 397,354.6 398,354.5 399,354.5 400,354.5 401,354.4 402,354.4 403,354.4 404,354.3 405,354.3 406,354.2 407,354.1 408,354.1 409,354 410,353.9 411,353.8 412,353.7 413,353.6 414,353.4 415,353.3 416,353.1 417,352.9 418,352.7 419,352.4 420,352.1 421,351.8 422,351.4 423,351 424,350.6 425,350 426,349.5 427,348.9 428,348.2 429,347.4 430,346.6 431,345.7 432,344.7 433,343.6 434,342.5 435,341.3 436,339.9 437,338.5 438,337 439,335.4 440,333.8 441,332 442,330.2 443,328.3 444,326.4 445,324.4 446,322.4 447,320.3 448,318.2 449,316.2 450,314.1 451,312.1 452,310.1 453,308.2 454,306.4 455,304.7 456,303.1 457,301.7 458,300.4 459,299.3 460,298.4 461,297.7 462,297.3 463,297 464,297 465,297.3 466,297.7 467,298.4 468,299.3 469,300.4 470,301.7 471,303.1 472,304.7 473,306.4 474,308.2 475,310.1 476,312.1 477,314.1 478,316.2 479,318.2 480,320.3 481,322.4 482,324.4 483,326.4 484,328.3 485,330.2 486,332 487,333.8 488,335.4 489,337 490,338.5 491,339.9 492,341.3 493,342.5 494,343.6 495,344.7 496,345.7 497,346.6 498,347.4 499,348.2 500,348.9 501,349.5 502,350 503,350.6 504,351 505,351.4 506,351.8 507,352.1 508,352.4 509,352.7 510,352.9 511,353.1 512,353.3 513,353.4 514,353.6 515,353.7 516,353.8 517,353.9 518,354 519,354.1 520,354.1 521,354.2 522,354.3 523,354.3 524,354.4 525,354.4 526,354.4 527,354.5 528,354.5 529,354.5 530,354.6 531,354.6 532,354.6 533,354.6 534,354.7 535,354.7 536,354.7 537,354.7 538,354.8 539,354.8 540,354.8 541,354.8 542,354.8 543,354.8 544,354.9 545,354.9 546,354.9 547,354.9 548,354.9 549,354.9 550,354.9 551,355 552,355 553,355 554,355 555,355 556,355 557,355 558,355 559,355 560,355 561,355.1 562,355.1 563,355.1 564,355.1 565,355.1 566,355.1 567,355.1 568,355.1 569,355.1 570,355.1 571,355.1 572,355.1 573,355.1 574,355.1 575,355.2 576,355.2 577,355.2 578,355.2 579,355.2 580,355.2 581,355.2 582,355.2 583,355.2 584,355.2 585,355.2 586,355.2 587,355.2 588,355.2 589,355.2 590,355.2 590,355.5 589,355.5 588,355.5 587,355.5 586,355.5 585,355.5 584,355.5 583,355.5 582,355.5 581,355.5 580,355.5 579,355.5 578,355.5 577,355.5 576,355.5 575,355.5 574,355.5 573,355.5 572,355.5 571,355.5 570,355.5 569,355.5 568,355.5 567,355.5 566,355.5 565,355.5 564,355.5 563,355.5 562,355.5 561,355.5 560,355.5 559,355.5 558,355.5 557,355.5 556,355.5 555,355.5 554,355.5 553,355.5 552,355.5 551,355.5 550,355.5 549,355.5 548,355.5 547,355.5 546,355.5 545,355.5 544,355.5 543,355.5 542,355.5 541,355.5 540,355.5 539,355.5 538,355.5 537,355.5 536,355.5 535,355.5 534,355.5 533,355.5 532,355.5 531,355.5 530,355.5 529,355.5 528,355.5 527,355.5 526,355.5 525,355.5 524,355.5 523,355.5 522,355.5 521,355.5 520,355.5 519,355.5 518,355.5 517,355.5 516,355.5 515,355.5 514,355.5 513,355.5 512,355.5 511,355.5 510,355.5 509,355.5 508,355.5 507,355.5 506,355.5 505,355.5 504,355.5 503,355.5 502,355.5 501,355.5 500,355.5 499,355.5 498,355.5 497,355.5 496,355.5 495,355.5 494,355.5 493,355.5 492,355.5 491,355.5 490,355.5 489,355.5 488,355.5 487,355.5 486,355.5 485,355.5 484,355.5 483,355.5 482,355.5 481,355.5 480,355.5 479,355.5 478,355.5 477,355.5 476,355.5 475,355.5 474,355.5 473,355.5 472,355.5 471,355.5 470,355.5 469,355.5 468,355.5 467,355.5 466,355.5 465,355.5 464,355.5 463,355.5 462,355.5 461,355.5 460,355.5 459,355.5 458,355.5 457,355.5 456,355.5 455,355.5 454,355.5 453,355.5 452,355.5 451,355.5 450,355.5 449,355.5 448,355.5 447,355.5 446,355.5 445,355.5 444,355.5 443,355.5 442,355.5 441,355.5 440,355.5 439,355.5 438,355.5 437,355.5 436,355.5 435,355.5 434,355.5 433,355.5 432,355.5 431,355.5 430,355.5 429,355.5 428,355.5 427,355.5 426,355.5 425,355.5 424,355.5 423,355.5 422,355.5 421,355.5 420,355.5 419,355.5 418,355.5 417,355.5 416,355.5 415,355.5 414,355.5 413,355.5 412,355.5 411,355.5 410,355.5 409,355.5 408,355.5 407,355.5 406,355.5 405,355.5 404,355.5 403,355.5 402,355.5 401,355.5 400,355.5 399,355.5 398,355.5 397,355.5 396,355.5 395,355.5 394,355.5 393,355.5 392,355.5 391,355.5 390,355.5 389,355.5 388,355.5 387,355.5 386,355.5 385,355.5 384,355.5 383,355.5 382,355.5 381,355.5 380,355.5 379,355.5 378,355.5 377,355.5 376,355.5 375,355.5 374,355.5 373,355.5 372,355.5 371,355.5 370,355.5 369,355.5 368,355.5 367,355.5 366,355.5 365,355.5 364,355.5 363,355.5 362,355.5 361,355.5 360,355.5 359,355.5 358,355.5 357,355.5 356,355.5 355,355.5 354,355.5 353,355.5 352,355.5 351,355.5 350,355.5 349,355.5 348,355.5 347,355.5 346,355.5 345,355.5" fill="#D0CC00"/>
<polygon points="380,355.5 381,355.5 382,355.5 383,355.5 384,355.5 385,355.5 386,355.5 387,355.5 388,355.5 389,355.5 390,355.5 391,355.5 392,355.5 393,355.5 394,355.5 395,355.5 396,355.5 397,355.5 398,355.5 399,355.5 400,355.5 401,355.5 402,355.5 403,355.5 404,355.5 405,355.5 406,355.5 407,355.4 408,355.4 409,355.4 410,355.4 411,355.4 412,355.4 413,355.4 414,355.4 415,355.4 416,355.4 417,355.4 418,355.4 419,355.4 420,355.4 421,355.4 422,355.4 423,355.4 424,355.4 425,355.4 426,355.4 427,355.4 428,355.4 429,355.4 430,355.4 431,355.4 432,355.4 433,355.4 434,355.4 435,355.4 436,355.4 437,355.4 438,355.4 439,355.3 440,355.3 441,355.3 442,355.3 443,355.3 444,355.3 445,355.2 446,355.2 447,355.2 448,355.2 449,355.1 450,355.1 451,355 452,354.9 453,354.9 454,354.8 455,354.7 456,354.6 457,354.5 458,354.3 459,354.2 460,354 461,353.8 462,353.6 463,353.4 464,353.2 465,353 466,352.7 467,352.4 468,352.2 469,351.9 470,351.6 471,351.3 472,351 473,350.7 474,350.4 475,350.2 476,349.9 477,349.7 478,349.5 479,349.3 480,349.2 481,349.1 482,349 483,349 484,349 485,349.1 486,349.2 487,349.3 488,349.5 489,349.7 490,349.9 491,350.2 492,350.4 493,350.7 494,351 495,351.3 496,351.6 497,351.9 498,352.2 499,352.4 500,352.7 501,353 502,353.2 503,353.4 504,353.6 505,353.8 506,354 507,354.2 508,354.3 509,354.5 510,354.6 511,354.7 512,354.8 513,354.9 514,354.9 515,355 516,355.1 517,355.1 518,355.2 519,355.2 520,355.2 521,355.2 522,355.3 523,355.3 524,355.3 525,355.3 526,355.3 527,355.3 528,355.4 529,355.4 530,355.4 531,355.4 532,355.4 533,355.4 534,355.4 535,355.4 536,355.4 537,355.4 538,355.4 539,355.4 540,355.4 541,355.4 542,355.4 543,355.4 544,355.4 545,355.4 546,355.4 547,355.4 548,355.4 549,355.4 550,355.4 551,355.4 552,355.4 553,355.4 554,355.4 555,355.4 556,355.4 557,355.4 558,355.4 559,355.4 560,355.5 561,355.5 562,355.5 563,355.5 564,355.5 565,355.5 566,355.5 567,355.5 568,355.5 569,355.5 570,355.5 571,355.5 572,355.5 573,355.5 574,355.5 575,355.5 576,355.5 577,355.5 578,355.5 579,355.5 580,355.5 581,355.5 582,355.5 583,355.5 584,355.5 585,355.5 586,355.5 586,355.5 585,355.5 584,355.5 583,355.5 582,355.5 581,355.5 580,355.5 579,355.5 578,355.5 577,355.5 576,355.5 575,355.5 574,355.5 573,355.5 572,355.5 571,355.5 570,355.5 569,355.5 568,355.5 567,355.5 566,355.5 565,355.5 564,355.5 563,355.5 562,355.5 561,355.5 560,355.5 559,355.5 558,355.5 557,355.5 556,355.5 555,355.5 554,355.5 553,355.5 552,355.5 551,355.5 550,355.5 549,355.5 548,355.5 547,355.5 546,355.5 545,355.5 544,355.5 543,355.5 542,355.5 541,355.5 540,355.5 539,355.5 538,355.5 537,355.5 536,355.5 535,355.5 534,355.5 533,355.5 532,355.5 531,355.5 530,355.5 529,355.5 528,355.5 527,355.5 526,355.5 525,355.5 524,355.5 523,355.5 522,355.5 521,355.5 520,355.5 519,355.5 518,355.5 517,355.5 516,355.5 515,355.5 514,355.5 513,355.5 512,355.5 511,355.5 510,355.5 509,355.5 508,355.5 507,355.5 506,355.5 505,355.5 504,355.5 503,355.5 502,355.5 501,355.5 500,355.5 499,355.5 498,355.5 497,355.5 496,355.5 495,355.5 494,355.5 493,355.5 492,355.5 491,355.5 490,355.5 489,355.5 488,355.5 487,355.5 486,355.5 485,355.5 484,355.5 483,355.5 482,355.5 481,355.5 480,355.5 479,355.5 478,355.5 477,355.5 476,355.5 475,355.5 474,355.5 473,355.5 472,355.5 471,355.5 470,355.5 469,355.5 468,355.5 467,355.5 466,355.5 465,355.5 464,355.5 463,355.5 462,355.5 461,355.5 460,355.5 459,355.5 458,355.5 457,355.5 456,355.5 455,355.5 454,355.5 453,355.5 452,355.5 451,355.5 450,355.5 449,355.5 448,355.5 447,355.5 446,355.5 445,355.5 444,355.5 443,355.5 442,355.5 441,355.5 440,355.5 439,355.5 438,355.5 437,355.5 436,355.5 435,355.5 434,355.5 433,355.5 432,355.5 431,355.5 430,355.5 429,355.5 428,355.5 427,355.5 426,355.5 425,355.5 424,355.5 423,355.5 422,355.5 421,355.5 420,355.5 419,355.5 418,355.5 417,355.5 416,355.5 415,355.5 414,355.5 413,355.5 412,355.5 411,355.5 410,355.5 409,355.5 408,355.5 407,355.5 406,355.5 405,355.5 404,355.5 403,355.5 402,355.5 401,355.5 400,355.5 399,355.5 398,355.5 397,355.5 396,355.5 395,355.5 394,355.5 393,355.5 392,355.5 391,355.5 390,355.5 389,355.5 388,355.5 387,355.5 386,355.5 385,355.5 384,355.5 383,355.5 382,355.5 381,355.5 380,355.5" fill="#FFFF70"/>
<polyline points="345,355.2 346,355.2 347,355.2 348,355.2 349,355.2 350,355.1 351,355.1 352,355.1 353,355.1 354,355.1 355,355.1 356,355.1 357,355.1 358,355.1 359,355.1 360,355.1 361,355.1 362,355.1 363,355.1 364,355 365,355 366,355 367,355 368,355 369,355 370,355 371,355 372,355 373,355 374,354.9 375,354.9 376,354.9 377,354.9 378,354.9 379,354.9 380,354.9 381,354.9 382,354.8 383,354.8 384,354.8 385,354.8 386,354.8 387,354.8 388,354.7 389,354.7 390,354.7 391,354.7 392,354.7 393,354.6 394,354.6 395,354.6 396,354.6 397,354.5 398,354.5 399,354.5 400,354.4 401,354.4 402,354.3 403,354.3 404,354.3 405,354.2 406,354.1 407,354.1 408,354 409,353.9 410,353.8 411,353.7 412,353.6 413,353.5 414,353.4 415,353.2 416,353 417,352.8 418,352.6 419,352.3 420,352 421,351.7 422,351.3 423,350.9 424,350.5 425,350 426,349.4 427,348.8 428,348.1 429,347.3 430,346.5 431,345.6 432,344.6 433,343.5 434,342.4 435,341.1 436,339.8 437,338.4 438,336.9 439,335.3 440,333.6 441,331.9 442,330 443,328.1 444,326.2 445,324.1 446,322.1 447,320 448,317.9 449,315.8 450,313.7 451,311.6 452,309.6 453,307.6 454,305.7 455,303.9 456,302.2 457,300.6 458,299.2 459,298 460,296.9 461,296.1 462,295.4 463,295 464,294.7 465,294.7 466,294.9 467,295.3 468,296 469,296.8 470,297.8 471,298.9 472,300.2 473,301.6 474,303.2 475,304.8 476,306.5 477,308.3 478,310.2 479,312.1 480,314 481,316 482,317.9 483,319.9 484,321.9 485,323.8 486,325.7 487,327.6 488,329.4 489,331.2 490,332.9 491,334.6 492,336.2 493,337.7 494,339.2 495,340.5 496,341.8 497,343 498,344.1 499,345.1 500,346.1 501,346.9 502,347.8 503,348.5 504,349.1 505,349.8 506,350.3 507,350.8 508,351.2 509,351.6 510,352 511,352.3 512,352.5 513,352.8 514,353 515,353.2 516,353.4 517,353.5 518,353.6 519,353.7 520,353.8 521,353.9 522,354 523,354.1 524,354.2 525,354.2 526,354.3 527,354.3 528,354.4 529,354.4 530,354.4 531,354.5 532,354.5 533,354.5 534,354.6 535,354.6 536,354.6 537,354.6 538,354.7 539,354.7 540,354.7 541,354.7 542,354.7 543,354.8 544,354.8 545,354.8 546,354.8 547,354.8 548,354.8 549,354.9 550,354.9 551,354.9 552,354.9 553,354.9 554,354.9 555,354.9 556,355 557,355 558,355 559,355 560,355 561,355 562,355 563,355 564,355 565,355 566,355.1 567,355.1 568,355.1 569,355.1 570,355.1 571,355.1 572,355.1 573,355.1 574,355.1 575,355.1 576,355.1 577,355.1 578,355.1 579,355.1 580,355.2 581,355.2 582,355.2 583,355.2 584,355.2 585,355.2 586,355.2 587,355.2 588,355.2 589,355.2 590,355.2" fill="none" stroke="#646404" stroke-width="2.8" stroke-linejoin="round"/>
<path d="M348.5 357.2h1.4M356.9 356.8h1.4M359.7 353.4h1.4M362.5 353.3h1.4M368.1 353.1h1.4M373.7 357.1h1.4M380.7 357.2h1.4M389.1 356.3h1.4M393.3 357h1.4M396.1 352.8h1.4M410.1 351.8h1.4M411.5 355.2h1.4M412.9 351.4h1.4M414.3 351.6h1.4M417.1 354.1h1.4M424.1 351.5h1.4M428.3 345.3h1.4M429.7 344.5h1.4M432.5 341.5h1.4M438.1 336.7h1.4M440.9 331.7h1.4M442.3 330h1.4M443.7 328h1.4M449.3 316.1h1.4M452.1 310h1.4M454.9 304.5h1.4M461.9 297h1.4M467.5 293.8h1.4M468.9 300h1.4M471.7 298.7h1.4M481.5 316h1.4M485.7 324.2h1.4M492.7 335.8h1.4M495.5 343.8h1.4M498.3 343.6h1.4M502.5 346.2h1.4M505.3 351.7h1.4M524.9 355.7h1.4M538.9 357.1h1.4M543.1 356.8h1.4M555.7 353.3h1.4M559.9 357h1.4M564.1 356.8h1.4M565.5 352.7h1.4M566.9 353.4h1.4M571.1 357.2h1.4M572.5 356.7h1.4M575.3 352.9h1.4M579.5 353.1h1.4M589.3 357.4h1.4" fill="none" stroke="#5E5E10" stroke-width="1.4"/>
<polyline points="345,378.4 346,378.4 347,378.4 348,378.4 349,378.4 350,378.4 351,378.4 352,378.4 353,378.4 354,378.4 355,378.4 356,378.4 357,378.4 358,378.4 359,378.4 360,378.4 361,378.4 362,378.4 363,378.4 364,378.4 365,378.4 366,378.4 367,378.4 368,378.4 369,378.4 370,378.4 371,378.4 372,378.4 373,378.4 374,378.4 375,378.4 376,378.4 377,378.4 378,378.4 379,378.4 380,378.4 381,378.4 382,378.4 383,378.4 384,378.4 385,378.4 386,378.4 387,378.4 388,378.4 389,378.4 390,378.4 391,378.4 392,378.4 393,378.4 394,378.4 395,378.4 396,378.4 397,378.4 398,378.4 399,378.4 400,378.4 401,378.4 402,378.4 403,378.4 404,378.4 405,378.4 406,378.4 407,378.4 408,378.4 409,378.4 410,378.4 411,378.4 412,378.4 413,378.4 414,378.4 415,378.4 416,378.4 417,378.4 418,378.4 419,378.4 420,378.4 421,378.4 422,378.4 423,378.4 424,378.4 425,378.4 426,378.4 427,378.4 428,378.4 429,378.4 430,378.4 431,378.4 432,378.4 433,378.4 434,378.4 435,378.4 436,378.4 437,378.4 438,378.4 439,378.4 440,378.4 441,378.4 442,378.4 443,378.4 444,378.4 445,378.4 446,378.4 447,378.4 448,378.4 449,378.4 450,378.4 451,378.4 452,378.4 453,378.4 454,378.4 455,378.4 456,378.4 457,378.4 458,378.4 459,378.4 460,378.4 461,378.4 462,378.4 463,378.4 464,378.4 465,378.4 466,378.4 467,378.4 468,378.4 469,378.4 470,378.4 471,378.4 472,378.4 473,378.4 474,378.4 475,378.4 476,378.4 477,378.4 478,378.4 479,378.4 480,378.4 481,378.4 482,378.4 483,378.4 484,378.4 485,378.4 486,378.4 487,378.4 488,378.4 489,378.4 490,378.4 491,378.4 492,378.4 493,378.4 494,378.4 495,378.4 496,378.4 497,378.4 498,378.4 499,378.4 500,378.4 501,378.4 502,378.4 503,378.4 504,378.4 505,378.4 506,378.4 507,378.4 508,378.4 509,378.4 510,378.4 511,378.4 512,378.4 513,378.4 514,378.4 515,378.4 516,378.4 517,378.4 518,378.4 519,378.4 520,378.4 521,378.4 522,378.4 523,378.4 524,378.4 525,378.4 526,378.4 527,378.4 528,378.4 529,378.4 530,378.4 531,378.4 532,378.4 533,378.4 534,378.4 535,378.4 536,378.4 537,378.4 538,378.4 539,378.4 540,378.4 541,378.4 542,378.4 543,378.4 544,378.4 545,378.4 546,378.4 547,378.4 548,378.4 549,378.4 550,378.4 551,378.4 552,378.4 553,378.4 554,378.4 555,378.4 556,378.4 557,378.4 558,378.4 559,378.4 560,378.4 561,378.4 562,378.4 563,378.4 564,378.4 565,378.4 566,378.4 567,378.4 568,378.4 569,378.4 570,378.4 571,378.4 572,378.4 573,378.4 574,378.4 575,378.4 576,378.4 577,378.4 578,378.4 579,378.4 580,378.4 581,378.4 582,378.4 583,378.4 584,378.4 585,378.4 586,378.4 587,378.4 588,378.4 589,378.4 590,378.4" fill="none" stroke="#646404" stroke-width="2.8" stroke-linejoin="round"/>
<path d="M344.3 376.6h1.4M345.7 377h1.4M348.5 379.9h1.4M349.9 376.4h1.4M356.9 380.6h1.4M359.7 379.9h1.4M366.7 379.9h1.4M370.9 376.7h1.4M372.3 379.8h1.4M379.3 380h1.4M386.3 380.3h1.4M391.9 380.8h1.4M396.1 376.9h1.4M407.3 376.6h1.4M411.5 376.8h1.4M424.1 376.5h1.4M426.9 376.3h1.4M428.3 380.1h1.4M438.1 376.1h1.4M463.3 380.5h1.4M473.1 377h1.4M481.5 376.9h1.4M489.9 376.4h1.4M491.3 376.7h1.4M503.9 380.3h1.4M508.1 376.8h1.4M510.9 380.7h1.4M513.7 376h1.4M516.5 380.5h1.4M517.9 380.3h1.4M523.5 380.7h1.4M524.9 380.2h1.4M529.1 380.6h1.4M530.5 380.6h1.4M537.5 380.4h1.4M540.3 380h1.4M541.7 376.9h1.4M544.5 380.2h1.4M571.1 376.4h1.4M572.5 380h1.4M580.9 376.4h1.4M582.3 380.5h1.4" fill="none" stroke="#5E5E10" stroke-width="1.4"/>
<rect x="42" y="23" width="248.5" height="380.3" fill="none" stroke="#000" stroke-width="1.5"/>
<rect x="341.8" y="21.7" width="251" height="383.3" fill="none" stroke="#000" stroke-width="1.5"/>
<!-- ticks left -->
<path d="M57.5 404V413.2M125.5 404V413.2M193.5 404V413.2M261.5 404V413.2" stroke="#000" stroke-width="1.5"/>
<path d="M364 405V414.6M401.6 405V414.6M439.2 405V414.6M476.8 405V414.6M514.3 405V414.6M551.9 405V414.6M589.5 405V414.6" stroke="#000" stroke-width="1.5"/>
<g font-size="13.6" text-anchor="middle">
<text x="57.5" y="431">295</text><text x="125.5" y="431">290</text><text x="193.5" y="431">285</text><text x="261.5" y="431">280</text>
<text x="364" y="432.2">694</text><text x="401.6" y="432.2">692</text><text x="439.2" y="432.2">690</text><text x="476.8" y="432.2">688</text><text x="514.3" y="432.2">686</text><text x="551.9" y="432.2">684</text><text x="589.5" y="432.2">682</text>
</g>
<text class="b" x="167.5" y="446" font-size="18.5" text-anchor="middle">Binding Energy (eV)</text>
<text class="b" x="470.6" y="453" font-size="18.5" text-anchor="middle">Binding Energy (eV)</text>
<text class="b" font-size="18.3" text-anchor="middle" transform="translate(37.2,230.8) rotate(-90)">Intensity (A.U.)</text>
<text class="b" font-size="18.3" text-anchor="middle" transform="translate(337.8,217.2) rotate(-90)">Intensity (A.U.)</text>
<text x="6.3" y="36.7" font-size="28.5">(a)</text>
<text x="308" y="36.3" font-size="27">(b)</text>
<text class="b" x="287.5" y="44.2" font-size="18.2" text-anchor="end">C 1s</text>
<text x="287.5" y="65.3" font-size="18.2" font-style="italic" text-anchor="end">Al Kα</text>
<text class="b" x="585.5" y="50" font-size="18.2" text-anchor="end">F 1s</text>
<text x="588.5" y="70.8" font-size="18.2" font-style="italic" text-anchor="end">Al Kα</text>
<g class="b" font-size="15.8">
<text x="287.5" y="112.5" text-anchor="end">1 Month</text>
<text x="285.5" y="176.7" text-anchor="end">1 Week</text>
<text x="289" y="248.3" text-anchor="end">24 Hours</text>
<text x="289.3" y="317.5" text-anchor="end">As Received</text>
<text x="287.3" y="398.7" text-anchor="end">Reference</text>
<text x="345.5" y="115.8">1 Month</text>
<text x="345.5" y="199.1">1 Week</text>
<text x="345.5" y="285.2">24 Hours</text>
<text x="345" y="371.6">As Received</text>
<text x="345" y="395.8">Reference</text>
</g>
<!-- legend left -->
<rect x="46" y="313.7" width="12.5" height="7.5" fill="#0030CC"/>
<rect x="46.3" y="328.3" width="13" height="8.4" fill="#0088D4"/>
<rect x="46.3" y="345.8" width="13" height="8.4" fill="#38D4FF"/>
<rect x="46.3" y="361.7" width="13" height="8.3" fill="#70A0FF"/>
<g class="b" font-size="13">
<text x="70.5" y="321.2">C-C / C-H</text>
<text x="71.5" y="336.7">CO / C-CF<tspan font-size="10" dy="3.5">x</tspan></text>
<text x="71.5" y="354">CF</text>
<text x="71.5" y="370">CF<tspan font-size="10" dy="3.5">2</tspan></text>
</g>
<!-- legend right -->
<rect x="502.5" y="302" width="12.5" height="8.8" fill="#D0CC00"/>
<rect x="502.5" y="320" width="13" height="8.3" fill="#FFFF70"/>
<g class="b" font-size="13">
<text x="526.5" y="310">CF<tspan font-size="10" dy="3.5">2</tspan></text>
<text x="528" y="327.5">CF / C-CF<tspan font-size="10" dy="3.5">x</tspan></text>
</g>
</svg>
</body></html>
